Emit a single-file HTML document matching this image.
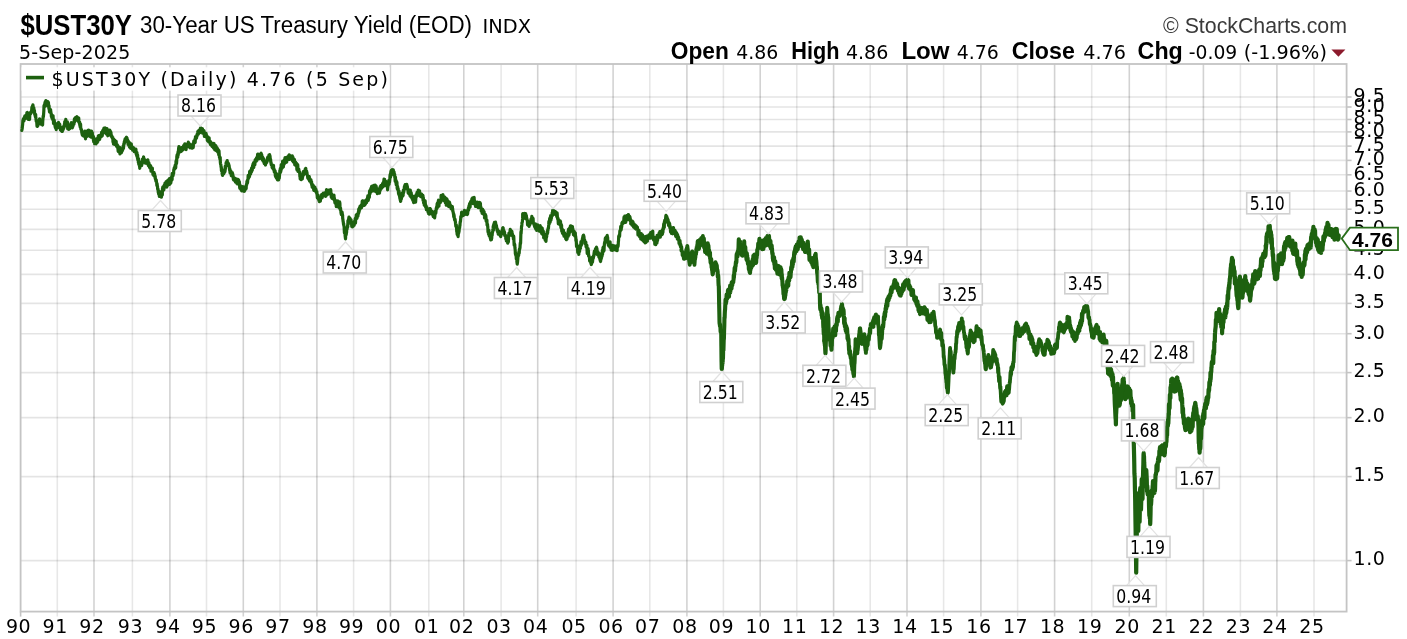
<!DOCTYPE html>
<html><head><meta charset="utf-8"><title>$UST30Y</title><style>
html,body{margin:0;padding:0;background:#fff;}
body{width:1407px;height:639px;overflow:hidden;}
svg{display:block;}
text{fill:#000;}
.ax{font-family:"DejaVu Sans",sans-serif;font-size:19px;letter-spacing:0.6px;}
.lg{font-family:"DejaVu Sans",sans-serif;font-size:19px;letter-spacing:1.1px;}
.an{font-family:"DejaVu Sans",sans-serif;font-stretch:condensed;font-size:19px;}
.lv{font-family:"Liberation Sans",sans-serif;font-size:21px;font-weight:bold;}
.t1{font-family:"Liberation Sans",sans-serif;font-size:29px;font-weight:bold;}
.t2{font-family:"Liberation Sans",sans-serif;font-size:23px;}
.t3{font-family:"DejaVu Sans",sans-serif;font-size:19.5px;}
.sc{font-family:"Liberation Sans",sans-serif;font-size:22px;fill:#3a3a3a;}
.hb{font-family:"Liberation Sans",sans-serif;font-size:23px;font-weight:bold;}
.hn{font-family:"DejaVu Sans",sans-serif;font-size:19px;}
</style></head><body>
<svg width="1407" height="639" viewBox="0 0 1407 639">
<rect x="0" y="0" width="1407" height="639" fill="#fff"/>
<line x1="20.6" y1="560.60" x2="1346.6" y2="560.60" stroke="#000" stroke-opacity="0.105" stroke-width="1.6"/>
<line x1="20.6" y1="476.60" x2="1346.6" y2="476.60" stroke="#000" stroke-opacity="0.105" stroke-width="1.6"/>
<line x1="20.6" y1="417.65" x2="1346.6" y2="417.65" stroke="#000" stroke-opacity="0.105" stroke-width="1.6"/>
<line x1="20.6" y1="372.60" x2="1346.6" y2="372.60" stroke="#000" stroke-opacity="0.105" stroke-width="1.6"/>
<line x1="20.6" y1="333.70" x2="1346.6" y2="333.70" stroke="#000" stroke-opacity="0.105" stroke-width="1.6"/>
<line x1="20.6" y1="303.40" x2="1346.6" y2="303.40" stroke="#000" stroke-opacity="0.105" stroke-width="1.6"/>
<line x1="20.6" y1="274.40" x2="1346.6" y2="274.40" stroke="#000" stroke-opacity="0.105" stroke-width="1.6"/>
<line x1="20.6" y1="250.20" x2="1346.6" y2="250.20" stroke="#000" stroke-opacity="0.105" stroke-width="1.6"/>
<line x1="20.6" y1="229.40" x2="1346.6" y2="229.40" stroke="#000" stroke-opacity="0.105" stroke-width="1.6"/>
<line x1="20.6" y1="209.20" x2="1346.6" y2="209.20" stroke="#000" stroke-opacity="0.105" stroke-width="1.6"/>
<line x1="20.6" y1="191.05" x2="1346.6" y2="191.05" stroke="#000" stroke-opacity="0.105" stroke-width="1.6"/>
<line x1="20.6" y1="174.80" x2="1346.6" y2="174.80" stroke="#000" stroke-opacity="0.105" stroke-width="1.6"/>
<line x1="20.6" y1="160.40" x2="1346.6" y2="160.40" stroke="#000" stroke-opacity="0.105" stroke-width="1.6"/>
<line x1="20.6" y1="146.10" x2="1346.6" y2="146.10" stroke="#000" stroke-opacity="0.105" stroke-width="1.6"/>
<line x1="20.6" y1="131.90" x2="1346.6" y2="131.90" stroke="#000" stroke-opacity="0.105" stroke-width="1.6"/>
<line x1="20.6" y1="119.50" x2="1346.6" y2="119.50" stroke="#000" stroke-opacity="0.105" stroke-width="1.6"/>
<line x1="20.6" y1="107.00" x2="1346.6" y2="107.00" stroke="#000" stroke-opacity="0.105" stroke-width="1.6"/>
<line x1="20.6" y1="97.00" x2="1346.6" y2="97.00" stroke="#000" stroke-opacity="0.105" stroke-width="1.6"/>
<line x1="57.30" y1="64.0" x2="57.30" y2="616.6" stroke="#000" stroke-opacity="0.095" stroke-width="1.6"/>
<line x1="94.00" y1="64.0" x2="94.00" y2="616.6" stroke="#000" stroke-opacity="0.175" stroke-width="1.6"/>
<line x1="132.40" y1="64.0" x2="132.40" y2="616.6" stroke="#000" stroke-opacity="0.095" stroke-width="1.6"/>
<line x1="169.90" y1="64.0" x2="169.90" y2="616.6" stroke="#000" stroke-opacity="0.175" stroke-width="1.6"/>
<line x1="206.50" y1="64.0" x2="206.50" y2="616.6" stroke="#000" stroke-opacity="0.095" stroke-width="1.6"/>
<line x1="243.30" y1="64.0" x2="243.30" y2="616.6" stroke="#000" stroke-opacity="0.175" stroke-width="1.6"/>
<line x1="280.00" y1="64.0" x2="280.00" y2="616.6" stroke="#000" stroke-opacity="0.095" stroke-width="1.6"/>
<line x1="316.90" y1="64.0" x2="316.90" y2="616.6" stroke="#000" stroke-opacity="0.175" stroke-width="1.6"/>
<line x1="353.60" y1="64.0" x2="353.60" y2="616.6" stroke="#000" stroke-opacity="0.095" stroke-width="1.6"/>
<line x1="390.40" y1="64.0" x2="390.40" y2="616.6" stroke="#000" stroke-opacity="0.175" stroke-width="1.6"/>
<line x1="428.80" y1="64.0" x2="428.80" y2="616.6" stroke="#000" stroke-opacity="0.095" stroke-width="1.6"/>
<line x1="463.80" y1="64.0" x2="463.80" y2="616.6" stroke="#000" stroke-opacity="0.175" stroke-width="1.6"/>
<line x1="501.10" y1="64.0" x2="501.10" y2="616.6" stroke="#000" stroke-opacity="0.095" stroke-width="1.6"/>
<line x1="537.70" y1="64.0" x2="537.70" y2="616.6" stroke="#000" stroke-opacity="0.175" stroke-width="1.6"/>
<line x1="576.10" y1="64.0" x2="576.10" y2="616.6" stroke="#000" stroke-opacity="0.095" stroke-width="1.6"/>
<line x1="613.10" y1="64.0" x2="613.10" y2="616.6" stroke="#000" stroke-opacity="0.175" stroke-width="1.6"/>
<line x1="649.80" y1="64.0" x2="649.80" y2="616.6" stroke="#000" stroke-opacity="0.095" stroke-width="1.6"/>
<line x1="686.90" y1="64.0" x2="686.90" y2="616.6" stroke="#000" stroke-opacity="0.175" stroke-width="1.6"/>
<line x1="723.40" y1="64.0" x2="723.40" y2="616.6" stroke="#000" stroke-opacity="0.095" stroke-width="1.6"/>
<line x1="760.20" y1="64.0" x2="760.20" y2="616.6" stroke="#000" stroke-opacity="0.175" stroke-width="1.6"/>
<line x1="796.80" y1="64.0" x2="796.80" y2="616.6" stroke="#000" stroke-opacity="0.095" stroke-width="1.6"/>
<line x1="833.60" y1="64.0" x2="833.60" y2="616.6" stroke="#000" stroke-opacity="0.175" stroke-width="1.6"/>
<line x1="870.20" y1="64.0" x2="870.20" y2="616.6" stroke="#000" stroke-opacity="0.095" stroke-width="1.6"/>
<line x1="907.00" y1="64.0" x2="907.00" y2="616.6" stroke="#000" stroke-opacity="0.175" stroke-width="1.6"/>
<line x1="943.60" y1="64.0" x2="943.60" y2="616.6" stroke="#000" stroke-opacity="0.095" stroke-width="1.6"/>
<line x1="980.90" y1="64.0" x2="980.90" y2="616.6" stroke="#000" stroke-opacity="0.175" stroke-width="1.6"/>
<line x1="1017.60" y1="64.0" x2="1017.60" y2="616.6" stroke="#000" stroke-opacity="0.095" stroke-width="1.6"/>
<line x1="1054.60" y1="64.0" x2="1054.60" y2="616.6" stroke="#000" stroke-opacity="0.175" stroke-width="1.6"/>
<line x1="1091.70" y1="64.0" x2="1091.70" y2="616.6" stroke="#000" stroke-opacity="0.095" stroke-width="1.6"/>
<line x1="1129.30" y1="64.0" x2="1129.30" y2="616.6" stroke="#000" stroke-opacity="0.175" stroke-width="1.6"/>
<line x1="1166.30" y1="64.0" x2="1166.30" y2="616.6" stroke="#000" stroke-opacity="0.095" stroke-width="1.6"/>
<line x1="1203.40" y1="64.0" x2="1203.40" y2="616.6" stroke="#000" stroke-opacity="0.175" stroke-width="1.6"/>
<line x1="1240.40" y1="64.0" x2="1240.40" y2="616.6" stroke="#000" stroke-opacity="0.095" stroke-width="1.6"/>
<line x1="1276.90" y1="64.0" x2="1276.90" y2="616.6" stroke="#000" stroke-opacity="0.175" stroke-width="1.6"/>
<line x1="1314.00" y1="64.0" x2="1314.00" y2="616.6" stroke="#000" stroke-opacity="0.095" stroke-width="1.6"/>
<line x1="20.6" y1="611.6" x2="20.6" y2="616.6" stroke="#c4c4c4" stroke-width="1.6"/>
<line x1="1346.6" y1="560.60" x2="1351.6" y2="560.60" stroke="#c4c4c4" stroke-width="1.6"/>
<line x1="1346.6" y1="476.60" x2="1351.6" y2="476.60" stroke="#c4c4c4" stroke-width="1.6"/>
<line x1="1346.6" y1="417.65" x2="1351.6" y2="417.65" stroke="#c4c4c4" stroke-width="1.6"/>
<line x1="1346.6" y1="372.60" x2="1351.6" y2="372.60" stroke="#c4c4c4" stroke-width="1.6"/>
<line x1="1346.6" y1="333.70" x2="1351.6" y2="333.70" stroke="#c4c4c4" stroke-width="1.6"/>
<line x1="1346.6" y1="303.40" x2="1351.6" y2="303.40" stroke="#c4c4c4" stroke-width="1.6"/>
<line x1="1346.6" y1="274.40" x2="1351.6" y2="274.40" stroke="#c4c4c4" stroke-width="1.6"/>
<line x1="1346.6" y1="250.20" x2="1351.6" y2="250.20" stroke="#c4c4c4" stroke-width="1.6"/>
<line x1="1346.6" y1="229.40" x2="1351.6" y2="229.40" stroke="#c4c4c4" stroke-width="1.6"/>
<line x1="1346.6" y1="209.20" x2="1351.6" y2="209.20" stroke="#c4c4c4" stroke-width="1.6"/>
<line x1="1346.6" y1="191.05" x2="1351.6" y2="191.05" stroke="#c4c4c4" stroke-width="1.6"/>
<line x1="1346.6" y1="174.80" x2="1351.6" y2="174.80" stroke="#c4c4c4" stroke-width="1.6"/>
<line x1="1346.6" y1="160.40" x2="1351.6" y2="160.40" stroke="#c4c4c4" stroke-width="1.6"/>
<line x1="1346.6" y1="146.10" x2="1351.6" y2="146.10" stroke="#c4c4c4" stroke-width="1.6"/>
<line x1="1346.6" y1="131.90" x2="1351.6" y2="131.90" stroke="#c4c4c4" stroke-width="1.6"/>
<line x1="1346.6" y1="119.50" x2="1351.6" y2="119.50" stroke="#c4c4c4" stroke-width="1.6"/>
<line x1="1346.6" y1="107.00" x2="1351.6" y2="107.00" stroke="#c4c4c4" stroke-width="1.6"/>
<line x1="1346.6" y1="97.00" x2="1351.6" y2="97.00" stroke="#c4c4c4" stroke-width="1.6"/>
<rect x="20.6" y="64.0" width="1326.00" height="547.60" fill="none" stroke="#c4c4c4" stroke-width="1.8"/>
<rect x="21.6" y="67.3" width="368" height="23.3" fill="#fff"/>
<rect x="26" y="75.8" width="18" height="3.6" fill="#1d610f"/>
<text x="51.5" y="85.8" class="lg" textLength="337.5">$UST30Y (Daily) 4.76 (5 Sep)</text>
<text x="1353.5" y="565.40" class="ax">1.0</text>
<text x="1353.5" y="481.40" class="ax">1.5</text>
<text x="1353.5" y="422.45" class="ax">2.0</text>
<text x="1353.5" y="377.40" class="ax">2.5</text>
<text x="1353.5" y="338.50" class="ax">3.0</text>
<text x="1353.5" y="308.20" class="ax">3.5</text>
<text x="1353.5" y="279.20" class="ax">4.0</text>
<text x="1353.5" y="255.00" class="ax">4.5</text>
<text x="1353.5" y="234.20" class="ax">5.0</text>
<text x="1353.5" y="214.00" class="ax">5.5</text>
<text x="1353.5" y="195.85" class="ax">6.0</text>
<text x="1353.5" y="179.60" class="ax">6.5</text>
<text x="1353.5" y="165.20" class="ax">7.0</text>
<text x="1353.5" y="150.90" class="ax">7.5</text>
<text x="1353.5" y="136.70" class="ax">8.0</text>
<text x="1353.5" y="124.30" class="ax">8.5</text>
<text x="1353.5" y="111.80" class="ax">9.0</text>
<text x="1353.5" y="101.80" class="ax">9.5</text>
<text x="18.60" y="633" class="ax" text-anchor="middle">90</text>
<text x="55.30" y="633" class="ax" text-anchor="middle">91</text>
<text x="92.00" y="633" class="ax" text-anchor="middle">92</text>
<text x="130.40" y="633" class="ax" text-anchor="middle">93</text>
<text x="167.90" y="633" class="ax" text-anchor="middle">94</text>
<text x="204.50" y="633" class="ax" text-anchor="middle">95</text>
<text x="241.30" y="633" class="ax" text-anchor="middle">96</text>
<text x="278.00" y="633" class="ax" text-anchor="middle">97</text>
<text x="314.90" y="633" class="ax" text-anchor="middle">98</text>
<text x="351.60" y="633" class="ax" text-anchor="middle">99</text>
<text x="388.40" y="633" class="ax" text-anchor="middle">00</text>
<text x="426.80" y="633" class="ax" text-anchor="middle">01</text>
<text x="461.80" y="633" class="ax" text-anchor="middle">02</text>
<text x="499.10" y="633" class="ax" text-anchor="middle">03</text>
<text x="535.70" y="633" class="ax" text-anchor="middle">04</text>
<text x="574.10" y="633" class="ax" text-anchor="middle">05</text>
<text x="611.10" y="633" class="ax" text-anchor="middle">06</text>
<text x="647.80" y="633" class="ax" text-anchor="middle">07</text>
<text x="684.90" y="633" class="ax" text-anchor="middle">08</text>
<text x="721.40" y="633" class="ax" text-anchor="middle">09</text>
<text x="758.20" y="633" class="ax" text-anchor="middle">10</text>
<text x="794.80" y="633" class="ax" text-anchor="middle">11</text>
<text x="831.60" y="633" class="ax" text-anchor="middle">12</text>
<text x="868.20" y="633" class="ax" text-anchor="middle">13</text>
<text x="905.00" y="633" class="ax" text-anchor="middle">14</text>
<text x="941.60" y="633" class="ax" text-anchor="middle">15</text>
<text x="978.90" y="633" class="ax" text-anchor="middle">16</text>
<text x="1015.60" y="633" class="ax" text-anchor="middle">17</text>
<text x="1052.60" y="633" class="ax" text-anchor="middle">18</text>
<text x="1089.70" y="633" class="ax" text-anchor="middle">19</text>
<text x="1127.30" y="633" class="ax" text-anchor="middle">20</text>
<text x="1164.30" y="633" class="ax" text-anchor="middle">21</text>
<text x="1201.40" y="633" class="ax" text-anchor="middle">22</text>
<text x="1238.40" y="633" class="ax" text-anchor="middle">23</text>
<text x="1274.90" y="633" class="ax" text-anchor="middle">24</text>
<text x="1312.00" y="633" class="ax" text-anchor="middle">25</text>
<path d="M21.80,130.50 L21.96,129.73 L22.12,128.95 L22.28,127.80 L22.44,125.84 L22.60,125.05 L22.90,120.33 L23.05,120.71 L23.20,119.84 L23.35,118.92 L23.50,121.35 L23.65,118.79 L23.80,119.80 L23.95,120.79 L24.10,118.88 L24.25,119.87 L24.40,117.17 L24.55,119.48 L24.70,118.85 L24.85,115.84 L25.00,118.19 L25.16,116.36 L25.31,118.89 L25.47,116.54 L25.63,116.42 L25.79,116.88 L25.94,115.92 L26.10,116.35 L26.26,115.08 L26.41,116.36 L26.57,115.56 L26.73,115.57 L26.89,112.57 L27.04,115.44 L27.20,114.97 L27.35,112.43 L27.50,114.37 L27.65,115.65 L27.80,117.02 L27.95,114.30 L28.10,117.51 L28.25,116.00 L28.40,119.47 L28.55,116.79 L28.70,117.31 L28.85,116.00 L29.00,114.57 L29.15,117.56 L29.30,118.27 L29.45,119.53 L29.60,118.98 L29.75,116.10 L29.90,113.33 L30.06,113.53 L30.21,113.21 L30.36,112.54 L30.51,114.06 L30.67,113.77 L30.82,112.42 L30.97,112.39 L31.12,111.62 L31.28,111.63 L31.43,112.16 L31.58,112.33 L31.73,109.63 L31.89,107.29 L32.04,110.70 L32.19,109.47 L32.34,110.18 L32.50,105.85 L32.65,106.11 L32.80,106.32 L32.95,104.85 L33.10,106.15 L33.25,108.76 L33.40,110.42 L33.55,112.05 L33.70,109.20 L33.85,107.89 L34.00,110.73 L34.15,112.56 L34.30,112.35 L34.45,110.39 L34.60,113.28 L34.75,114.52 L34.90,114.88 L35.05,113.84 L35.20,115.23 L35.35,116.92 L35.50,115.92 L35.65,114.22 L35.80,117.48 L35.95,119.21 L36.10,119.55 L36.25,121.49 L36.40,120.38 L36.55,121.32 L36.70,121.79 L36.85,123.67 L37.00,126.17 L37.16,123.81 L37.31,126.45 L37.47,126.33 L37.62,125.08 L37.78,124.28 L37.93,125.71 L38.09,123.09 L38.24,122.30 L38.40,120.52 L38.56,122.17 L38.71,123.86 L38.87,123.04 L39.02,122.51 L39.18,121.30 L39.33,121.38 L39.49,118.90 L39.64,121.75 L39.80,120.30 L39.96,119.10 L40.11,119.45 L40.27,119.62 L40.42,122.37 L40.58,123.67 L40.73,120.61 L40.89,123.29 L41.04,124.22 L41.20,122.47 L41.36,120.75 L41.51,121.53 L41.67,122.10 L41.82,123.91" fill="none" stroke="#1d610f" stroke-width="3.20" stroke-linejoin="round" stroke-linecap="round"/>
<path d="M41.82,123.91 L41.98,123.45 L42.13,120.88 L42.29,123.58 L42.44,121.82 L42.60,125.03 L42.76,121.03 L42.91,119.36 L43.07,117.38 L43.22,115.93 L43.38,116.90 L43.53,115.19 L43.69,112.96 L43.84,110.54 L44.00,105.67 L44.15,105.88 L44.31,105.58 L44.46,104.54 L44.61,106.14 L44.76,104.44 L44.92,103.68 L45.07,102.87 L45.22,101.79 L45.37,104.21 L45.53,106.15 L45.68,104.85 L45.83,102.58 L45.98,100.48 L46.14,102.43 L46.29,104.70 L46.44,103.81 L46.59,104.28 L46.75,105.05 L46.90,104.55 L47.06,102.47 L47.21,104.32 L47.37,104.70 L47.52,101.58 L47.68,102.57 L47.83,101.58 L47.99,103.48 L48.14,105.32 L48.30,103.64 L48.46,102.46 L48.61,106.62 L48.77,106.90 L48.92,108.85 L49.08,105.48 L49.23,108.33 L49.39,111.03 L49.54,112.00 L49.70,109.33 L49.85,109.60 L50.00,109.39 L50.16,111.39 L50.31,112.39 L50.46,111.60 L50.61,109.54 L50.77,112.41 L50.92,111.79 L51.07,113.59 L51.22,113.92 L51.37,116.40 L51.53,116.75 L51.68,114.71 L51.83,115.56 L51.98,118.20 L52.13,115.80 L52.29,116.80 L52.44,118.50 L52.59,119.37 L52.74,118.78 L52.90,116.11 L53.05,115.66 L53.20,118.05 L53.36,119.60 L53.52,123.52 L53.68,120.30 L53.85,122.66 L54.01,123.23 L54.17,120.14 L54.33,120.90 L54.49,123.02 L54.65,123.07 L54.82,124.03 L54.98,126.02 L55.14,125.36 L55.30,127.74 L55.45,126.48 L55.60,126.21 L55.76,127.72 L55.91,126.49 L56.06,127.38 L56.21,129.59 L56.37,127.87 L56.52,126.90 L56.67,127.70 L56.82,126.08 L56.97,127.56 L57.13,124.25 L57.28,125.90 L57.43,124.50 L57.58,123.44 L57.73,126.77 L57.89,123.63 L58.04,126.39 L58.19,125.37 L58.34,126.05 L58.50,122.42 L58.65,124.49 L58.80,125.37 L58.95,123.74 L59.10,123.52 L59.26,127.62 L59.41,125.72 L59.56,124.54 L59.71,124.16 L59.87,125.95 L60.02,126.61 L60.17,126.86 L60.32,129.54 L60.48,127.56 L60.63,128.46 L60.78,130.49 L60.93,127.73 L61.09,130.31 L61.24,130.37 L61.39,128.84 L61.54,128.43 L61.70,128.72 L61.85,127.93" fill="none" stroke="#1d610f" stroke-width="3.20" stroke-linejoin="round" stroke-linecap="round"/>
<path d="M61.85,127.93 L62.00,131.47 L62.15,128.68 L62.30,131.19 L62.46,131.28 L62.61,129.02 L62.76,129.40 L62.91,126.79 L63.06,129.75 L63.22,128.06 L63.37,127.95 L63.52,128.09 L63.67,128.57 L63.82,127.07 L63.98,126.85 L64.13,125.64 L64.28,125.96 L64.43,123.82 L64.58,124.73 L64.74,121.70 L64.89,122.65 L65.04,126.24 L65.19,124.26 L65.34,121.45 L65.50,122.70 L65.65,121.03 L65.80,119.31 L65.96,120.57 L66.11,123.38 L66.27,123.91 L66.42,123.57 L66.58,122.45 L66.73,122.11 L66.89,125.87 L67.04,125.56 L67.20,123.90 L67.36,121.88 L67.51,122.61 L67.67,128.80 L67.82,125.43 L67.98,126.23 L68.13,127.11 L68.29,127.02 L68.44,127.02 L68.60,125.58 L68.75,125.46 L68.91,129.48 L69.06,126.96 L69.22,128.54 L69.37,125.15 L69.52,126.20 L69.68,127.26 L69.83,128.68 L69.99,125.81 L70.14,127.47 L70.30,127.59 L70.45,125.88 L70.60,127.15 L70.76,125.44 L70.91,125.04 L71.07,126.05 L71.22,122.49 L71.38,125.08 L71.53,124.48 L71.68,123.57 L71.84,124.82 L71.99,126.94 L72.15,125.79 L72.30,127.91 L72.45,124.58 L72.60,123.08 L72.76,126.66 L72.91,125.75 L73.06,126.03 L73.21,123.19 L73.36,124.53 L73.52,123.85 L73.67,123.97 L73.82,122.87 L73.97,124.16 L74.12,121.60 L74.28,120.19 L74.43,118.83 L74.58,122.21 L74.73,120.20 L74.88,118.98 L75.04,118.59 L75.19,119.05 L75.34,117.78 L75.49,118.71 L75.64,118.31 L75.80,118.13 L75.95,117.30 L76.10,118.38 L76.26,118.10 L76.41,118.93 L76.57,119.44 L76.72,119.80 L76.88,116.58 L77.03,117.63 L77.19,117.75 L77.34,120.20 L77.50,117.47 L77.66,118.01 L77.81,118.87 L77.97,119.13 L78.12,121.26 L78.28,119.82 L78.43,121.56 L78.59,118.50 L78.74,117.98 L78.90,121.59 L79.06,122.25 L79.21,122.95 L79.37,123.04 L79.52,124.03 L79.68,122.20 L79.83,125.33 L79.99,124.47 L80.14,126.91 L80.30,126.72 L80.46,123.99 L80.61,124.63 L80.77,128.87 L80.92,128.66 L81.08,128.64 L81.23,129.98 L81.39,129.70 L81.54,129.78 L81.70,131.12 L81.85,131.65" fill="none" stroke="#1d610f" stroke-width="3.20" stroke-linejoin="round" stroke-linecap="round"/>
<path d="M81.85,131.65 L82.00,134.01 L82.16,132.65 L82.31,134.94 L82.46,135.12 L82.61,135.30 L82.76,135.40 L82.92,133.91 L83.07,133.62 L83.22,133.26 L83.37,132.41 L83.52,133.30 L83.68,132.78 L83.83,136.15 L83.98,135.59 L84.13,134.05 L84.28,131.49 L84.44,133.61 L84.59,133.79 L84.74,132.94 L84.89,132.71 L85.04,131.13 L85.20,134.92 L85.35,135.20 L85.50,138.80 L85.66,136.43 L85.81,135.22 L85.97,137.08 L86.12,135.51 L86.28,134.93 L86.43,133.79 L86.59,132.94 L86.74,135.68 L86.90,135.59 L87.06,136.48 L87.21,133.49 L87.37,133.00 L87.52,131.33 L87.68,133.44 L87.83,130.42 L87.99,132.36 L88.14,133.63 L88.30,134.38 L88.45,131.30 L88.61,133.54 L88.76,131.63 L88.92,131.11 L89.07,130.23 L89.22,133.81 L89.38,135.74 L89.53,133.08 L89.69,132.15 L89.84,132.63 L90.00,136.38 L90.15,136.17 L90.30,133.63 L90.46,131.03 L90.61,131.98 L90.77,135.10 L90.92,137.08 L91.08,134.54 L91.23,133.18 L91.38,133.08 L91.54,131.04 L91.69,134.66 L91.85,132.79 L92.00,135.50 L92.15,132.63 L92.31,132.76 L92.46,135.48 L92.61,135.06 L92.76,137.59 L92.92,137.54 L93.07,136.07 L93.22,138.65 L93.37,140.08 L93.53,136.71 L93.68,141.63 L93.83,141.44 L93.98,142.10 L94.14,138.70 L94.29,139.72 L94.44,140.90 L94.59,143.73 L94.75,141.10 L94.90,141.50 L95.05,140.33 L95.21,141.23 L95.36,142.41 L95.52,139.53 L95.67,140.22 L95.83,141.97 L95.98,143.99 L96.13,143.10 L96.29,141.26 L96.44,139.28 L96.60,138.93 L96.75,139.12 L96.90,140.28 L97.06,140.21 L97.21,142.65 L97.37,141.20 L97.52,138.61 L97.67,141.64 L97.83,141.53 L97.98,140.12 L98.14,138.31 L98.29,135.86 L98.45,136.22 L98.60,139.06 L98.75,137.19 L98.90,135.71 L99.06,137.38 L99.21,137.80 L99.36,138.32 L99.51,138.39 L99.66,139.39 L99.82,136.17 L99.97,137.77 L100.12,135.15 L100.27,136.73 L100.42,136.28 L100.58,136.09 L100.73,136.97 L100.88,135.60 L101.03,136.73 L101.18,136.56 L101.34,135.18 L101.49,133.44 L101.64,132.39 L101.79,132.16 L101.94,132.33" fill="none" stroke="#1d610f" stroke-width="3.20" stroke-linejoin="round" stroke-linecap="round"/>
<path d="M101.94,132.33 L102.10,132.40 L102.25,135.84 L102.40,134.08 L102.55,133.61 L102.71,130.95 L102.86,130.29 L103.02,130.60 L103.17,131.43 L103.33,129.79 L103.48,133.22 L103.63,130.94 L103.79,132.67 L103.94,128.02 L104.10,130.08 L104.25,131.07 L104.40,131.20 L104.56,131.80 L104.71,131.46 L104.87,131.13 L105.02,128.00 L105.17,128.66 L105.33,128.00 L105.48,130.15 L105.64,130.77 L105.79,130.24 L105.95,129.16 L106.10,129.22 L106.25,132.99 L106.40,134.04 L106.56,131.75 L106.71,133.17 L106.86,129.37 L107.01,128.55 L107.16,129.59 L107.32,129.63 L107.47,130.20 L107.62,131.57 L107.77,135.80 L107.92,132.06 L108.08,132.05 L108.23,132.43 L108.38,132.11 L108.53,133.51 L108.68,135.23 L108.84,131.26 L108.99,132.22 L109.14,131.91 L109.29,132.83 L109.44,130.35 L109.60,130.12 L109.75,130.21 L109.90,132.42 L110.05,133.29 L110.21,133.57 L110.36,131.12 L110.52,132.37 L110.67,132.66 L110.83,131.95 L110.98,132.69 L111.13,135.53 L111.29,136.35 L111.44,135.95 L111.60,136.84 L111.75,135.63 L111.90,136.49 L112.06,136.96 L112.21,138.12 L112.37,137.77 L112.52,137.80 L112.67,138.06 L112.83,137.62 L112.98,142.04 L113.14,141.04 L113.29,140.85 L113.45,143.83 L113.60,143.60 L113.75,139.17 L113.90,141.35 L114.06,142.33 L114.21,144.32 L114.36,144.19 L114.51,143.46 L114.66,140.44 L114.82,140.11 L114.97,141.85 L115.12,142.85 L115.27,140.98 L115.42,141.50 L115.58,141.75 L115.73,142.65 L115.88,143.45 L116.03,142.88 L116.18,141.41 L116.34,144.81 L116.49,146.48 L116.64,144.69 L116.79,146.08 L116.94,145.86 L117.10,146.34 L117.25,146.45 L117.40,144.84 L117.55,146.59 L117.70,148.00 L117.86,145.79 L118.01,149.65 L118.16,151.22 L118.31,151.44 L118.46,151.67 L118.62,150.56 L118.77,148.70 L118.92,147.93 L119.07,147.57 L119.22,149.04 L119.38,149.44 L119.53,150.80 L119.68,147.36 L119.83,153.02 L119.98,153.91 L120.14,152.06 L120.29,152.53 L120.44,152.55 L120.59,152.44 L120.74,151.87 L120.90,152.02 L121.05,151.19 L121.20,152.64 L121.35,152.32 L121.51,152.49 L121.66,150.44 L121.81,150.81 L121.96,150.59" fill="none" stroke="#1d610f" stroke-width="3.20" stroke-linejoin="round" stroke-linecap="round"/>
<path d="M121.96,150.59 L122.12,151.02 L122.27,148.30 L122.42,149.37 L122.58,150.19 L122.73,149.51 L122.88,147.52 L123.04,146.39 L123.19,146.09 L123.34,147.11 L123.49,148.31 L123.65,145.75 L123.80,143.92 L123.95,144.55 L124.11,144.14 L124.26,142.01 L124.41,141.28 L124.56,141.72 L124.72,142.76 L124.87,140.00 L125.02,139.16 L125.18,140.92 L125.33,138.58 L125.48,139.61 L125.64,140.02 L125.79,139.17 L125.94,138.32 L126.09,137.91 L126.25,137.51 L126.40,137.97 L126.55,137.36 L126.70,139.60 L126.85,137.89 L127.01,138.16 L127.16,139.12 L127.31,141.10 L127.46,139.59 L127.61,141.12 L127.76,140.16 L127.92,142.08 L128.07,144.40 L128.22,142.14 L128.37,142.98 L128.52,141.42 L128.67,144.06 L128.83,145.45 L128.98,144.36 L129.13,142.52 L129.28,144.53 L129.43,146.50 L129.58,147.05 L129.74,146.78 L129.89,142.76 L130.04,143.29 L130.19,146.63 L130.34,143.67 L130.49,146.34 L130.65,148.29 L130.80,147.21 L130.95,147.45 L131.10,145.53 L131.25,143.77 L131.40,145.06 L131.55,145.45 L131.71,145.94 L131.86,147.35 L132.01,146.65 L132.16,147.09 L132.31,147.72 L132.46,147.40 L132.62,150.23 L132.77,149.16 L132.92,148.49 L133.07,148.04 L133.22,147.46 L133.37,150.43 L133.53,149.71 L133.68,147.84 L133.83,148.24 L133.98,149.18 L134.13,149.19 L134.28,151.67 L134.44,149.23 L134.59,151.17 L134.74,151.41 L134.89,149.59 L135.04,150.87 L135.19,151.06 L135.35,152.04 L135.50,150.93 L135.65,151.75 L135.80,149.07 L135.95,149.54 L136.10,152.76 L136.26,154.40 L136.41,153.59 L136.56,152.77 L136.71,155.56 L136.87,152.33 L137.02,153.43 L137.17,156.50 L137.32,157.83 L137.47,156.16 L137.63,155.13 L137.78,159.88 L137.93,159.90 L138.08,158.78 L138.23,160.32 L138.39,162.51 L138.54,158.50 L138.69,163.15 L138.84,164.51 L139.00,161.16 L139.15,164.90 L139.30,162.67 L139.46,166.09 L139.61,165.95 L139.77,168.29 L139.93,165.07 L140.08,164.87 L140.24,166.31 L140.40,164.15 L140.55,163.34 L140.71,163.54 L140.87,163.99 L141.02,162.42 L141.18,164.08 L141.33,164.47 L141.49,163.68 L141.65,165.69 L141.80,163.05 L141.96,164.51 L142.12,161.97" fill="none" stroke="#1d610f" stroke-width="3.20" stroke-linejoin="round" stroke-linecap="round"/>
<path d="M142.12,161.97 L142.27,162.96 L142.43,159.03 L142.59,160.84 L142.74,160.63 L142.90,159.89 L143.05,159.50 L143.21,159.72 L143.36,159.18 L143.51,156.76 L143.67,158.48 L143.82,159.08 L143.97,159.33 L144.13,158.62 L144.28,159.81 L144.43,161.57 L144.59,160.57 L144.74,159.92 L144.89,162.53 L145.05,162.76 L145.20,162.77 L145.35,163.14 L145.51,161.05 L145.66,160.74 L145.81,162.53 L145.97,160.60 L146.12,160.74 L146.27,161.58 L146.43,161.88 L146.58,161.05 L146.73,162.75 L146.89,161.57 L147.04,162.63 L147.19,163.52 L147.35,163.17 L147.50,163.16 L147.65,160.62 L147.80,159.84 L147.95,160.86 L148.11,163.01 L148.26,165.41 L148.41,162.25 L148.56,163.80 L148.71,162.74 L148.86,162.81 L149.02,163.73 L149.17,165.66 L149.32,165.73 L149.47,167.42 L149.62,164.88 L149.77,167.14 L149.93,168.09 L150.08,167.26 L150.23,167.77 L150.38,166.52 L150.53,165.51 L150.68,166.39 L150.84,166.46 L150.99,171.17 L151.14,168.67 L151.29,171.05 L151.44,169.75 L151.59,169.68 L151.75,170.47 L151.90,168.58 L152.05,170.71 L152.20,170.70 L152.35,168.20 L152.50,170.91 L152.65,171.94 L152.80,172.38 L152.95,174.52 L153.10,172.45 L153.25,173.52 L153.40,174.49 L153.55,172.60 L153.70,175.48 L153.85,172.67 L154.00,172.34 L154.15,175.27 L154.30,174.03 L154.45,175.42 L154.60,173.83 L154.75,176.22 L154.90,175.47 L155.05,177.80 L155.20,176.02 L155.35,178.80 L155.50,178.89 L155.65,179.75 L155.80,180.15 L155.95,181.15 L156.11,179.77 L156.26,179.89 L156.42,182.00 L156.57,182.13 L156.72,183.39 L156.88,185.60 L157.03,183.55 L157.18,184.75 L157.34,186.00 L157.49,186.26 L157.65,188.96 L157.80,189.61 L157.95,189.16 L158.10,189.19 L158.25,192.31 L158.40,191.46 L158.55,193.50 L158.70,194.32 L158.85,191.46 L159.00,192.23 L159.15,194.50 L159.30,196.10 L159.47,196.44 L159.63,196.14 L159.80,195.96 L159.97,193.36 L160.13,192.38 L160.30,192.96 L160.46,192.23 L160.61,194.70 L160.77,191.94 L160.93,194.94 L161.09,195.06 L161.24,193.41 L161.40,197.10 L161.56,196.37 L161.71,195.20 L161.87,192.67 L162.02,192.30 L162.18,194.63" fill="none" stroke="#1d610f" stroke-width="3.20" stroke-linejoin="round" stroke-linecap="round"/>
<path d="M162.18,194.63 L162.33,191.28 L162.49,188.68 L162.64,187.95 L162.80,187.13 L162.95,188.46 L163.10,188.25 L163.26,187.20 L163.41,186.78 L163.56,189.29 L163.71,186.09 L163.87,190.03 L164.02,187.25 L164.17,185.38 L164.32,187.44 L164.47,187.51 L164.63,184.92 L164.78,186.62 L164.93,183.20 L165.08,183.29 L165.23,186.29 L165.39,184.99 L165.54,182.90 L165.69,184.86 L165.84,185.93 L166.00,184.71 L166.15,181.53 L166.30,182.64 L166.45,184.17 L166.61,185.14 L166.76,187.06 L166.91,184.47 L167.07,183.34 L167.22,183.66 L167.37,185.62 L167.53,182.98 L167.68,185.55 L167.83,180.21 L167.99,183.73 L168.14,182.43 L168.29,183.59 L168.45,184.13 L168.60,181.34 L168.75,182.00 L168.91,182.54 L169.06,183.08 L169.21,180.81 L169.37,179.95 L169.52,178.60 L169.67,184.40 L169.83,182.09 L169.98,181.31 L170.13,179.11 L170.29,182.04 L170.44,180.67 L170.59,183.16 L170.75,182.98 L170.90,181.63 L171.05,181.80 L171.20,178.75 L171.35,178.78 L171.51,178.15 L171.66,176.66 L171.81,177.88 L171.96,177.74 L172.11,179.80 L172.26,173.40 L172.42,174.81 L172.57,174.60 L172.72,174.87 L172.87,175.83 L173.02,175.68 L173.17,174.67 L173.33,173.20 L173.48,173.81 L173.63,173.38 L173.78,169.53 L173.93,170.34 L174.08,168.51 L174.24,167.84 L174.39,169.22 L174.54,169.10 L174.69,168.74 L174.84,166.73 L174.99,166.74 L175.15,165.26 L175.30,166.35 L175.45,166.73 L175.60,168.04 L175.75,167.15 L175.90,163.26 L176.06,162.09 L176.21,160.49 L176.36,161.36 L176.51,163.61 L176.67,161.86 L176.82,156.45 L176.97,155.71 L177.12,154.92 L177.27,156.87 L177.43,156.17 L177.58,155.88 L177.73,157.49 L177.88,153.54 L178.03,151.84 L178.19,155.18 L178.34,153.34 L178.49,150.70 L178.64,148.00 L178.80,147.33 L178.95,146.67 L179.10,148.06 L179.25,148.93 L179.40,150.64 L179.56,149.52 L179.71,148.41 L179.86,148.07 L180.01,151.98 L180.17,147.71 L180.32,149.40 L180.47,149.74 L180.62,150.78 L180.77,149.62 L180.93,150.68 L181.08,151.53 L181.23,150.18 L181.38,149.06 L181.53,148.93 L181.69,147.52 L181.84,148.03 L181.99,147.83 L182.14,148.34 L182.30,149.98" fill="none" stroke="#1d610f" stroke-width="3.20" stroke-linejoin="round" stroke-linecap="round"/>
<path d="M182.30,149.98 L182.45,150.23 L182.60,147.47 L182.75,148.13 L182.90,147.87 L183.05,148.46 L183.21,147.49 L183.36,147.54 L183.51,146.42 L183.66,145.57 L183.81,147.77 L183.96,149.04 L184.11,148.43 L184.26,147.88 L184.42,147.42 L184.57,146.18 L184.72,143.78 L184.87,146.69 L185.02,146.84 L185.17,145.72 L185.32,144.74 L185.47,147.77 L185.63,144.03 L185.78,148.21 L185.93,147.69 L186.08,149.73 L186.23,146.03 L186.38,145.79 L186.53,144.92 L186.68,145.56 L186.84,145.13 L186.99,144.11 L187.14,146.46 L187.29,144.29 L187.44,143.96 L187.59,145.37 L187.74,144.07 L187.89,143.74 L188.05,144.74 L188.20,143.87 L188.35,142.20 L188.50,143.33 L188.65,143.61 L188.80,146.64 L188.95,143.40 L189.11,145.59 L189.26,143.67 L189.41,143.80 L189.56,143.94 L189.71,144.94 L189.86,146.19 L190.02,147.95 L190.17,144.96 L190.32,147.07 L190.47,147.26 L190.62,147.10 L190.77,144.75 L190.93,146.60 L191.08,145.70 L191.23,146.18 L191.38,145.45 L191.53,146.68 L191.68,147.77 L191.84,148.04 L191.99,146.06 L192.14,147.22 L192.29,148.20 L192.44,144.87 L192.59,147.43 L192.75,143.94 L192.90,145.66 L193.05,146.20 L193.20,147.65 L193.35,145.84 L193.50,143.83 L193.66,142.43 L193.81,141.00 L193.96,143.28 L194.11,142.13 L194.27,140.75 L194.42,141.96 L194.57,140.12 L194.72,139.79 L194.87,139.40 L195.03,142.18 L195.18,142.47 L195.33,139.85 L195.48,136.69 L195.63,138.24 L195.79,138.14 L195.94,138.26 L196.09,138.35 L196.24,136.81 L196.40,138.03 L196.55,138.05 L196.70,136.92 L196.85,135.44 L197.00,134.68 L197.16,136.01 L197.31,133.51 L197.46,133.96 L197.61,133.01 L197.77,131.55 L197.92,133.90 L198.07,133.45 L198.22,133.20 L198.37,134.18 L198.53,130.71 L198.68,131.61 L198.83,132.20 L198.98,132.96 L199.13,130.02 L199.29,131.56 L199.44,131.01 L199.59,132.28 L199.74,132.06 L199.90,130.83 L200.05,132.59 L200.20,129.62 L200.35,128.33 L200.50,128.15 L200.65,127.87 L200.81,128.47 L200.96,128.05 L201.11,128.21 L201.26,129.68 L201.41,131.05 L201.56,129.54 L201.71,131.79 L201.86,129.65 L202.02,129.98 L202.17,128.78 L202.32,128.87" fill="none" stroke="#1d610f" stroke-width="3.20" stroke-linejoin="round" stroke-linecap="round"/>
<path d="M202.32,128.87 L202.47,129.35 L202.62,133.07 L202.77,132.98 L202.92,130.75 L203.07,132.69 L203.23,133.39 L203.38,132.72 L203.53,132.98 L203.68,132.68 L203.83,132.36 L203.98,130.57 L204.13,132.60 L204.28,135.34 L204.44,136.49 L204.59,134.43 L204.74,133.24 L204.89,133.78 L205.04,135.67 L205.19,135.55 L205.34,134.26 L205.49,135.36 L205.65,134.97 L205.80,136.02 L205.95,135.10 L206.10,133.37 L206.25,135.31 L206.40,137.10 L206.56,135.08 L206.71,136.11 L206.86,138.03 L207.01,136.95 L207.17,136.40 L207.32,140.33 L207.47,139.92 L207.62,140.27 L207.77,137.66 L207.93,140.82 L208.08,137.13 L208.23,137.87 L208.38,140.10 L208.53,141.80 L208.69,139.19 L208.84,138.97 L208.99,140.33 L209.14,137.81 L209.30,140.98 L209.45,141.91 L209.60,140.82 L209.75,142.04 L209.90,142.86 L210.06,142.53 L210.21,142.85 L210.36,144.50 L210.51,142.20 L210.67,142.55 L210.82,141.77 L210.97,143.90 L211.12,142.55 L211.27,143.54 L211.43,143.45 L211.58,143.43 L211.73,145.93 L211.88,144.17 L212.03,145.96 L212.19,145.86 L212.34,146.75 L212.49,145.05 L212.64,146.33 L212.80,146.66 L212.95,144.96 L213.10,145.93 L213.25,145.74 L213.40,145.94 L213.55,148.06 L213.71,145.89 L213.86,143.97 L214.01,143.44 L214.16,145.27 L214.31,145.59 L214.46,146.65 L214.61,147.78 L214.76,149.88 L214.92,148.43 L215.07,148.24 L215.22,146.47 L215.37,147.87 L215.52,149.47 L215.67,150.11 L215.82,145.68 L215.97,148.62 L216.13,150.65 L216.28,150.31 L216.43,147.00 L216.58,147.87 L216.73,149.58 L216.88,149.99 L217.03,148.48 L217.18,148.07 L217.34,150.80 L217.49,148.50 L217.64,152.00 L217.79,151.20 L217.94,151.56 L218.09,149.50 L218.24,150.13 L218.39,152.37 L218.55,150.12 L218.70,154.75 L218.85,151.31 L219.00,150.73 L219.15,153.40 L219.30,155.59 L219.46,157.38 L219.61,157.09 L219.76,158.00 L219.91,158.94 L220.07,159.39 L220.22,157.32 L220.37,162.47 L220.52,163.66 L220.67,164.57 L220.83,164.38 L220.98,166.26 L221.13,167.13 L221.28,167.97 L221.43,170.60 L221.59,167.99 L221.74,170.65 L221.89,170.32 L222.04,171.96 L222.20,173.56 L222.35,173.85" fill="none" stroke="#1d610f" stroke-width="3.20" stroke-linejoin="round" stroke-linecap="round"/>
<path d="M222.35,173.85 L222.50,175.38 L222.65,174.42 L222.80,174.67 L222.95,173.49 L223.11,171.41 L223.26,173.42 L223.41,172.80 L223.56,172.31 L223.71,173.88 L223.86,171.23 L224.02,170.89 L224.17,171.24 L224.32,171.45 L224.47,169.88 L224.62,171.35 L224.77,172.06 L224.93,169.70 L225.08,171.23 L225.23,166.05 L225.38,169.02 L225.53,166.98 L225.68,166.64 L225.84,165.44 L225.99,164.25 L226.14,162.55 L226.29,162.90 L226.44,165.03 L226.59,165.03 L226.75,162.47 L226.90,161.43 L227.05,161.02 L227.20,160.60 L227.35,163.17 L227.50,163.20 L227.66,162.74 L227.81,162.43 L227.96,162.88 L228.11,164.86 L228.27,165.45 L228.42,163.45 L228.57,165.96 L228.72,164.03 L228.87,166.41 L229.03,165.21 L229.18,166.05 L229.33,168.01 L229.48,168.92 L229.63,170.43 L229.79,168.62 L229.94,171.96 L230.09,173.03 L230.24,171.81 L230.40,172.47 L230.55,171.22 L230.70,172.08 L230.85,170.78 L231.00,172.60 L231.16,173.49 L231.31,175.59 L231.46,175.83 L231.61,175.90 L231.77,174.41 L231.92,174.34 L232.07,174.34 L232.22,175.34 L232.37,172.72 L232.53,176.01 L232.68,173.81 L232.83,174.85 L232.98,176.12 L233.13,175.92 L233.29,179.17 L233.44,177.73 L233.59,179.84 L233.74,180.03 L233.90,177.81 L234.05,178.58 L234.20,180.23 L234.35,178.51 L234.50,178.74 L234.66,178.01 L234.81,178.81 L234.96,178.59 L235.11,179.29 L235.27,180.95 L235.42,182.15 L235.57,180.79 L235.72,180.57 L235.87,181.55 L236.03,180.28 L236.18,178.90 L236.33,181.70 L236.48,179.69 L236.63,181.87 L236.79,179.89 L236.94,183.42 L237.09,180.44 L237.24,182.36 L237.40,183.97 L237.55,181.01 L237.70,183.74 L237.85,181.28 L238.00,179.25 L238.15,182.27 L238.30,183.27 L238.46,182.55 L238.61,179.95 L238.76,182.00 L238.91,182.69 L239.06,183.02 L239.21,183.48 L239.36,181.68 L239.51,183.13 L239.66,187.20 L239.81,188.28 L239.97,186.08 L240.12,185.14 L240.27,186.68 L240.42,188.33 L240.57,188.56 L240.72,186.13 L240.87,187.44 L241.02,187.89 L241.17,189.99 L241.33,190.38 L241.48,189.63 L241.63,190.51 L241.78,188.56 L241.93,190.86 L242.08,188.82 L242.23,189.50 L242.38,190.56" fill="none" stroke="#1d610f" stroke-width="3.20" stroke-linejoin="round" stroke-linecap="round"/>
<path d="M242.38,190.56 L242.53,188.34 L242.69,188.09 L242.84,186.59 L242.99,189.02 L243.14,189.53 L243.29,189.40 L243.44,190.65 L243.59,187.34 L243.74,189.38 L243.89,190.18 L244.04,189.96 L244.20,191.20 L244.35,191.38 L244.50,190.75 L244.65,189.31 L244.80,189.40 L244.95,189.76 L245.10,190.13 L245.25,187.70 L245.41,189.19 L245.56,186.27 L245.71,187.61 L245.86,187.13 L246.01,186.68 L246.16,188.64 L246.32,185.38 L246.47,184.20 L246.62,184.41 L246.77,184.68 L246.92,181.24 L247.07,182.18 L247.23,180.64 L247.38,181.80 L247.53,182.86 L247.68,180.93 L247.83,179.77 L247.98,179.49 L248.14,175.46 L248.29,178.11 L248.44,178.47 L248.59,177.72 L248.74,176.39 L248.89,175.21 L249.05,175.36 L249.20,177.11 L249.35,175.44 L249.50,176.73 L249.65,171.34 L249.81,172.57 L249.96,173.81 L250.11,173.58 L250.26,170.96 L250.42,171.42 L250.57,174.12 L250.72,171.09 L250.87,170.43 L251.03,169.89 L251.18,170.33 L251.33,171.92 L251.48,171.92 L251.64,167.79 L251.79,171.23 L251.94,168.95 L252.09,167.92 L252.25,170.51 L252.40,168.42 L252.55,165.77 L252.71,165.49 L252.86,164.93 L253.01,164.00 L253.16,164.35 L253.32,165.89 L253.47,165.41 L253.62,162.54 L253.77,167.46 L253.93,163.27 L254.08,163.38 L254.23,163.06 L254.38,163.79 L254.54,162.22 L254.69,162.65 L254.84,164.93 L254.99,162.49 L255.15,159.83 L255.30,160.84 L255.45,159.51 L255.60,159.66 L255.75,160.44 L255.91,160.81 L256.06,159.96 L256.21,161.26 L256.36,160.08 L256.51,157.83 L256.66,160.07 L256.82,158.72 L256.97,160.36 L257.12,157.93 L257.27,158.74 L257.42,158.39 L257.57,154.33 L257.73,154.17 L257.88,154.15 L258.03,157.99 L258.18,154.48 L258.33,157.52 L258.48,158.75 L258.64,158.31 L258.79,158.50 L258.94,156.93 L259.09,157.22 L259.24,157.70 L259.39,158.19 L259.55,158.49 L259.70,157.06 L259.85,155.72 L260.00,155.33 L260.15,156.75 L260.30,154.24 L260.45,154.11 L260.61,155.32 L260.76,155.52 L260.91,156.03 L261.06,153.16 L261.21,155.20 L261.36,156.08 L261.51,157.87 L261.66,154.47 L261.82,155.90 L261.97,157.50 L262.12,158.04 L262.27,159.33 L262.42,159.79" fill="none" stroke="#1d610f" stroke-width="3.20" stroke-linejoin="round" stroke-linecap="round"/>
<path d="M262.42,159.79 L262.57,157.12 L262.72,158.96 L262.87,158.33 L263.03,157.69 L263.18,161.08 L263.33,159.20 L263.48,158.53 L263.63,159.19 L263.78,158.97 L263.93,161.80 L264.08,161.96 L264.24,163.70 L264.39,163.02 L264.54,161.55 L264.69,163.72 L264.84,162.14 L264.99,162.16 L265.14,162.70 L265.29,163.17 L265.45,165.02 L265.60,163.03 L265.75,163.85 L265.90,163.60 L266.05,161.41 L266.20,160.77 L266.36,161.61 L266.51,162.55 L266.66,162.48 L266.81,162.47 L266.97,161.62 L267.12,160.42 L267.27,161.11 L267.42,159.02 L267.57,157.68 L267.73,158.58 L267.88,157.09 L268.03,157.79 L268.18,157.50 L268.33,157.51 L268.49,158.08 L268.64,156.98 L268.79,157.03 L268.94,155.01 L269.10,156.91 L269.25,155.82 L269.40,157.18 L269.55,154.59 L269.70,155.37 L269.86,157.72 L270.01,155.77 L270.16,157.80 L270.31,159.77 L270.46,160.86 L270.61,159.37 L270.77,161.91 L270.92,163.05 L271.07,162.26 L271.22,164.73 L271.37,164.51 L271.53,164.76 L271.68,164.37 L271.83,165.92 L271.98,165.95 L272.13,167.68 L272.29,167.43 L272.44,166.02 L272.59,166.39 L272.74,168.37 L272.89,167.32 L273.04,168.31 L273.20,169.03 L273.35,168.44 L273.50,165.37 L273.65,168.25 L273.80,169.51 L273.96,170.04 L274.11,169.17 L274.26,172.03 L274.41,171.20 L274.56,170.51 L274.71,170.43 L274.87,172.23 L275.02,170.94 L275.17,170.94 L275.32,175.56 L275.47,176.21 L275.63,176.30 L275.78,177.05 L275.93,176.42 L276.08,173.18 L276.23,176.66 L276.39,178.03 L276.54,177.62 L276.69,174.21 L276.84,178.18 L276.99,178.63 L277.14,177.98 L277.30,178.64 L277.45,179.81 L277.60,179.60 L277.75,179.75 L277.90,179.20 L278.05,178.84 L278.21,178.27 L278.36,175.39 L278.51,174.96 L278.66,179.82 L278.81,177.82 L278.96,178.21 L279.12,177.80 L279.27,178.00 L279.42,176.40 L279.57,173.91 L279.72,173.64 L279.87,170.28 L280.03,171.36 L280.18,172.84 L280.33,168.40 L280.48,170.06 L280.63,171.04 L280.78,171.64 L280.94,168.11 L281.09,167.02 L281.24,164.48 L281.39,164.68 L281.54,166.68 L281.69,169.20 L281.85,164.95 L282.00,167.03 L282.15,165.95 L282.30,163.96 L282.45,167.21" fill="none" stroke="#1d610f" stroke-width="3.20" stroke-linejoin="round" stroke-linecap="round"/>
<path d="M282.45,167.21 L282.60,161.17 L282.76,162.79 L282.91,163.55 L283.06,166.42 L283.21,166.65 L283.37,166.90 L283.52,164.09 L283.67,164.35 L283.82,164.84 L283.97,163.60 L284.13,162.87 L284.28,161.72 L284.43,160.91 L284.58,159.33 L284.73,163.34 L284.89,160.92 L285.04,157.67 L285.19,159.97 L285.34,160.08 L285.50,160.27 L285.65,162.54 L285.80,160.26 L285.95,159.18 L286.10,157.99 L286.26,158.53 L286.41,157.92 L286.56,158.51 L286.71,162.21 L286.87,159.75 L287.02,157.02 L287.17,160.11 L287.32,159.31 L287.47,158.85 L287.63,158.46 L287.78,158.38 L287.93,158.03 L288.08,158.87 L288.23,158.42 L288.39,158.66 L288.54,155.91 L288.69,155.70 L288.84,155.31 L289.00,156.42 L289.15,156.71 L289.30,154.78 L289.45,156.02 L289.60,159.47 L289.75,158.71 L289.90,155.50 L290.06,155.82 L290.21,157.23 L290.36,156.83 L290.51,157.50 L290.66,159.03 L290.81,158.43 L290.96,156.34 L291.11,158.53 L291.26,158.18 L291.41,158.55 L291.57,157.85 L291.72,156.62 L291.87,156.62 L292.02,158.10 L292.17,157.67 L292.32,155.90 L292.47,160.59 L292.62,158.79 L292.77,158.99 L292.93,161.01 L293.08,157.44 L293.23,161.98 L293.38,160.38 L293.53,162.11 L293.68,161.08 L293.83,162.05 L293.98,162.17 L294.13,162.17 L294.29,159.63 L294.44,159.51 L294.59,161.68 L294.74,164.58 L294.89,162.71 L295.04,163.85 L295.19,163.77 L295.34,164.34 L295.49,165.38 L295.64,162.19 L295.80,163.98 L295.95,164.00 L296.10,163.96 L296.25,163.30 L296.40,163.35 L296.55,163.38 L296.70,163.59 L296.85,169.22 L297.01,170.03 L297.16,168.10 L297.31,168.89 L297.46,166.92 L297.61,164.63 L297.76,165.05 L297.92,168.26 L298.07,171.46 L298.22,170.55 L298.37,169.18 L298.52,170.17 L298.67,169.67 L298.83,169.23 L298.98,171.09 L299.13,171.69 L299.28,171.57 L299.43,171.72 L299.58,171.99 L299.74,174.07 L299.89,176.68 L300.04,175.42 L300.19,178.91 L300.34,174.61 L300.49,176.39 L300.65,175.12 L300.80,176.49 L300.95,177.57 L301.10,178.82 L301.25,179.70 L301.40,177.34 L301.55,175.48 L301.71,176.30 L301.86,177.10 L302.01,175.73 L302.16,177.48 L302.31,178.91 L302.46,174.58" fill="none" stroke="#1d610f" stroke-width="3.20" stroke-linejoin="round" stroke-linecap="round"/>
<path d="M302.46,174.58 L302.62,175.66 L302.77,176.72 L302.92,172.53 L303.07,174.15 L303.22,173.79 L303.37,171.71 L303.53,174.87 L303.68,173.98 L303.83,172.62 L303.98,173.45 L304.13,173.87 L304.28,174.07 L304.44,173.74 L304.59,173.28 L304.74,170.71 L304.89,170.93 L305.04,171.68 L305.19,169.06 L305.35,173.40 L305.50,171.34 L305.65,169.62 L305.80,168.30 L305.95,170.75 L306.10,171.53 L306.25,171.09 L306.41,171.44 L306.56,171.12 L306.71,171.54 L306.86,172.91 L307.01,172.82 L307.16,175.02 L307.32,174.77 L307.47,175.40 L307.62,176.28 L307.77,178.10 L307.92,177.96 L308.07,177.67 L308.23,177.30 L308.38,176.55 L308.53,177.29 L308.68,179.26 L308.83,179.29 L308.98,178.56 L309.14,177.12 L309.29,176.55 L309.44,179.25 L309.59,181.25 L309.74,181.05 L309.89,178.59 L310.05,179.71 L310.20,180.84 L310.35,179.67 L310.50,181.32 L310.65,181.20 L310.80,180.41 L310.96,179.75 L311.11,182.85 L311.26,183.38 L311.41,181.98 L311.56,181.64 L311.71,184.58 L311.87,185.29 L312.02,184.45 L312.17,187.23 L312.32,185.58 L312.47,184.22 L312.63,187.21 L312.78,186.50 L312.93,187.33 L313.08,187.39 L313.23,186.11 L313.39,185.61 L313.54,187.09 L313.69,190.04 L313.84,187.59 L313.99,190.48 L314.14,189.86 L314.30,187.90 L314.45,189.50 L314.60,190.60 L314.75,188.96 L314.90,187.15 L315.06,190.03 L315.21,189.01 L315.36,191.15 L315.51,188.53 L315.66,190.51 L315.81,190.30 L315.97,189.44 L316.12,191.27 L316.27,192.67 L316.42,192.27 L316.57,191.49 L316.73,193.54 L316.88,191.54 L317.03,194.52 L317.18,195.60 L317.33,197.90 L317.49,197.68 L317.64,197.09 L317.79,197.03 L317.94,196.91 L318.09,195.15 L318.24,198.94 L318.40,199.04 L318.55,198.22 L318.70,197.04 L318.85,200.36 L319.01,199.96 L319.16,197.32 L319.31,199.23 L319.46,201.57 L319.62,199.46 L319.77,199.43 L319.92,198.22 L320.07,197.48 L320.23,199.57 L320.38,201.19 L320.53,199.28 L320.68,197.94 L320.84,198.74 L320.99,197.24 L321.14,198.15 L321.29,198.44 L321.45,195.69 L321.60,194.65 L321.75,195.65 L321.91,197.13 L322.06,196.63 L322.21,197.74 L322.36,194.20 L322.52,195.81" fill="none" stroke="#1d610f" stroke-width="3.20" stroke-linejoin="round" stroke-linecap="round"/>
<path d="M322.52,195.81 L322.67,194.59 L322.82,195.22 L322.97,195.66 L323.13,193.84 L323.28,194.31 L323.43,193.02 L323.58,194.65 L323.74,193.44 L323.89,193.53 L324.04,194.53 L324.19,193.49 L324.35,195.74 L324.50,193.74 L324.65,195.37 L324.81,195.06 L324.96,193.07 L325.12,193.56 L325.27,192.74 L325.42,193.12 L325.58,193.30 L325.73,196.33 L325.89,193.92 L326.04,196.02 L326.19,194.96 L326.35,192.02 L326.50,189.61 L326.66,193.17 L326.81,190.30 L326.96,193.31 L327.12,194.61 L327.27,194.05 L327.43,192.98 L327.58,192.56 L327.74,193.14 L327.89,192.47 L328.04,191.90 L328.20,191.93 L328.35,194.14 L328.51,192.17 L328.66,193.00 L328.81,190.99 L328.97,190.99 L329.12,190.00 L329.28,191.38 L329.43,193.05 L329.58,192.97 L329.74,191.76 L329.89,192.98 L330.05,191.92 L330.20,192.63 L330.35,192.96 L330.50,193.64 L330.65,189.63 L330.81,190.32 L330.96,193.72 L331.11,193.65 L331.26,197.22 L331.41,194.87 L331.56,193.89 L331.71,196.74 L331.86,196.42 L332.02,198.47 L332.17,197.26 L332.32,196.05 L332.47,197.23 L332.62,195.58 L332.77,195.77 L332.92,195.87 L333.07,196.57 L333.23,198.43 L333.38,197.35 L333.53,198.38 L333.68,197.69 L333.83,199.68 L333.98,195.19 L334.13,197.74 L334.28,199.26 L334.44,198.12 L334.59,201.03 L334.74,200.95 L334.89,202.69 L335.04,202.96 L335.19,202.78 L335.34,201.79 L335.49,200.35 L335.65,201.39 L335.80,201.56 L335.95,202.85 L336.10,202.41 L336.25,206.55 L336.40,202.11 L336.56,204.68 L336.71,203.13 L336.86,203.05 L337.01,204.78 L337.17,204.02 L337.32,202.10 L337.47,203.94 L337.62,203.67 L337.77,200.96 L337.93,203.47 L338.08,202.47 L338.23,202.69 L338.38,204.59 L338.53,204.96 L338.69,204.28 L338.84,207.44 L338.99,206.26 L339.14,204.39 L339.30,205.12 L339.45,204.89 L339.60,201.86 L339.76,202.54 L339.91,203.50 L340.07,209.28 L340.23,208.18 L340.38,208.09 L340.54,208.03 L340.70,210.64 L340.85,210.43 L341.01,213.19 L341.17,213.08 L341.32,214.67 L341.48,212.99 L341.63,213.59 L341.79,212.99 L341.95,213.65 L342.10,212.10 L342.26,213.79 L342.42,214.26 L342.57,215.32" fill="none" stroke="#1d610f" stroke-width="3.20" stroke-linejoin="round" stroke-linecap="round"/>
<path d="M342.57,215.32 L342.73,218.84 L342.89,219.00 L343.04,220.94 L343.20,221.48 L343.35,222.82 L343.51,224.25 L343.66,223.26 L343.81,225.90 L343.97,225.97 L344.12,226.60 L344.27,230.19 L344.43,232.93 L344.58,230.95 L344.73,232.63 L344.89,233.89 L345.04,234.39 L345.19,236.27 L345.35,237.65 L345.50,238.85 L345.65,236.74 L345.80,234.01 L345.96,234.33 L346.11,234.86 L346.26,234.15 L346.41,233.00 L346.57,232.71 L346.72,228.99 L346.87,228.64 L347.02,228.47 L347.17,228.76 L347.33,227.01 L347.48,226.40 L347.63,225.05 L347.78,226.87 L347.93,220.61 L348.09,221.24 L348.24,224.43 L348.39,221.54 L348.54,219.60 L348.70,218.73 L348.85,217.87 L349.00,217.00 L349.15,217.36 L349.30,219.86 L349.46,219.18 L349.61,219.53 L349.76,220.39 L349.91,219.71 L350.07,218.23 L350.22,219.15 L350.37,220.43 L350.52,220.26 L350.67,219.99 L350.83,220.69 L350.98,219.59 L351.13,220.29 L351.28,222.19 L351.43,222.70 L351.59,223.77 L351.74,226.41 L351.89,225.94 L352.04,225.66 L352.20,224.27 L352.35,224.33 L352.50,226.78 L352.65,225.40 L352.80,226.66 L352.95,224.55 L353.10,225.39 L353.25,225.07 L353.40,226.24 L353.55,224.32 L353.70,223.50 L353.85,223.87 L354.00,223.43 L354.15,225.39 L354.30,222.89 L354.45,221.46 L354.60,221.08 L354.75,221.83 L354.90,221.44 L355.05,221.71 L355.20,218.52 L355.35,222.86 L355.50,222.97 L355.65,220.03 L355.80,217.26 L355.95,218.28 L356.10,218.81 L356.25,214.84 L356.41,216.62 L356.56,214.74 L356.71,216.70 L356.87,218.36 L357.02,218.09 L357.17,214.08 L357.33,216.78 L357.48,216.64 L357.63,214.50 L357.79,214.84 L357.94,216.15 L358.09,213.60 L358.25,213.03 L358.40,211.80 L358.55,213.63 L358.71,209.12 L358.86,212.65 L359.01,209.98 L359.17,211.64 L359.32,208.17 L359.47,207.85 L359.63,207.96 L359.78,209.78 L359.93,206.42 L360.09,208.20 L360.24,206.55 L360.39,208.38 L360.55,206.29 L360.70,206.41 L360.85,205.54 L361.00,208.02 L361.15,205.56 L361.31,205.21 L361.46,207.91 L361.61,205.87 L361.76,206.05 L361.91,203.95 L362.06,204.58 L362.22,201.11 L362.37,203.40 L362.52,202.91 L362.67,201.43" fill="none" stroke="#1d610f" stroke-width="3.20" stroke-linejoin="round" stroke-linecap="round"/>
<path d="M362.67,201.43 L362.82,201.02 L362.97,204.49 L363.13,204.52 L363.28,201.72 L363.43,205.68 L363.58,203.23 L363.73,202.96 L363.88,203.76 L364.04,202.00 L364.19,200.76 L364.34,201.64 L364.49,204.68 L364.64,205.25 L364.79,201.76 L364.95,204.72 L365.10,203.91 L365.25,204.33 L365.40,203.80 L365.55,203.81 L365.70,201.51 L365.85,200.70 L366.01,200.50 L366.16,200.71 L366.31,202.03 L366.46,199.59 L366.61,202.73 L366.76,200.27 L366.91,199.41 L367.06,200.83 L367.22,200.68 L367.37,199.33 L367.52,197.69 L367.67,197.11 L367.82,195.89 L367.97,199.29 L368.12,200.04 L368.27,200.29 L368.43,199.13 L368.58,197.90 L368.73,197.78 L368.88,197.66 L369.03,195.51 L369.18,195.39 L369.33,197.57 L369.48,192.33 L369.64,190.80 L369.79,190.62 L369.94,192.67 L370.09,193.55 L370.24,191.25 L370.39,191.65 L370.54,190.37 L370.69,190.12 L370.85,188.47 L371.00,188.35 L371.15,188.01 L371.30,189.38 L371.45,191.56 L371.60,186.42 L371.75,188.32 L371.91,188.17 L372.06,189.59 L372.21,190.20 L372.36,190.03 L372.51,190.08 L372.66,187.61 L372.82,185.83 L372.97,190.23 L373.12,190.93 L373.27,188.00 L373.42,190.28 L373.57,190.01 L373.73,185.37 L373.88,188.76 L374.03,187.00 L374.18,189.53 L374.33,187.57 L374.48,186.83 L374.64,185.40 L374.79,186.84 L374.94,189.00 L375.09,187.18 L375.24,185.06 L375.39,190.30 L375.55,191.53 L375.70,190.32 L375.85,188.28 L376.00,186.78 L376.15,185.96 L376.30,189.09 L376.46,191.29 L376.61,188.74 L376.76,189.71 L376.91,189.79 L377.07,189.85 L377.22,191.03 L377.37,193.74 L377.52,190.68 L377.67,191.97 L377.83,192.76 L377.98,191.08 L378.13,190.84 L378.28,189.05 L378.43,192.04 L378.59,190.63 L378.74,190.05 L378.89,190.95 L379.04,189.90 L379.20,189.35 L379.35,190.28 L379.50,193.17 L379.65,191.08 L379.80,191.16 L379.95,187.95 L380.11,186.88 L380.26,190.50 L380.41,188.56 L380.56,186.16 L380.71,187.35 L380.86,188.58 L381.02,185.41 L381.17,185.52 L381.32,187.04 L381.47,185.62 L381.62,187.52 L381.77,188.17 L381.93,187.44 L382.08,185.80 L382.23,185.46 L382.38,184.16 L382.53,184.15 L382.68,184.45" fill="none" stroke="#1d610f" stroke-width="3.20" stroke-linejoin="round" stroke-linecap="round"/>
<path d="M382.68,184.45 L382.84,183.30 L382.99,184.45 L383.14,186.64 L383.29,182.56 L383.44,182.27 L383.59,182.54 L383.75,182.01 L383.90,180.23 L384.05,179.00 L384.20,180.43 L384.35,180.71 L384.50,180.96 L384.66,179.42 L384.81,181.33 L384.96,182.43 L385.11,181.63 L385.27,182.88 L385.42,185.76 L385.57,181.04 L385.72,183.52 L385.87,181.97 L386.03,181.52 L386.18,183.31 L386.33,185.26 L386.48,185.42 L386.63,184.00 L386.79,183.46 L386.94,184.87 L387.09,186.41 L387.24,185.93 L387.40,185.10 L387.55,189.79 L387.70,187.54 L387.85,187.13 L388.00,185.97 L388.15,185.10 L388.31,185.28 L388.46,184.38 L388.61,184.97 L388.76,182.06 L388.91,180.29 L389.06,184.27 L389.22,182.06 L389.37,182.16 L389.52,182.32 L389.67,180.99 L389.82,179.37 L389.97,176.11 L390.13,174.62 L390.28,177.42 L390.43,177.37 L390.58,176.73 L390.73,172.89 L390.88,171.78 L391.04,171.21 L391.19,170.68 L391.34,172.09 L391.49,170.38 L391.64,173.25 L391.79,171.17 L391.95,170.60 L392.10,170.66 L392.25,169.87 L392.40,169.34 L392.55,169.95 L392.70,172.68 L392.86,170.43 L393.01,170.93 L393.16,171.44 L393.31,169.89 L393.47,172.26 L393.62,173.89 L393.77,175.16 L393.92,175.14 L394.07,171.95 L394.23,174.28 L394.38,174.42 L394.53,174.11 L394.68,174.50 L394.83,177.72 L394.99,177.53 L395.14,181.15 L395.29,180.45 L395.44,177.16 L395.60,180.65 L395.75,182.60 L395.90,181.80 L396.05,180.24 L396.20,184.57 L396.35,181.83 L396.51,183.26 L396.66,181.50 L396.81,182.39 L396.96,182.47 L397.11,187.03 L397.26,189.00 L397.42,187.74 L397.57,186.44 L397.72,188.41 L397.87,190.11 L398.02,188.30 L398.17,188.76 L398.33,190.91 L398.48,193.20 L398.63,193.43 L398.78,194.52 L398.93,192.83 L399.08,191.09 L399.24,195.01 L399.39,194.86 L399.54,196.44 L399.69,196.87 L399.84,198.37 L399.99,197.48 L400.15,199.58 L400.30,199.92 L400.45,200.71 L400.60,201.39 L400.75,200.91 L400.90,200.00 L401.05,195.96 L401.21,195.92 L401.36,198.93 L401.51,197.83 L401.66,197.27 L401.81,196.66 L401.96,194.55 L402.12,193.56 L402.27,193.01 L402.42,195.19 L402.57,194.38 L402.72,195.91" fill="none" stroke="#1d610f" stroke-width="3.20" stroke-linejoin="round" stroke-linecap="round"/>
<path d="M402.72,195.91 L402.87,194.19 L403.03,195.42 L403.18,193.38 L403.33,190.06 L403.48,193.05 L403.63,191.59 L403.78,192.10 L403.94,190.52 L404.09,188.95 L404.24,188.91 L404.39,186.66 L404.54,186.57 L404.69,186.07 L404.85,185.58 L405.00,185.09 L405.15,184.59 L405.30,184.97 L405.45,188.01 L405.60,188.77 L405.75,186.34 L405.91,187.11 L406.06,185.85 L406.21,186.49 L406.36,186.19 L406.51,185.48 L406.66,186.30 L406.82,184.38 L406.97,186.78 L407.12,186.83 L407.27,186.01 L407.42,187.16 L407.57,189.18 L407.73,188.30 L407.88,190.07 L408.03,191.07 L408.18,193.16 L408.33,190.07 L408.48,190.62 L408.64,191.79 L408.79,193.69 L408.94,192.52 L409.09,192.98 L409.24,189.93 L409.39,190.41 L409.55,193.96 L409.70,192.24 L409.85,195.43 L410.00,192.21 L410.15,192.00 L410.30,190.08 L410.45,193.09 L410.61,193.69 L410.76,196.71 L410.91,195.13 L411.06,194.28 L411.21,192.56 L411.36,194.25 L411.52,196.53 L411.67,197.15 L411.82,198.30 L411.97,198.36 L412.12,197.27 L412.27,198.15 L412.43,198.02 L412.58,196.00 L412.73,200.15 L412.88,199.66 L413.03,197.65 L413.18,199.42 L413.34,200.05 L413.49,201.43 L413.64,202.61 L413.79,196.45 L413.94,200.05 L414.09,201.53 L414.25,199.95 L414.40,197.90 L414.55,200.58 L414.70,201.59 L414.85,201.41 L415.00,198.88 L415.16,198.75 L415.31,199.38 L415.46,200.07 L415.61,202.11 L415.77,199.59 L415.92,197.19 L416.07,194.55 L416.22,197.25 L416.37,196.33 L416.53,195.84 L416.68,194.13 L416.83,195.92 L416.98,192.45 L417.13,193.98 L417.29,194.20 L417.44,194.28 L417.59,195.54 L417.74,193.58 L417.90,193.03 L418.05,193.74 L418.20,190.12 L418.35,191.16 L418.50,192.11 L418.65,193.82 L418.81,191.83 L418.96,193.72 L419.11,193.77 L419.26,191.16 L419.41,190.71 L419.56,190.86 L419.72,193.07 L419.87,194.07 L420.02,195.29 L420.17,195.95 L420.32,194.25 L420.47,196.30 L420.63,196.69 L420.78,196.44 L420.93,196.52 L421.08,194.07 L421.23,195.93 L421.38,194.56 L421.54,194.06 L421.69,195.32 L421.84,196.57 L421.99,196.81 L422.14,196.59 L422.29,195.65 L422.45,197.25 L422.60,196.48 L422.75,195.37" fill="none" stroke="#1d610f" stroke-width="3.20" stroke-linejoin="round" stroke-linecap="round"/>
<path d="M422.75,195.37 L422.90,197.40 L423.05,200.39 L423.20,198.80 L423.35,197.63 L423.51,201.21 L423.66,203.05 L423.81,200.90 L423.96,200.64 L424.11,201.41 L424.26,205.23 L424.42,203.23 L424.57,204.07 L424.72,203.74 L424.87,200.49 L425.02,200.83 L425.17,200.97 L425.33,203.74 L425.48,204.32 L425.63,207.24 L425.78,205.28 L425.93,205.79 L426.08,205.83 L426.24,206.18 L426.39,209.77 L426.54,208.05 L426.69,209.54 L426.84,209.97 L426.99,207.51 L427.15,209.05 L427.30,208.25 L427.45,209.06 L427.60,209.70 L427.75,209.78 L427.90,209.24 L428.06,212.26 L428.21,210.61 L428.36,211.73 L428.51,213.58 L428.67,212.56 L428.82,212.88 L428.97,213.54 L429.12,213.32 L429.27,214.23 L429.43,209.82 L429.58,213.59 L429.73,211.86 L429.88,208.71 L430.03,209.45 L430.19,208.62 L430.34,210.53 L430.49,209.00 L430.64,209.36 L430.80,211.51 L430.95,212.04 L431.10,210.87 L431.25,211.45 L431.40,211.93 L431.56,212.42 L431.71,212.59 L431.86,212.49 L432.01,214.27 L432.17,211.24 L432.32,212.15 L432.47,213.53 L432.62,213.30 L432.77,213.16 L432.93,213.45 L433.08,214.66 L433.23,216.74 L433.38,215.41 L433.53,215.08 L433.69,216.10 L433.84,215.69 L433.99,213.22 L434.14,215.97 L434.30,216.01 L434.45,215.91 L434.60,217.87 L434.76,216.99 L434.92,215.46 L435.08,212.19 L435.24,211.36 L435.40,213.22 L435.56,213.10 L435.72,213.40 L435.88,212.69 L436.04,210.93 L436.20,208.74 L436.36,207.85 L436.52,208.53 L436.68,206.73 L436.84,208.56 L437.00,205.52 L437.15,203.73 L437.30,205.32 L437.45,203.16 L437.61,207.34 L437.76,204.40 L437.91,204.66 L438.06,204.18 L438.21,202.91 L438.36,200.83 L438.52,200.21 L438.67,203.33 L438.82,204.36 L438.97,206.12 L439.12,200.95 L439.27,202.17 L439.43,201.41 L439.58,202.21 L439.73,200.31 L439.88,201.50 L440.03,202.00 L440.18,201.61 L440.34,202.64 L440.49,200.40 L440.64,202.20 L440.79,199.26 L440.94,201.63 L441.09,195.38 L441.25,197.33 L441.40,196.39 L441.55,196.99 L441.70,198.41 L441.85,198.54 L442.00,197.68 L442.15,199.86 L442.31,195.78 L442.46,195.58 L442.61,199.03 L442.76,198.33" fill="none" stroke="#1d610f" stroke-width="3.20" stroke-linejoin="round" stroke-linecap="round"/>
<path d="M442.76,198.33 L442.91,194.54 L443.06,197.06 L443.22,195.68 L443.37,199.52 L443.52,200.39 L443.67,198.33 L443.82,200.69 L443.97,198.42 L444.13,200.59 L444.28,200.94 L444.43,200.21 L444.58,198.26 L444.73,199.61 L444.88,197.21 L445.04,199.30 L445.19,198.21 L445.34,202.65 L445.49,200.74 L445.64,198.06 L445.79,201.85 L445.95,202.75 L446.10,201.78 L446.25,205.25 L446.40,204.69 L446.55,203.46 L446.71,202.11 L446.86,198.94 L447.01,202.55 L447.16,204.40 L447.32,202.69 L447.47,201.00 L447.62,202.61 L447.77,200.70 L447.93,202.70 L448.08,204.51 L448.23,206.21 L448.38,204.91 L448.54,204.48 L448.69,205.23 L448.84,206.52 L448.99,204.43 L449.15,202.53 L449.30,202.71 L449.45,202.16 L449.61,202.65 L449.76,204.04 L449.91,205.25 L450.06,205.43 L450.22,205.45 L450.37,204.91 L450.52,206.01 L450.67,207.13 L450.83,207.38 L450.98,208.65 L451.13,206.45 L451.28,205.94 L451.44,208.80 L451.59,207.51 L451.74,207.59 L451.89,206.65 L452.05,208.47 L452.20,207.11 L452.35,206.52 L452.50,208.31 L452.65,208.82 L452.81,211.44 L452.96,210.95 L453.11,212.11 L453.26,212.49 L453.41,213.99 L453.56,213.53 L453.71,216.55 L453.86,214.20 L454.02,215.50 L454.17,215.87 L454.32,218.49 L454.47,218.84 L454.62,220.08 L454.77,219.70 L454.92,219.48 L455.07,219.28 L455.23,220.87 L455.38,221.51 L455.53,223.40 L455.68,224.55 L455.83,226.30 L455.98,225.67 L456.13,224.99 L456.28,224.79 L456.44,226.89 L456.59,228.44 L456.74,231.75 L456.89,230.57 L457.04,233.07 L457.19,234.56 L457.34,231.17 L457.49,233.71 L457.65,234.43 L457.80,235.15 L457.95,235.55 L458.10,236.60 L458.25,234.46 L458.40,233.65 L458.56,232.94 L458.71,232.93 L458.86,231.72 L459.01,231.96 L459.17,230.10 L459.32,227.77 L459.47,227.90 L459.62,227.96 L459.77,225.32 L459.93,225.92 L460.08,223.37 L460.23,221.68 L460.38,222.14 L460.53,220.91 L460.69,218.74 L460.84,216.43 L460.99,217.54 L461.14,217.52 L461.30,215.78 L461.45,215.55 L461.60,212.22 L461.75,214.31 L461.90,214.92 L462.05,214.83 L462.21,213.40 L462.36,213.96 L462.51,214.11 L462.66,215.49 L462.81,214.63" fill="none" stroke="#1d610f" stroke-width="3.20" stroke-linejoin="round" stroke-linecap="round"/>
<path d="M462.81,214.63 L462.96,214.26 L463.11,212.59 L463.26,214.40 L463.42,215.33 L463.57,213.02 L463.72,213.95 L463.87,213.65 L464.02,212.95 L464.17,210.79 L464.32,214.68 L464.47,210.39 L464.63,212.36 L464.78,211.90 L464.93,214.04 L465.08,212.30 L465.23,212.46 L465.38,213.35 L465.53,213.36 L465.68,211.88 L465.84,213.25 L465.99,213.22 L466.14,214.12 L466.29,212.12 L466.44,212.23 L466.59,211.74 L466.74,210.92 L466.89,212.32 L467.05,212.97 L467.20,214.69 L467.35,212.58 L467.50,213.02 L467.65,213.83 L467.81,211.86 L467.96,211.21 L468.11,210.80 L468.27,209.11 L468.42,207.81 L468.57,210.20 L468.73,209.11 L468.88,208.03 L469.03,205.56 L469.19,206.49 L469.34,207.98 L469.49,204.54 L469.65,203.51 L469.80,205.84 L469.95,206.68 L470.11,206.90 L470.26,203.54 L470.41,204.01 L470.57,201.86 L470.72,202.87 L470.87,201.58 L471.03,201.79 L471.18,203.32 L471.33,202.01 L471.49,200.48 L471.64,200.22 L471.79,200.20 L471.95,198.76 L472.10,199.16 L472.26,200.32 L472.41,202.35 L472.57,197.73 L472.72,197.89 L472.88,197.99 L473.03,201.24 L473.19,203.77 L473.34,202.35 L473.50,201.62 L473.66,203.00 L473.81,198.08 L473.97,200.09 L474.12,197.37 L474.28,200.51 L474.43,200.53 L474.59,200.64 L474.74,201.98 L474.90,201.06 L475.06,203.41 L475.21,202.50 L475.37,202.90 L475.52,206.45 L475.68,203.15 L475.83,204.38 L475.99,202.25 L476.14,204.90 L476.30,205.41 L476.45,204.32 L476.60,205.33 L476.76,206.62 L476.91,206.70 L477.06,204.69 L477.21,204.02 L477.37,205.60 L477.52,202.20 L477.67,202.52 L477.82,204.29 L477.98,204.97 L478.13,207.15 L478.28,207.68 L478.43,205.70 L478.59,205.30 L478.74,202.55 L478.89,203.46 L479.04,204.44 L479.20,204.04 L479.35,204.42 L479.50,205.43 L479.65,203.64 L479.80,203.88 L479.96,202.47 L480.11,206.49 L480.26,204.61 L480.41,203.27 L480.57,206.81 L480.72,206.59 L480.87,208.51 L481.02,207.27 L481.18,210.87 L481.33,210.07 L481.48,209.25 L481.63,209.21 L481.79,208.97 L481.94,210.70 L482.09,213.28 L482.24,210.65 L482.40,209.11 L482.55,211.46 L482.70,213.14 L482.86,210.00" fill="none" stroke="#1d610f" stroke-width="3.20" stroke-linejoin="round" stroke-linecap="round"/>
<path d="M482.86,210.00 L483.01,210.52 L483.17,210.45 L483.32,213.04 L483.48,213.97 L483.63,212.62 L483.79,211.86 L483.94,214.61 L484.10,211.54 L484.26,214.94 L484.41,214.92 L484.57,217.81 L484.72,217.66 L484.88,215.22 L485.03,215.01 L485.19,215.01 L485.34,214.39 L485.50,215.49 L485.66,217.91 L485.81,215.45 L485.97,217.20 L486.12,220.88 L486.28,221.40 L486.43,219.75 L486.59,219.82 L486.74,220.41 L486.90,220.13 L487.06,224.89 L487.21,225.34 L487.37,224.98 L487.52,224.42 L487.68,226.50 L487.83,227.60 L487.99,231.98 L488.14,230.65 L488.30,231.79 L488.46,233.77 L488.61,234.09 L488.77,233.23 L488.92,230.32 L489.08,235.15 L489.23,235.73 L489.39,234.67 L489.54,235.21 L489.70,234.39 L489.86,234.53 L490.01,233.94 L490.17,237.05 L490.32,238.28 L490.48,238.40 L490.63,239.62 L490.79,239.89 L490.94,239.62 L491.10,238.29 L491.25,239.13 L491.40,239.68 L491.56,238.39 L491.71,238.34 L491.86,235.29 L492.01,233.13 L492.17,235.39 L492.32,232.80 L492.47,232.80 L492.62,231.67 L492.77,231.17 L492.93,230.10 L493.08,228.90 L493.23,226.17 L493.38,230.47 L493.53,228.70 L493.69,224.44 L493.84,225.38 L493.99,224.58 L494.14,223.79 L494.30,222.99 L494.45,222.45 L494.60,224.34 L494.75,222.69 L494.91,223.96 L495.06,224.39 L495.21,223.17 L495.36,225.28 L495.52,222.12 L495.67,223.13 L495.82,224.03 L495.97,227.03 L496.13,226.49 L496.28,226.23 L496.43,225.41 L496.58,226.80 L496.74,227.42 L496.89,228.93 L497.04,230.68 L497.19,230.48 L497.35,229.61 L497.50,229.37 L497.66,232.11 L497.81,231.00 L497.97,230.53 L498.12,233.35 L498.28,234.11 L498.43,233.05 L498.59,231.94 L498.74,231.05 L498.90,233.61 L499.06,232.30 L499.21,234.29 L499.37,232.48 L499.52,233.52 L499.68,234.53 L499.83,234.67 L499.99,235.05 L500.14,235.61 L500.30,233.70 L500.46,232.72 L500.61,233.67 L500.77,236.69 L500.92,234.43 L501.08,232.30 L501.23,231.84 L501.39,232.53 L501.54,234.25 L501.70,231.88 L501.86,232.69 L502.01,232.23 L502.17,231.12 L502.32,229.74 L502.48,230.38 L502.63,229.55 L502.79,231.08 L502.94,227.88" fill="none" stroke="#1d610f" stroke-width="3.20" stroke-linejoin="round" stroke-linecap="round"/>
<path d="M502.94,227.88 L503.10,231.17 L503.26,232.09 L503.42,232.39 L503.58,234.18 L503.74,233.66 L503.90,230.28 L504.06,232.26 L504.22,233.75 L504.38,232.78 L504.54,232.10 L504.70,234.59 L504.86,235.71 L505.02,234.89 L505.18,235.19 L505.34,235.14 L505.50,235.30 L505.66,236.43 L505.81,238.79 L505.97,235.69 L506.12,236.99 L506.28,240.66 L506.44,240.07 L506.59,239.94 L506.75,241.23 L506.91,239.10 L507.06,238.42 L507.22,237.78 L507.38,238.16 L507.53,241.14 L507.69,243.22 L507.84,242.17 L508.00,241.71 L508.15,242.21 L508.30,242.03 L508.45,240.80 L508.60,236.49 L508.75,236.63 L508.90,233.18 L509.05,235.56 L509.20,233.97 L509.35,233.15 L509.50,235.56 L509.65,235.32 L509.80,233.29 L509.95,231.70 L510.10,230.39 L510.25,229.43 L510.40,230.17 L510.55,233.61 L510.70,230.59 L510.85,230.22 L511.00,231.58 L511.15,233.32 L511.30,233.96 L511.45,231.61 L511.60,232.40 L511.75,232.64 L511.90,231.44 L512.05,233.30 L512.20,233.21 L512.35,235.54 L512.50,235.78 L512.65,234.38 L512.80,235.64 L512.95,235.70 L513.10,235.65 L513.25,236.21 L513.40,239.11 L513.55,238.07 L513.70,236.12 L513.85,238.08 L514.00,241.96 L514.16,245.09 L514.31,243.26 L514.46,244.12 L514.61,245.14 L514.77,244.50 L514.92,247.79 L515.07,248.80 L515.22,250.32 L515.37,253.89 L515.53,252.61 L515.68,254.39 L515.83,255.68 L515.98,254.49 L516.13,254.87 L516.29,258.96 L516.44,258.70 L516.59,259.56 L516.74,258.34 L516.90,261.68 L517.05,262.82 L517.20,264.20 L517.36,263.26 L517.51,262.32 L517.67,260.56 L517.82,258.83 L517.98,256.61 L518.13,256.52 L518.29,255.64 L518.44,255.53 L518.60,255.61 L518.76,253.89 L518.91,251.50 L519.07,252.31 L519.22,253.14 L519.38,249.16 L519.53,249.34 L519.69,249.04 L519.84,248.37 L520.00,247.57 L520.16,244.92 L520.31,242.90 L520.47,243.83 L520.62,242.69 L520.78,236.67 L520.93,231.84 L521.09,233.74 L521.24,231.29 L521.40,229.43 L521.56,225.88 L521.71,226.48 L521.87,224.69 L522.02,222.07 L522.18,222.17 L522.33,222.04 L522.49,220.16 L522.64,218.18 L522.80,213.63 L522.95,214.71" fill="none" stroke="#1d610f" stroke-width="3.20" stroke-linejoin="round" stroke-linecap="round"/>
<path d="M522.95,214.71 L523.10,214.11 L523.26,215.92 L523.41,215.73 L523.56,214.88 L523.71,215.63 L523.87,213.99 L524.02,215.93 L524.17,217.72 L524.32,215.47 L524.47,216.32 L524.63,213.25 L524.78,216.44 L524.93,217.41 L525.08,214.88 L525.23,218.49 L525.39,217.15 L525.54,214.01 L525.69,213.73 L525.84,217.21 L526.00,216.58 L526.15,218.62 L526.30,215.24 L526.45,216.78 L526.61,219.32 L526.76,217.89 L526.91,219.92 L527.06,219.29 L527.22,220.55 L527.37,221.26 L527.52,224.79 L527.67,220.85 L527.83,223.15 L527.98,225.03 L528.13,222.19 L528.28,223.57 L528.44,225.39 L528.59,225.83 L528.74,221.52 L528.89,224.30 L529.05,223.19 L529.20,226.33 L529.36,225.03 L529.51,224.55 L529.67,223.64 L529.82,224.77 L529.98,223.59 L530.13,222.21 L530.29,222.50 L530.44,223.23 L530.60,221.14 L530.76,223.22 L530.91,219.20 L531.07,220.86 L531.22,219.78 L531.38,222.15 L531.53,219.08 L531.69,217.70 L531.84,216.34 L532.00,220.02 L532.16,219.84 L532.31,217.49 L532.47,218.31 L532.62,217.98 L532.78,222.04 L532.93,221.90 L533.09,218.40 L533.24,221.20 L533.40,223.49 L533.56,223.11 L533.71,224.08 L533.87,223.82 L534.02,224.59 L534.18,225.18 L534.33,224.28 L534.49,226.04 L534.64,226.68 L534.80,226.95 L534.95,225.93 L535.10,225.15 L535.25,226.92 L535.40,228.41 L535.55,223.84 L535.70,225.45 L535.85,228.93 L536.00,229.33 L536.15,226.96 L536.30,229.52 L536.45,226.68 L536.60,226.19 L536.75,230.34 L536.90,227.93 L537.05,227.59 L537.20,225.30 L537.35,225.66 L537.50,225.48 L537.65,227.01 L537.80,224.80 L537.95,228.64 L538.10,227.55 L538.25,226.81 L538.40,226.52 L538.55,228.56 L538.70,230.38 L538.85,227.87 L539.00,230.25 L539.15,231.07 L539.30,230.97 L539.46,229.38 L539.61,226.18 L539.76,228.67 L539.91,227.79 L540.07,228.57 L540.22,225.66 L540.37,227.40 L540.52,228.84 L540.67,227.54 L540.83,229.18 L540.98,231.94 L541.13,230.61 L541.28,228.89 L541.43,233.32 L541.59,227.66 L541.74,228.02 L541.89,230.34 L542.04,229.59 L542.20,227.99 L542.35,230.12 L542.50,232.14 L542.65,230.48 L542.80,233.77 L542.95,233.48 L543.10,234.72" fill="none" stroke="#1d610f" stroke-width="3.20" stroke-linejoin="round" stroke-linecap="round"/>
<path d="M543.10,234.72 L543.25,231.11 L543.40,232.73 L543.55,236.03 L543.70,237.97 L543.85,237.76 L544.00,235.92 L544.15,235.96 L544.30,234.99 L544.45,237.71 L544.60,236.01 L544.75,237.08 L544.90,234.26 L545.05,234.59 L545.20,240.16 L545.35,239.42 L545.50,239.75 L545.65,236.34 L545.80,239.03 L545.95,241.35 L546.10,239.42 L546.26,235.81 L546.41,237.53 L546.57,236.83 L546.72,236.48 L546.88,234.07 L547.03,232.54 L547.19,231.63 L547.34,233.67 L547.50,232.55 L547.66,232.94 L547.81,229.40 L547.97,230.33 L548.12,228.33 L548.28,227.93 L548.43,228.49 L548.59,226.56 L548.74,224.70 L548.90,221.38 L549.05,222.93 L549.20,224.20 L549.35,222.01 L549.50,221.91 L549.65,218.84 L549.80,218.27 L549.95,220.53 L550.10,222.28 L550.25,219.92 L550.40,216.72 L550.55,217.47 L550.70,215.48 L550.85,216.60 L551.00,220.10 L551.15,218.32 L551.30,216.86 L551.45,218.08 L551.60,215.96 L551.75,216.23 L551.90,215.87 L552.05,215.92 L552.20,212.65 L552.35,214.81 L552.50,215.35 L552.65,210.31 L552.80,210.22 L552.95,210.13 L553.10,213.33 L553.26,212.30 L553.41,213.07 L553.57,213.12 L553.73,213.69 L553.88,211.45 L554.04,210.88 L554.19,212.27 L554.35,213.08 L554.51,213.29 L554.66,213.00 L554.82,211.62 L554.98,213.78 L555.13,213.53 L555.29,214.48 L555.44,211.57 L555.60,213.24 L555.75,211.75 L555.90,212.78 L556.06,212.71 L556.21,214.27 L556.36,214.10 L556.51,214.63 L556.67,215.91 L556.82,216.86 L556.97,215.63 L557.12,212.83 L557.28,215.08 L557.43,218.19 L557.58,217.21 L557.73,219.28 L557.89,218.93 L558.04,218.21 L558.19,221.71 L558.34,223.86 L558.50,221.98 L558.65,221.69 L558.80,223.35 L558.95,220.27 L559.11,220.19 L559.26,223.52 L559.42,224.26 L559.57,222.35 L559.72,221.44 L559.88,223.10 L560.03,220.87 L560.19,221.79 L560.34,222.81 L560.50,221.32 L560.65,224.42 L560.80,226.43 L560.96,227.91 L561.11,224.69 L561.27,224.36 L561.42,225.41 L561.58,225.31 L561.73,231.12 L561.88,228.33 L562.04,228.91 L562.19,230.14 L562.35,231.17 L562.50,233.35 L562.65,230.07 L562.80,232.50 L562.96,232.25 L563.11,230.25" fill="none" stroke="#1d610f" stroke-width="3.20" stroke-linejoin="round" stroke-linecap="round"/>
<path d="M563.11,230.25 L563.26,232.01 L563.41,230.22 L563.56,234.81 L563.72,232.55 L563.87,234.87 L564.02,236.23 L564.17,233.70 L564.32,232.67 L564.48,234.22 L564.63,232.94 L564.78,235.92 L564.93,235.81 L565.08,234.43 L565.24,234.33 L565.39,236.78 L565.54,234.15 L565.69,238.67 L565.84,236.17 L566.00,236.56 L566.15,235.67 L566.30,239.75 L566.45,239.25 L566.60,239.64 L566.75,238.46 L566.91,236.98 L567.06,238.95 L567.21,237.64 L567.36,236.66 L567.51,236.38 L567.66,236.34 L567.81,235.36 L567.96,234.13 L568.12,231.20 L568.27,236.10 L568.42,231.85 L568.57,228.98 L568.72,230.24 L568.87,234.81 L569.02,234.84 L569.18,231.68 L569.33,231.99 L569.48,231.43 L569.63,227.87 L569.78,229.34 L569.93,230.64 L570.08,232.30 L570.24,228.72 L570.39,225.74 L570.54,225.80 L570.69,228.78 L570.84,229.09 L570.99,229.12 L571.14,228.96 L571.29,227.88 L571.45,226.21 L571.60,227.76 L571.75,228.05 L571.90,228.23 L572.05,229.89 L572.21,226.57 L572.37,226.61 L572.52,227.04 L572.67,231.39 L572.83,228.70 L572.99,230.35 L573.14,230.45 L573.29,231.99 L573.45,234.64 L573.61,232.05 L573.76,231.81 L573.91,231.16 L574.07,232.54 L574.23,233.58 L574.38,231.60 L574.53,234.96 L574.69,235.86 L574.85,235.14 L575.00,234.18 L575.15,234.36 L575.30,232.78 L575.46,236.77 L575.61,235.91 L575.76,237.09 L575.91,240.57 L576.06,239.09 L576.22,239.96 L576.37,243.15 L576.52,246.42 L576.67,243.82 L576.82,246.61 L576.98,244.97 L577.13,246.70 L577.28,247.88 L577.43,246.03 L577.58,249.55 L577.74,252.39 L577.89,250.83 L578.04,251.04 L578.19,249.43 L578.34,252.54 L578.50,253.30 L578.65,251.33 L578.80,254.45 L578.95,250.67 L579.10,250.22 L579.26,247.85 L579.41,251.37 L579.56,251.56 L579.71,248.74 L579.86,246.81 L580.01,246.11 L580.17,245.59 L580.32,246.96 L580.47,248.55 L580.62,244.60 L580.77,245.49 L580.92,241.69 L581.08,245.76 L581.23,243.97 L581.38,242.09 L581.53,244.91 L581.68,242.55 L581.83,243.84 L581.99,243.28 L582.14,243.54 L582.29,239.19 L582.44,238.83 L582.59,238.79 L582.74,237.39 L582.90,239.37 L583.05,235.79 L583.20,237.12" fill="none" stroke="#1d610f" stroke-width="3.20" stroke-linejoin="round" stroke-linecap="round"/>
<path d="M583.20,237.12 L583.36,238.88 L583.51,235.13 L583.67,235.69 L583.82,236.26 L583.98,236.84 L584.13,239.16 L584.28,239.26 L584.44,240.08 L584.60,239.79 L584.75,240.69 L584.90,242.27 L585.06,243.55 L585.22,241.74 L585.37,242.68 L585.52,242.24 L585.68,243.45 L585.83,242.07 L585.99,246.03 L586.14,247.14 L586.30,246.53 L586.45,245.75 L586.60,246.26 L586.75,246.41 L586.91,245.35 L587.06,250.70 L587.21,253.44 L587.36,249.17 L587.51,248.23 L587.66,251.23 L587.82,252.53 L587.97,249.63 L588.12,248.60 L588.27,252.92 L588.42,250.44 L588.57,255.88 L588.72,254.78 L588.88,255.89 L589.03,256.54 L589.18,256.28 L589.33,257.37 L589.48,257.90 L589.63,261.00 L589.78,260.07 L589.94,260.28 L590.09,259.89 L590.24,259.98 L590.39,260.22 L590.54,261.89 L590.69,262.42 L590.85,262.94 L591.00,263.46 L591.15,263.98 L591.30,264.50 L591.45,264.02 L591.60,263.54 L591.75,261.14 L591.91,262.19 L592.06,261.11 L592.21,258.20 L592.36,257.39 L592.51,262.11 L592.66,260.18 L592.82,259.63 L592.97,258.51 L593.12,256.61 L593.27,257.15 L593.42,257.91 L593.57,255.35 L593.72,255.51 L593.88,255.97 L594.03,253.13 L594.18,252.97 L594.33,251.28 L594.48,252.83 L594.63,251.46 L594.78,253.40 L594.94,250.56 L595.09,253.64 L595.24,250.99 L595.39,249.10 L595.54,249.01 L595.69,250.40 L595.85,248.29 L596.00,251.94 L596.15,251.96 L596.30,250.43 L596.45,247.20 L596.60,248.87 L596.76,248.47 L596.91,248.45 L597.06,250.35 L597.21,254.40 L597.36,251.66 L597.51,253.30 L597.67,254.88 L597.82,251.84 L597.97,252.26 L598.12,253.69 L598.27,254.75 L598.42,252.62 L598.58,254.56 L598.73,254.87 L598.88,257.04 L599.03,253.66 L599.18,254.68 L599.33,255.36 L599.49,256.16 L599.64,258.43 L599.79,257.10 L599.94,259.69 L600.09,258.79 L600.24,260.51 L600.40,261.08 L600.55,261.54 L600.70,260.57 L600.85,258.22 L601.00,257.99 L601.15,258.99 L601.31,257.95 L601.46,257.97 L601.61,257.52 L601.76,254.47 L601.91,253.02 L602.06,256.17 L602.21,253.40 L602.36,250.27 L602.52,254.72 L602.67,251.05 L602.82,249.33 L602.97,251.59 L603.12,248.27 L603.27,247.27" fill="none" stroke="#1d610f" stroke-width="3.20" stroke-linejoin="round" stroke-linecap="round"/>
<path d="M603.27,247.27 L603.42,249.78 L603.58,246.92 L603.73,251.26 L603.88,248.03 L604.03,250.57 L604.18,246.99 L604.33,245.33 L604.48,243.20 L604.64,242.81 L604.79,241.77 L604.94,241.81 L605.09,242.72 L605.24,239.07 L605.39,238.12 L605.54,239.68 L605.69,240.21 L605.85,238.53 L606.00,237.77 L606.15,237.14 L606.30,238.00 L606.45,237.61 L606.60,238.58 L606.75,237.51 L606.91,237.59 L607.06,238.04 L607.21,235.42 L607.36,239.97 L607.51,237.11 L607.66,237.56 L607.82,240.85 L607.97,241.11 L608.12,242.79 L608.27,245.01 L608.42,245.28 L608.57,245.55 L608.72,243.85 L608.88,246.08 L609.03,243.40 L609.18,243.74 L609.33,245.85 L609.48,244.57 L609.63,244.50 L609.78,244.24 L609.94,247.24 L610.09,241.76 L610.24,246.65 L610.39,247.94 L610.54,246.60 L610.69,247.48 L610.85,245.33 L611.00,248.43 L611.15,250.09 L611.30,247.29 L611.45,249.93 L611.60,248.32 L611.75,247.44 L611.90,246.99 L612.05,247.45 L612.20,245.85 L612.35,245.27 L612.50,250.33 L612.65,248.95 L612.80,249.48 L612.95,249.20 L613.10,249.38 L613.25,245.99 L613.40,245.94 L613.55,248.60 L613.70,250.00 L613.85,246.74 L614.00,246.70 L614.15,245.83 L614.30,248.49 L614.45,248.74 L614.60,248.26 L614.75,246.93 L614.90,248.20 L615.05,248.03 L615.20,246.70 L615.35,248.27 L615.50,247.13 L615.65,249.66 L615.80,249.96 L615.95,247.90 L616.10,249.56 L616.25,249.27 L616.40,247.95 L616.55,247.30 L616.70,245.92 L616.85,246.52 L617.00,249.33 L617.15,250.76 L617.31,247.46 L617.46,247.23 L617.62,246.90 L617.77,246.96 L617.92,245.81 L618.08,246.22 L618.23,244.81 L618.39,240.98 L618.54,241.06 L618.70,236.22 L618.85,236.94 L619.00,236.91 L619.16,237.10 L619.31,234.89 L619.47,235.57 L619.62,236.12 L619.78,232.03 L619.93,230.77 L620.08,231.23 L620.24,231.22 L620.39,230.08 L620.55,230.37 L620.70,226.46 L620.85,228.65 L621.00,229.81 L621.16,229.89 L621.31,228.58 L621.46,226.87 L621.61,227.24 L621.76,226.19 L621.91,222.96 L622.07,223.38 L622.22,224.17 L622.37,223.29 L622.52,222.00 L622.67,222.52 L622.82,222.13 L622.98,222.47 L623.13,222.06 L623.28,222.01" fill="none" stroke="#1d610f" stroke-width="3.20" stroke-linejoin="round" stroke-linecap="round"/>
<path d="M623.28,222.01 L623.43,223.16 L623.58,221.85 L623.73,221.71 L623.89,218.66 L624.04,217.14 L624.19,217.82 L624.34,220.14 L624.49,218.88 L624.64,217.80 L624.80,216.21 L624.95,219.20 L625.10,217.44 L625.25,218.38 L625.40,220.13 L625.55,219.59 L625.71,222.33 L625.86,219.01 L626.01,219.86 L626.16,219.62 L626.31,217.17 L626.46,217.62 L626.62,216.65 L626.77,215.53 L626.92,217.44 L627.07,216.11 L627.22,219.92 L627.37,216.84 L627.52,216.21 L627.68,217.08 L627.83,216.25 L627.98,216.95 L628.13,215.97 L628.28,214.72 L628.43,214.72 L628.58,214.72 L628.74,219.26 L628.89,219.11 L629.04,218.67 L629.19,217.59 L629.34,217.93 L629.49,218.91 L629.65,216.40 L629.80,216.78 L629.95,216.85 L630.10,220.71 L630.25,218.16 L630.40,221.50 L630.55,219.91 L630.71,223.64 L630.86,222.17 L631.01,221.57 L631.16,223.83 L631.31,223.84 L631.46,224.10 L631.62,220.85 L631.77,223.86 L631.92,225.14 L632.07,223.52 L632.22,222.31 L632.37,221.03 L632.52,224.42 L632.68,224.31 L632.83,223.91 L632.98,221.76 L633.13,226.21 L633.28,226.37 L633.43,225.00 L633.58,227.21 L633.74,223.92 L633.89,226.21 L634.04,223.76 L634.19,227.34 L634.34,225.61 L634.49,227.82 L634.65,225.77 L634.80,226.70 L634.95,228.36 L635.10,225.29 L635.25,226.24 L635.40,225.00 L635.55,227.67 L635.71,226.05 L635.86,226.06 L636.01,226.46 L636.16,229.07 L636.31,226.11 L636.46,227.09 L636.62,226.96 L636.77,226.81 L636.92,226.72 L637.07,228.12 L637.22,229.48 L637.37,227.19 L637.52,229.93 L637.68,228.61 L637.83,230.63 L637.98,234.85 L638.13,231.65 L638.28,232.39 L638.43,232.61 L638.58,235.16 L638.74,233.59 L638.89,230.89 L639.04,230.50 L639.19,233.62 L639.34,234.80 L639.49,236.68 L639.65,234.56 L639.80,236.14 L639.95,233.71 L640.10,237.21 L640.25,235.93 L640.40,234.57 L640.56,235.73 L640.71,238.89 L640.86,235.39 L641.01,233.73 L641.16,233.79 L641.32,233.73 L641.47,235.80 L641.62,237.29 L641.77,236.99 L641.92,237.70 L642.08,239.80 L642.23,238.01 L642.38,235.95 L642.53,234.93 L642.68,237.59 L642.84,237.31 L642.99,238.14 L643.14,239.69 L643.29,240.37" fill="none" stroke="#1d610f" stroke-width="3.20" stroke-linejoin="round" stroke-linecap="round"/>
<path d="M643.29,240.37 L643.44,237.14 L643.60,237.37 L643.75,239.37 L643.90,239.71 L644.05,241.83 L644.21,239.45 L644.36,236.85 L644.51,240.40 L644.67,236.80 L644.82,236.83 L644.97,239.16 L645.12,237.27 L645.28,242.86 L645.43,240.54 L645.58,240.30 L645.74,238.47 L645.89,242.52 L646.04,240.73 L646.20,237.94 L646.35,240.50 L646.50,236.05 L646.66,236.59 L646.81,238.23 L646.96,238.40 L647.12,236.47 L647.27,240.29 L647.42,241.15 L647.57,237.10 L647.73,238.10 L647.88,236.54 L648.03,236.34 L648.19,238.69 L648.34,237.80 L648.49,237.03 L648.65,237.09 L648.80,234.78 L648.95,238.12 L649.10,235.51 L649.26,238.21 L649.41,235.76 L649.56,234.89 L649.71,237.90 L649.86,236.38 L650.02,234.32 L650.17,233.74 L650.32,235.43 L650.47,238.09 L650.62,236.60 L650.78,234.29 L650.93,232.24 L651.08,232.33 L651.23,233.24 L651.38,234.08 L651.54,232.66 L651.69,235.56 L651.84,232.40 L651.99,231.80 L652.14,233.62 L652.30,233.94 L652.45,232.33 L652.60,234.05 L652.76,231.05 L652.91,235.91 L653.07,238.60 L653.23,239.22 L653.38,236.98 L653.54,239.90 L653.69,237.83 L653.85,239.99 L654.01,238.45 L654.16,239.18 L654.32,240.48 L654.48,237.36 L654.63,239.65 L654.79,244.23 L654.94,237.92 L655.10,242.36 L655.25,244.21 L655.41,243.55 L655.56,242.97 L655.72,244.74 L655.87,243.26 L656.02,238.72 L656.18,238.88 L656.33,239.92 L656.49,240.85 L656.64,239.93 L656.80,240.08 L656.95,242.97 L657.10,235.45 L657.26,240.17 L657.41,240.95 L657.57,240.34 L657.72,238.86 L657.88,238.25 L658.03,238.35 L658.18,237.91 L658.34,235.81 L658.49,237.60 L658.65,235.03 L658.80,235.40 L658.95,234.81 L659.10,233.05 L659.26,235.46 L659.41,234.82 L659.56,232.51 L659.71,233.65 L659.86,231.59 L660.02,235.86 L660.17,235.41 L660.32,237.23 L660.47,233.86 L660.62,234.84 L660.78,232.07 L660.93,231.34 L661.08,232.37 L661.23,233.47 L661.38,234.60 L661.54,232.73 L661.69,234.50 L661.84,234.68 L661.99,231.38 L662.14,231.52 L662.30,230.15 L662.45,234.29 L662.60,231.43 L662.75,232.49 L662.91,232.39 L663.06,229.81 L663.22,228.15 L663.37,228.65" fill="none" stroke="#1d610f" stroke-width="3.20" stroke-linejoin="round" stroke-linecap="round"/>
<path d="M663.37,228.65 L663.52,226.34 L663.68,224.31 L663.83,223.75 L663.99,225.43 L664.14,225.19 L664.30,227.36 L664.45,221.27 L664.60,223.07 L664.76,220.20 L664.91,222.96 L665.07,222.56 L665.22,220.99 L665.38,222.48 L665.53,219.22 L665.68,217.53 L665.84,215.97 L665.99,215.37 L666.15,216.21 L666.30,217.02 L666.45,219.08 L666.60,217.34 L666.76,216.39 L666.91,217.19 L667.06,217.65 L667.21,218.11 L667.36,218.75 L667.52,218.50 L667.67,220.26 L667.82,220.36 L667.97,221.39 L668.12,219.92 L668.28,222.59 L668.43,224.46 L668.58,225.45 L668.73,223.94 L668.88,222.75 L669.04,222.42 L669.19,222.87 L669.34,224.25 L669.49,225.57 L669.64,223.68 L669.80,227.76 L669.95,225.38 L670.10,226.49 L670.25,226.58 L670.41,229.32 L670.56,231.90 L670.72,228.75 L670.87,228.06 L671.02,227.94 L671.18,228.47 L671.33,228.91 L671.49,233.44 L671.64,229.39 L671.80,229.98 L671.95,229.18 L672.10,231.20 L672.26,230.05 L672.41,231.56 L672.57,228.99 L672.72,233.80 L672.88,231.79 L673.03,227.59 L673.18,230.63 L673.34,229.38 L673.49,227.71 L673.65,230.02 L673.80,229.04 L673.95,231.12 L674.10,229.56 L674.26,231.78 L674.41,231.21 L674.56,231.51 L674.71,231.35 L674.86,230.48 L675.02,230.33 L675.17,231.83 L675.32,232.85 L675.47,231.30 L675.62,235.81 L675.78,236.44 L675.93,231.83 L676.08,234.64 L676.23,233.67 L676.38,234.15 L676.54,232.72 L676.69,236.86 L676.84,233.95 L676.99,234.63 L677.14,233.93 L677.30,238.67 L677.45,239.06 L677.60,234.93 L677.76,235.72 L677.92,237.82 L678.08,237.47 L678.24,237.75 L678.40,236.77 L678.56,239.08 L678.72,237.64 L678.88,240.87 L679.04,243.40 L679.20,241.47 L679.36,244.20 L679.52,243.01 L679.68,241.05 L679.84,241.28 L680.00,240.58 L680.16,242.93 L680.32,245.22 L680.48,246.87 L680.64,245.74 L680.80,244.30 L680.96,246.42 L681.12,250.76 L681.28,250.09 L681.44,249.81 L681.60,246.60 L681.76,249.11 L681.92,252.12 L682.08,250.78 L682.24,255.07 L682.40,253.32 L682.56,252.23 L682.72,252.57 L682.88,253.72 L683.04,256.23 L683.20,254.22 L683.36,251.74 L683.52,253.96" fill="none" stroke="#1d610f" stroke-width="3.20" stroke-linejoin="round" stroke-linecap="round"/>
<path d="M683.52,253.96 L683.68,256.02 L683.84,258.82 L684.00,254.87 L684.16,258.84 L684.32,258.75 L684.48,258.54 L684.64,256.37 L684.80,255.74 L684.96,254.55 L685.11,257.30 L685.27,256.27 L685.42,257.11 L685.58,258.34 L685.74,254.74 L685.89,253.03 L686.05,255.85 L686.21,249.93 L686.36,249.34 L686.52,249.58 L686.67,248.82 L686.83,248.50 L686.99,247.31 L687.14,248.95 L687.30,245.80 L687.45,246.86 L687.60,247.93 L687.75,248.99 L687.90,250.90 L688.05,253.31 L688.20,253.18 L688.35,256.11 L688.50,257.39 L688.65,256.20 L688.80,257.80 L688.95,259.49 L689.10,260.55 L689.25,261.61 L689.40,262.68 L689.55,263.74 L689.70,264.80 L689.86,263.99 L690.02,263.17 L690.18,261.47 L690.34,261.00 L690.50,256.73 L690.66,258.74 L690.82,262.63 L690.98,260.17 L691.14,258.15 L691.30,257.29 L691.46,256.13 L691.62,253.04 L691.78,252.23 L691.94,251.82 L692.10,251.99 L692.26,251.41 L692.42,252.61 L692.58,253.04 L692.74,253.85 L692.90,254.67 L693.06,253.76 L693.22,257.98 L693.38,260.82 L693.54,260.52 L693.70,259.19 L693.86,258.54 L694.02,256.74 L694.18,258.78 L694.34,263.99 L694.50,264.80 L694.66,262.95 L694.81,260.38 L694.97,259.45 L695.12,259.42 L695.28,257.75 L695.44,257.54 L695.59,254.11 L695.75,254.22 L695.91,252.63 L696.06,254.54 L696.22,249.13 L696.38,252.43 L696.53,249.53 L696.69,246.95 L696.84,246.56 L697.00,245.90 L697.15,244.96 L697.30,246.07 L697.45,244.10 L697.60,241.27 L697.75,245.38 L697.90,245.03 L698.05,248.75 L698.20,246.89 L698.35,240.77 L698.50,246.37 L698.65,243.55 L698.80,245.53 L698.95,248.98 L699.10,248.55 L699.25,242.91 L699.40,243.47 L699.55,239.96 L699.70,244.14 L699.85,245.03 L700.00,241.48 L700.15,243.76 L700.30,245.47 L700.45,245.58 L700.60,242.04 L700.76,240.75 L700.92,239.24 L701.08,238.21 L701.24,241.56 L701.40,241.77 L701.56,244.66 L701.72,242.97 L701.88,240.94 L702.04,237.46 L702.20,243.12 L702.36,241.32 L702.52,240.07 L702.68,237.12 L702.84,235.92 L703.00,239.21 L703.16,237.33 L703.32,240.93 L703.48,242.65 L703.64,241.31" fill="none" stroke="#1d610f" stroke-width="3.81" stroke-linejoin="round" stroke-linecap="round"/>
<path d="M703.64,241.31 L703.80,238.57 L703.96,243.02 L704.12,247.33 L704.28,243.99 L704.44,242.61 L704.60,248.30 L704.76,248.41 L704.92,247.23 L705.08,251.84 L705.24,250.30 L705.40,252.18 L705.56,250.15 L705.71,248.53 L705.87,250.08 L706.02,247.82 L706.18,245.29 L706.34,246.44 L706.49,250.79 L706.65,251.47 L706.81,253.71 L706.96,251.57 L707.12,252.03 L707.27,248.68 L707.43,245.74 L707.59,246.70 L707.74,243.34 L707.90,246.01 L708.06,244.66 L708.22,246.72 L708.38,245.47 L708.54,247.54 L708.70,251.49 L708.86,250.62 L709.02,249.98 L709.18,252.79 L709.34,255.75 L709.50,254.88 L709.66,253.01 L709.82,252.33 L709.98,252.77 L710.14,258.81 L710.30,258.19 L710.45,260.05 L710.60,262.58 L710.75,262.08 L710.90,262.95 L711.05,261.51 L711.20,259.01 L711.35,264.24 L711.50,264.97 L711.65,267.59 L711.80,265.32 L711.95,267.65 L712.10,270.17 L712.25,270.32 L712.40,272.13 L712.55,273.34 L712.70,274.40 L712.86,273.59 L713.02,268.13 L713.18,271.98 L713.34,270.69 L713.50,270.37 L713.66,270.84 L713.82,268.73 L713.98,269.13 L714.14,266.93 L714.30,264.83 L714.46,268.27 L714.62,267.24 L714.78,264.14 L714.94,264.07 L715.10,263.33 L715.26,263.23 L715.42,262.29 L715.58,262.62 L715.74,264.01 L715.90,265.28 L716.06,265.67 L716.22,264.14 L716.38,265.32 L716.54,267.39 L716.70,265.18 L716.86,267.24 L717.02,270.15 L717.18,270.22 L717.34,269.83 L717.50,270.88 L717.66,271.93 L717.83,277.05 L717.99,276.85 L718.15,275.13 L718.31,277.19 L718.47,282.68 L718.64,285.55 L718.80,286.20 L718.97,293.23 L719.15,304.50 L719.33,312.65 L719.50,321.80 L719.65,324.03 L719.81,323.31 L719.96,326.09 L720.12,324.88 L720.27,325.66 L720.43,326.84 L720.58,331.29 L720.74,331.94 L720.89,332.60 L721.05,329.72 L721.20,330.86 L721.37,346.82 L721.53,360.95 L721.70,369.07 L721.86,369.09 L722.02,366.02 L722.18,365.25 L722.33,363.23 L722.49,360.01 L722.65,362.96 L722.81,356.44 L722.97,358.97 L723.12,351.98 L723.28,348.24 L723.44,350.54 L723.60,344.40 L723.77,338.37" fill="none" stroke="#1d610f" stroke-width="4.10" stroke-linejoin="round" stroke-linecap="round"/>
<path d="M723.77,338.37 L723.94,337.63 L724.11,330.45 L724.29,326.03 L724.46,317.29 L724.63,318.29 L724.80,313.23 L724.95,310.46 L725.10,309.56 L725.25,305.56 L725.40,303.59 L725.55,299.47 L725.70,301.92 L725.85,303.78 L726.00,302.40 L726.16,302.13 L726.32,301.25 L726.48,296.85 L726.64,294.44 L726.80,297.87 L726.96,297.50 L727.12,298.98 L727.28,296.21 L727.44,293.60 L727.60,295.64 L727.76,293.58 L727.92,290.24 L728.08,291.22 L728.24,290.66 L728.40,289.52 L728.56,290.29 L728.71,293.68 L728.87,296.71 L729.02,296.41 L729.18,291.70 L729.34,293.45 L729.49,291.08 L729.65,291.30 L729.81,288.78 L729.96,289.22 L730.12,285.59 L730.27,292.38 L730.43,288.36 L730.59,290.10 L730.74,287.81 L730.90,288.93 L731.06,285.53 L731.22,285.94 L731.38,288.71 L731.53,288.47 L731.69,282.25 L731.85,286.43 L732.01,282.38 L732.17,284.44 L732.32,285.26 L732.48,282.36 L732.64,281.91 L732.80,281.49 L732.95,282.00 L733.11,282.60 L733.26,282.21 L733.42,280.05 L733.57,280.01 L733.73,275.33 L733.88,277.81 L734.04,274.43 L734.19,274.77 L734.35,272.04 L734.50,271.00 L734.66,267.86 L734.82,269.46 L734.98,270.99 L735.14,269.45 L735.30,267.21 L735.46,265.71 L735.62,266.05 L735.78,263.21 L735.94,261.94 L736.10,261.26 L736.26,262.75 L736.42,261.50 L736.58,255.61 L736.74,254.08 L736.90,254.23 L737.06,255.54 L737.22,255.70 L737.38,252.45 L737.54,256.31 L737.70,251.55 L737.86,253.17 L738.02,253.05 L738.18,252.88 L738.34,248.99 L738.50,248.07 L738.66,242.32 L738.82,239.22 L738.98,240.46 L739.14,243.23 L739.30,244.19 L739.47,242.48 L739.65,244.93 L739.83,244.92 L740.00,246.71 L740.15,241.65 L740.30,242.47 L740.45,242.97 L740.60,243.67 L740.75,250.74 L740.90,247.57 L741.05,247.35 L741.20,248.82 L741.35,252.72 L741.50,251.30 L741.65,254.13 L741.80,255.05 L741.95,253.04 L742.10,249.10 L742.25,250.31 L742.40,249.61 L742.55,255.64 L742.70,251.59 L742.85,249.05 L743.00,251.29 L743.15,250.78 L743.30,247.99 L743.45,251.42 L743.60,251.58 L743.75,249.77 L743.90,246.49" fill="none" stroke="#1d610f" stroke-width="4.10" stroke-linejoin="round" stroke-linecap="round"/>
<path d="M743.90,246.49 L744.05,244.76 L744.20,241.29 L744.36,246.57 L744.51,248.65 L744.67,246.64 L744.82,248.75 L744.98,254.43 L745.13,249.93 L745.29,247.00 L745.44,252.02 L745.60,251.56 L745.76,251.79 L745.91,254.87 L746.07,254.52 L746.22,257.48 L746.38,257.70 L746.53,259.66 L746.69,258.22 L746.84,253.29 L747.00,259.79 L747.15,255.26 L747.31,260.80 L747.46,261.12 L747.61,257.97 L747.76,260.79 L747.92,264.00 L748.07,260.99 L748.22,263.10 L748.37,262.35 L748.53,262.15 L748.68,263.28 L748.83,268.68 L748.98,269.58 L749.14,268.81 L749.29,269.03 L749.44,270.21 L749.59,271.53 L749.75,272.31 L749.90,269.49 L750.05,272.87 L750.20,269.57 L750.35,267.53 L750.50,269.82 L750.65,266.67 L750.80,267.70 L750.95,267.73 L751.10,266.12 L751.25,267.85 L751.40,266.05 L751.55,265.16 L751.70,262.86 L751.85,263.42 L752.00,261.37 L752.15,262.93 L752.30,266.01 L752.45,265.75 L752.60,263.96 L752.75,258.95 L752.90,262.56 L753.05,262.99 L753.20,264.73 L753.35,255.81 L753.50,257.68 L753.65,257.08 L753.80,259.81 L753.95,255.22 L754.10,255.01 L754.25,261.21 L754.40,261.25 L754.55,254.45 L754.70,257.06 L754.85,261.07 L755.00,257.81 L755.15,259.81 L755.30,259.39 L755.45,255.86 L755.60,256.77 L755.75,261.27 L755.90,262.94 L756.05,259.43 L756.20,262.51 L756.36,258.03 L756.51,258.40 L756.67,257.35 L756.82,253.56 L756.98,255.57 L757.13,253.94 L757.29,249.68 L757.44,249.43 L757.60,249.44 L757.76,248.83 L757.91,247.85 L758.07,247.45 L758.22,243.58 L758.38,247.86 L758.53,246.74 L758.69,246.00 L758.84,243.78 L759.00,243.03 L759.15,242.40 L759.30,240.20 L759.46,238.86 L759.61,241.79 L759.76,244.88 L759.91,244.00 L760.07,246.87 L760.22,240.79 L760.37,241.57 L760.52,240.92 L760.67,245.17 L760.83,247.91 L760.98,243.80 L761.13,245.71 L761.28,244.26 L761.43,242.25 L761.59,244.01 L761.74,242.56 L761.89,248.39 L762.04,248.04 L762.20,249.30 L762.35,247.85 L762.50,241.29 L762.65,246.20 L762.81,245.88 L762.96,240.63 L763.11,243.60 L763.26,246.71 L763.42,249.01 L763.57,243.16 L763.72,245.46 L763.87,244.93 L764.03,243.42" fill="none" stroke="#1d610f" stroke-width="4.10" stroke-linejoin="round" stroke-linecap="round"/>
<path d="M764.03,243.42 L764.18,242.50 L764.33,243.95 L764.48,244.46 L764.64,244.69 L764.79,242.19 L764.94,239.30 L765.09,244.47 L765.25,245.81 L765.40,241.80 L765.56,241.72 L765.71,243.53 L765.87,238.01 L766.02,241.32 L766.18,245.29 L766.33,242.57 L766.49,238.87 L766.64,243.86 L766.80,240.24 L766.96,239.30 L767.11,237.22 L767.27,237.89 L767.42,235.87 L767.58,235.77 L767.73,235.68 L767.89,238.20 L768.04,237.43 L768.20,240.09 L768.35,235.49 L768.50,236.05 L768.66,241.84 L768.81,238.79 L768.96,235.91 L769.11,238.00 L769.27,240.05 L769.42,241.67 L769.57,245.25 L769.72,245.65 L769.87,246.05 L770.03,246.46 L770.18,243.83 L770.33,243.25 L770.48,241.13 L770.63,247.15 L770.79,248.48 L770.94,247.29 L771.09,244.76 L771.24,247.90 L771.40,248.65 L771.55,248.37 L771.70,245.53 L771.86,248.87 L772.02,248.65 L772.18,252.29 L772.35,253.69 L772.51,254.44 L772.67,253.32 L772.83,258.23 L772.99,258.56 L773.15,260.54 L773.32,260.75 L773.48,261.11 L773.64,261.23 L773.80,258.51 L773.95,257.10 L774.10,257.61 L774.25,262.19 L774.40,264.73 L774.55,264.19 L774.70,264.24 L774.85,268.53 L775.00,265.31 L775.15,261.56 L775.30,261.31 L775.45,264.57 L775.60,268.37 L775.75,269.62 L775.90,267.82 L776.05,269.78 L776.20,268.45 L776.35,266.59 L776.50,266.89 L776.65,269.70 L776.80,271.13 L776.95,266.82 L777.10,265.87 L777.25,268.28 L777.40,273.69 L777.55,267.87 L777.70,265.90 L777.85,269.32 L778.00,270.66 L778.15,268.36 L778.30,269.09 L778.46,270.70 L778.61,266.13 L778.76,268.97 L778.91,271.45 L779.07,273.07 L779.22,274.34 L779.37,271.98 L779.52,268.18 L779.67,273.56 L779.83,273.97 L779.98,270.88 L780.13,273.92 L780.28,274.86 L780.43,272.49 L780.59,267.36 L780.74,269.42 L780.89,269.66 L781.04,269.57 L781.20,271.39 L781.35,269.65 L781.50,272.64 L781.65,278.43 L781.81,273.95 L781.96,278.76 L782.11,277.55 L782.26,280.77 L782.42,281.21 L782.57,285.71 L782.72,283.46 L782.87,287.20 L783.03,285.87 L783.18,288.85 L783.33,290.22 L783.48,294.28 L783.64,290.36 L783.79,290.65 L783.94,296.30 L784.09,297.70" fill="none" stroke="#1d610f" stroke-width="4.10" stroke-linejoin="round" stroke-linecap="round"/>
<path d="M784.09,297.70 L784.25,299.10 L784.40,298.74 L784.56,299.05 L784.71,298.80 L784.87,297.95 L785.02,297.10 L785.18,294.41 L785.33,295.59 L785.49,293.36 L785.64,290.50 L785.80,292.48 L785.96,286.19 L786.11,285.76 L786.27,290.49 L786.42,286.89 L786.58,285.53 L786.73,286.07 L786.89,287.43 L787.04,285.90 L787.20,281.41 L787.36,280.85 L787.51,284.17 L787.67,282.14 L787.82,280.04 L787.98,282.62 L788.13,283.80 L788.29,285.70 L788.44,279.21 L788.60,277.75 L788.76,277.07 L788.91,279.07 L789.07,277.49 L789.22,280.46 L789.38,272.78 L789.53,278.05 L789.69,275.83 L789.84,275.79 L790.00,277.51 L790.16,276.58 L790.31,272.94 L790.47,277.16 L790.62,275.81 L790.78,272.42 L790.93,272.51 L791.09,268.99 L791.24,267.09 L791.40,268.19 L791.56,269.56 L791.71,268.84 L791.87,265.93 L792.02,263.08 L792.18,260.87 L792.33,267.21 L792.49,265.70 L792.64,261.93 L792.80,264.82 L792.96,263.54 L793.11,260.34 L793.27,258.34 L793.42,261.21 L793.58,259.55 L793.73,261.52 L793.89,258.51 L794.04,254.80 L794.20,253.07 L794.36,251.68 L794.51,253.12 L794.67,253.19 L794.82,253.61 L794.98,253.00 L795.13,248.95 L795.29,249.27 L795.44,247.29 L795.60,249.59 L795.75,246.29 L795.90,246.97 L796.05,246.45 L796.21,246.59 L796.36,247.29 L796.51,251.03 L796.66,248.37 L796.81,244.49 L796.96,245.80 L797.12,248.44 L797.27,248.57 L797.42,247.70 L797.57,249.55 L797.72,249.34 L797.87,247.20 L798.02,248.56 L798.18,242.72 L798.33,243.32 L798.48,241.57 L798.63,243.12 L798.78,246.56 L798.93,242.38 L799.08,245.62 L799.24,240.21 L799.39,243.92 L799.54,237.57 L799.69,237.58 L799.84,241.74 L799.99,240.31 L800.15,240.29 L800.30,239.79 L800.45,239.95 L800.60,239.03 L800.76,237.33 L800.91,238.70 L801.07,240.31 L801.22,238.74 L801.38,241.70 L801.53,245.82 L801.69,239.44 L801.84,240.38 L802.00,241.53 L802.16,242.84 L802.31,243.71 L802.47,242.37 L802.62,243.84 L802.78,244.67 L802.93,244.99 L803.09,249.13 L803.24,247.42 L803.40,243.49 L803.56,242.66 L803.71,247.31 L803.87,246.94 L804.02,246.48 L804.18,244.90" fill="none" stroke="#1d610f" stroke-width="4.10" stroke-linejoin="round" stroke-linecap="round"/>
<path d="M804.18,244.90 L804.33,247.17 L804.49,248.64 L804.64,248.00 L804.80,248.86 L804.96,251.59 L805.11,252.01 L805.27,251.37 L805.42,249.20 L805.58,245.50 L805.73,249.02 L805.89,251.39 L806.04,251.32 L806.20,250.70 L806.36,248.16 L806.51,247.31 L806.67,245.84 L806.82,248.01 L806.98,245.01 L807.13,249.61 L807.29,247.75 L807.44,244.53 L807.60,244.19 L807.76,241.46 L807.91,243.36 L808.07,245.66 L808.22,252.95 L808.38,248.94 L808.53,252.31 L808.69,252.08 L808.84,251.86 L809.00,254.48 L809.16,249.66 L809.31,255.55 L809.47,259.84 L809.62,258.24 L809.78,257.35 L809.93,258.11 L810.09,260.03 L810.24,258.45 L810.40,259.90 L810.56,261.10 L810.71,259.56 L810.87,260.89 L811.02,261.24 L811.18,262.29 L811.33,258.74 L811.49,258.81 L811.64,259.15 L811.80,263.08 L811.96,262.16 L812.11,257.96 L812.27,258.19 L812.42,264.87 L812.58,263.63 L812.73,259.67 L812.89,259.52 L813.04,262.11 L813.20,266.06 L813.35,267.23 L813.51,262.76 L813.66,261.34 L813.81,265.83 L813.96,260.21 L814.12,264.15 L814.27,262.20 L814.42,260.79 L814.57,262.84 L814.73,261.34 L814.88,257.57 L815.03,255.17 L815.18,256.96 L815.34,258.57 L815.49,260.74 L815.64,253.70 L815.79,258.14 L815.95,258.09 L816.10,259.86 L816.25,261.25 L816.40,261.96 L816.55,264.35 L816.70,266.64 L816.85,266.61 L817.00,269.46 L817.15,272.54 L817.30,273.76 L817.45,274.10 L817.60,276.49 L817.76,279.99 L817.92,282.00 L818.08,282.15 L818.23,279.74 L818.39,284.19 L818.55,283.35 L818.71,281.74 L818.87,288.13 L819.02,284.25 L819.18,292.51 L819.34,291.78 L819.50,290.06 L819.66,288.59 L819.82,293.87 L819.98,303.05 L820.14,307.51 L820.30,309.20 L820.45,304.90 L820.61,306.97 L820.76,308.22 L820.91,310.72 L821.06,310.50 L821.22,311.92 L821.37,308.18 L821.52,309.71 L821.68,315.39 L821.83,310.78 L821.98,315.31 L822.14,317.88 L822.29,318.33 L822.44,313.39 L822.59,318.42 L822.75,313.13 L822.90,317.03 L823.05,318.49 L823.21,324.27 L823.36,327.43 L823.51,327.66 L823.66,332.05 L823.82,334.28 L823.97,332.97 L824.12,332.99 L824.28,340.97" fill="none" stroke="#1d610f" stroke-width="4.10" stroke-linejoin="round" stroke-linecap="round"/>
<path d="M824.28,340.97 L824.43,340.40 L824.58,343.23 L824.74,343.85 L824.89,345.56 L825.04,344.88 L825.19,349.65 L825.35,352.74 L825.50,353.46 L825.65,350.62 L825.81,343.26 L825.96,339.11 L826.12,337.22 L826.27,333.09 L826.43,331.49 L826.58,325.04 L826.74,321.91 L826.89,316.76 L827.05,314.99 L827.20,307.83 L827.35,309.44 L827.51,312.32 L827.66,316.16 L827.82,314.18 L827.97,316.53 L828.13,317.94 L828.28,317.41 L828.44,324.52 L828.59,328.44 L828.75,328.92 L828.90,336.41 L829.05,336.48 L829.21,338.43 L829.36,339.39 L829.51,338.81 L829.66,334.06 L829.82,340.28 L829.97,340.35 L830.12,337.41 L830.28,340.24 L830.43,343.53 L830.58,345.83 L830.74,344.74 L830.89,344.53 L831.04,346.76 L831.19,346.36 L831.35,348.24 L831.50,349.80 L831.65,345.19 L831.81,346.05 L831.96,339.67 L832.12,338.80 L832.27,336.46 L832.43,337.08 L832.58,337.80 L832.74,334.89 L832.89,334.88 L833.05,331.57 L833.20,328.49 L833.36,330.01 L833.51,328.93 L833.67,329.64 L833.83,332.13 L833.99,329.29 L834.14,332.60 L834.30,328.51 L834.46,329.50 L834.61,326.48 L834.77,328.48 L834.93,334.19 L835.09,333.24 L835.24,335.24 L835.40,329.66 L835.55,328.08 L835.70,330.40 L835.85,331.28 L836.00,330.94 L836.15,324.37 L836.30,326.82 L836.45,325.56 L836.60,324.99 L836.75,325.13 L836.90,322.88 L837.05,319.00 L837.20,318.16 L837.35,317.33 L837.50,316.49 L837.65,317.92 L837.81,321.57 L837.96,317.75 L838.11,316.24 L838.27,314.66 L838.42,312.81 L838.58,315.88 L838.73,315.34 L838.88,315.50 L839.04,313.62 L839.19,316.18 L839.34,312.77 L839.50,315.57 L839.65,313.35 L839.80,315.68 L839.96,312.01 L840.11,313.58 L840.26,313.63 L840.42,312.01 L840.57,313.82 L840.72,312.18 L840.88,308.40 L841.03,310.51 L841.19,307.17 L841.34,306.14 L841.49,306.49 L841.65,306.36 L841.80,308.90 L841.95,304.01 L842.11,305.02 L842.26,309.28 L842.41,308.02 L842.56,309.20 L842.72,312.81 L842.87,308.16 L843.02,310.49 L843.18,313.63 L843.33,312.11 L843.48,309.70 L843.64,311.41 L843.79,315.42 L843.94,317.33 L844.09,322.43 L844.25,323.48 L844.40,317.93" fill="none" stroke="#1d610f" stroke-width="4.10" stroke-linejoin="round" stroke-linecap="round"/>
<path d="M844.40,317.93 L844.55,322.73 L844.71,324.45 L844.86,326.51 L845.01,324.49 L845.16,323.31 L845.32,325.17 L845.47,329.33 L845.62,329.28 L845.78,330.74 L845.93,330.87 L846.08,327.69 L846.24,326.08 L846.39,332.51 L846.54,326.99 L846.69,328.30 L846.85,329.07 L847.00,328.23 L847.15,329.59 L847.31,331.99 L847.46,338.81 L847.61,335.91 L847.76,334.83 L847.92,336.98 L848.07,340.42 L848.22,338.35 L848.38,339.61 L848.53,339.00 L848.68,343.85 L848.84,346.55 L848.99,350.15 L849.14,345.96 L849.29,353.37 L849.45,353.56 L849.60,351.90 L849.75,351.65 L849.91,352.35 L850.06,350.98 L850.21,355.66 L850.36,354.44 L850.52,354.35 L850.67,357.70 L850.82,358.31 L850.98,357.42 L851.13,358.50 L851.28,358.76 L851.44,363.58 L851.59,364.79 L851.74,361.73 L851.89,362.91 L852.05,367.01 L852.20,364.99 L852.35,369.70 L852.51,368.65 L852.66,369.41 L852.82,364.70 L852.97,369.73 L853.13,371.15 L853.28,372.91 L853.44,373.91 L853.59,374.77 L853.75,374.01 L853.90,376.32 L854.05,373.29 L854.21,367.74 L854.36,363.99 L854.52,363.50 L854.67,360.45 L854.83,355.25 L854.98,352.04 L855.14,351.63 L855.29,347.74 L855.45,348.16 L855.60,339.20 L855.75,340.40 L855.91,341.40 L856.06,343.85 L856.22,347.71 L856.37,350.15 L856.53,345.76 L856.68,348.90 L856.84,347.02 L856.99,350.32 L857.15,351.83 L857.30,353.30 L857.45,349.92 L857.61,350.46 L857.76,349.05 L857.91,347.44 L858.06,345.41 L858.22,342.06 L858.37,344.18 L858.52,343.00 L858.68,342.00 L858.83,342.86 L858.98,337.13 L859.14,335.07 L859.29,333.84 L859.44,334.10 L859.59,330.57 L859.75,330.75 L859.90,328.45 L860.05,328.29 L860.21,329.38 L860.36,330.47 L860.52,331.56 L860.67,332.65 L860.83,335.46 L860.98,336.82 L861.14,337.79 L861.29,342.17 L861.45,343.09 L861.60,339.99 L861.75,339.49 L861.91,341.34 L862.06,343.88 L862.21,341.15 L862.37,339.84 L862.52,340.14 L862.67,341.10 L862.83,339.13 L862.98,339.11 L863.13,337.20 L863.29,336.03 L863.44,334.82 L863.59,337.42 L863.75,335.15 L863.90,336.65 L864.05,338.14 L864.21,340.73 L864.36,334.28 L864.52,336.90" fill="none" stroke="#1d610f" stroke-width="4.03" stroke-linejoin="round" stroke-linecap="round"/>
<path d="M864.52,336.90 L864.67,338.02 L864.82,341.59 L864.98,345.69 L865.13,346.65 L865.28,347.98 L865.44,349.31 L865.59,350.64 L865.75,350.32 L865.90,352.89 L866.05,346.69 L866.20,350.48 L866.36,349.33 L866.51,349.70 L866.66,345.91 L866.81,344.13 L866.97,344.14 L867.12,345.04 L867.27,345.73 L867.42,343.90 L867.57,344.47 L867.73,344.92 L867.88,340.48 L868.03,340.85 L868.18,336.86 L868.33,337.16 L868.49,339.73 L868.64,336.11 L868.79,339.90 L868.94,337.37 L869.10,336.68 L869.25,333.94 L869.40,334.05 L869.56,334.39 L869.71,331.93 L869.87,329.41 L870.02,328.24 L870.18,333.04 L870.34,329.41 L870.49,327.50 L870.65,326.17 L870.81,324.04 L870.96,324.98 L871.12,327.08 L871.27,325.69 L871.43,324.46 L871.59,326.48 L871.74,326.97 L871.90,324.92 L872.05,325.76 L872.20,322.97 L872.36,326.00 L872.51,322.61 L872.66,322.84 L872.81,323.76 L872.97,322.61 L873.12,320.36 L873.27,326.56 L873.42,326.85 L873.57,319.41 L873.73,321.01 L873.88,318.13 L874.03,320.46 L874.18,317.32 L874.33,320.21 L874.49,320.68 L874.64,323.14 L874.79,322.49 L874.94,318.66 L875.10,320.57 L875.25,318.00 L875.40,317.94 L875.55,317.22 L875.71,314.72 L875.86,318.75 L876.01,314.51 L876.16,317.08 L876.32,319.67 L876.47,319.63 L876.62,315.98 L876.78,317.01 L876.93,320.34 L877.08,322.36 L877.24,322.99 L877.39,317.24 L877.54,320.20 L877.69,318.90 L877.85,321.18 L878.00,316.40 L878.15,320.70 L878.31,325.47 L878.46,325.54 L878.62,327.79 L878.77,328.72 L878.92,335.21 L879.08,333.40 L879.23,335.37 L879.38,338.85 L879.54,341.54 L879.69,344.02 L879.85,346.31 L880.00,348.22 L880.15,347.47 L880.30,346.33 L880.46,345.20 L880.61,343.52 L880.76,342.92 L880.91,338.10 L881.06,335.51 L881.21,335.42 L881.37,333.44 L881.52,336.17 L881.67,339.08 L881.82,337.76 L881.97,335.01 L882.12,333.31 L882.28,329.92 L882.43,326.94 L882.58,329.45 L882.73,325.14 L882.88,327.10 L883.03,326.08 L883.19,327.09 L883.34,325.23 L883.49,323.84 L883.64,321.03 L883.79,316.81 L883.94,317.68 L884.10,319.33 L884.25,319.69 L884.40,319.34 L884.55,314.12" fill="none" stroke="#1d610f" stroke-width="3.93" stroke-linejoin="round" stroke-linecap="round"/>
<path d="M884.55,314.12 L884.71,312.06 L884.86,314.50 L885.01,312.20 L885.16,316.29 L885.32,313.77 L885.47,308.14 L885.62,308.02 L885.77,312.09 L885.93,305.42 L886.08,307.21 L886.23,303.88 L886.39,308.86 L886.54,305.47 L886.69,302.80 L886.84,300.34 L887.00,301.05 L887.15,299.12 L887.30,299.93 L887.46,306.04 L887.61,302.93 L887.76,300.80 L887.91,297.81 L888.07,299.75 L888.22,298.21 L888.37,296.64 L888.52,300.68 L888.68,299.53 L888.83,296.00 L888.98,299.74 L889.14,297.23 L889.29,297.36 L889.44,296.31 L889.59,297.91 L889.75,296.85 L889.90,294.14 L890.05,295.48 L890.21,293.30 L890.36,293.58 L890.51,295.70 L890.67,291.23 L890.82,289.36 L890.98,289.83 L891.13,289.42 L891.28,292.83 L891.44,287.28 L891.59,292.69 L891.74,292.27 L891.90,289.00 L892.05,288.67 L892.20,287.10 L892.36,288.55 L892.51,288.67 L892.66,288.60 L892.82,288.31 L892.97,288.83 L893.12,286.26 L893.28,286.58 L893.43,284.47 L893.59,284.03 L893.74,283.99 L893.89,283.09 L894.05,283.38 L894.20,280.60 L894.36,281.66 L894.51,281.20 L894.67,280.01 L894.83,280.78 L894.99,281.61 L895.14,282.74 L895.30,280.21 L895.46,282.38 L895.61,281.32 L895.77,281.81 L895.93,284.25 L896.09,287.10 L896.24,286.34 L896.40,284.60 L896.56,284.33 L896.71,288.20 L896.87,283.18 L897.03,287.72 L897.19,283.59 L897.34,284.34 L897.50,286.11 L897.66,286.33 L897.81,290.62 L897.97,289.64 L898.13,288.41 L898.29,290.39 L898.44,289.24 L898.60,287.32 L898.76,291.06 L898.91,293.21 L899.07,293.60 L899.23,288.76 L899.39,294.33 L899.54,291.47 L899.70,293.54 L899.86,295.47 L900.01,293.93 L900.17,291.88 L900.33,291.48 L900.49,295.17 L900.64,295.59 L900.80,295.70 L900.95,290.01 L901.11,294.59 L901.26,294.10 L901.41,288.78 L901.56,293.94 L901.72,288.50 L901.87,289.52 L902.02,290.51 L902.17,290.82 L902.33,291.54 L902.48,289.10 L902.63,286.84 L902.79,287.02 L902.94,284.67 L903.09,284.26 L903.24,290.22 L903.40,286.23 L903.55,286.04 L903.70,289.90 L903.86,288.99 L904.01,286.46 L904.16,286.73 L904.31,284.39 L904.47,282.05 L904.62,285.13" fill="none" stroke="#1d610f" stroke-width="3.83" stroke-linejoin="round" stroke-linecap="round"/>
<path d="M904.62,285.13 L904.77,283.93 L904.92,286.41 L905.08,282.91 L905.23,281.31 L905.38,281.97 L905.54,281.26 L905.69,280.84 L905.84,280.50 L905.99,280.40 L906.15,280.31 L906.30,282.42 L906.45,280.13 L906.60,280.04 L906.76,280.06 L906.91,284.41 L907.06,280.63 L907.21,279.67 L907.36,279.83 L907.51,279.51 L907.67,279.60 L907.82,280.62 L907.97,279.78 L908.12,282.66 L908.27,281.05 L908.42,280.05 L908.58,280.73 L908.73,284.46 L908.88,288.59 L909.03,288.70 L909.18,286.76 L909.33,284.95 L909.49,285.23 L909.64,288.21 L909.79,286.22 L909.94,287.90 L910.09,289.85 L910.24,286.73 L910.40,286.76 L910.55,289.25 L910.70,289.35 L910.85,289.48 L911.01,289.01 L911.16,290.22 L911.31,294.63 L911.47,295.02 L911.62,290.01 L911.78,292.17 L911.93,293.27 L912.08,293.67 L912.24,290.93 L912.39,292.95 L912.54,294.33 L912.70,293.16 L912.85,295.11 L913.00,290.01 L913.16,290.65 L913.31,294.45 L913.46,296.38 L913.62,295.96 L913.77,295.39 L913.92,296.78 L914.08,299.28 L914.23,299.83 L914.39,298.09 L914.54,296.92 L914.69,300.01 L914.85,300.01 L915.00,300.92 L915.15,298.87 L915.31,297.24 L915.46,299.17 L915.61,298.23 L915.76,301.93 L915.92,302.60 L916.07,297.39 L916.22,300.98 L916.38,303.94 L916.53,304.40 L916.68,301.79 L916.83,300.57 L916.99,304.49 L917.14,306.14 L917.29,304.99 L917.44,302.45 L917.60,301.27 L917.75,305.13 L917.90,304.34 L918.06,304.81 L918.21,307.73 L918.36,310.28 L918.51,304.79 L918.67,306.51 L918.82,311.39 L918.97,310.11 L919.12,309.23 L919.28,311.21 L919.43,308.17 L919.58,307.23 L919.74,309.75 L919.89,313.94 L920.04,314.19 L920.19,312.23 L920.35,313.97 L920.50,311.61 L920.65,308.89 L920.80,307.72 L920.96,310.39 L921.11,312.78 L921.26,312.36 L921.41,311.34 L921.56,310.24 L921.71,313.07 L921.87,311.48 L922.02,308.01 L922.17,312.95 L922.32,310.10 L922.47,311.45 L922.62,311.01 L922.78,313.10 L922.93,311.93 L923.08,313.58 L923.23,311.82 L923.38,309.78 L923.53,308.98 L923.69,311.13 L923.84,308.54 L923.99,311.43 L924.14,309.72 L924.29,307.65 L924.44,307.07 L924.60,308.36 L924.75,312.75" fill="none" stroke="#1d610f" stroke-width="3.80" stroke-linejoin="round" stroke-linecap="round"/>
<path d="M924.75,312.75 L924.90,311.86 L925.05,310.50 L925.20,308.46 L925.36,314.13 L925.51,311.55 L925.66,311.64 L925.81,311.07 L925.96,314.95 L926.11,313.95 L926.27,312.61 L926.42,313.87 L926.57,312.03 L926.72,311.66 L926.87,313.76 L927.02,309.95 L927.18,316.60 L927.33,320.00 L927.48,315.67 L927.63,316.52 L927.78,314.02 L927.93,317.30 L928.09,318.67 L928.24,320.52 L928.39,317.01 L928.54,317.90 L928.69,318.45 L928.84,319.84 L929.00,321.40 L929.15,321.85 L929.30,322.30 L929.45,321.30 L929.61,321.68 L929.76,321.37 L929.91,321.06 L930.07,320.75 L930.22,319.66 L930.38,322.16 L930.53,320.42 L930.68,322.22 L930.84,322.06 L930.99,320.86 L931.14,315.24 L931.30,317.12 L931.45,316.05 L931.60,317.55 L931.76,316.97 L931.91,318.78 L932.06,313.48 L932.22,313.56 L932.37,314.82 L932.52,315.87 L932.68,314.46 L932.83,314.67 L932.99,314.73 L933.14,316.69 L933.29,314.62 L933.45,314.59 L933.60,311.60 L933.76,312.85 L933.91,314.10 L934.07,315.87 L934.23,316.59 L934.39,317.98 L934.54,319.28 L934.70,320.60 L934.86,320.16 L935.01,321.42 L935.17,325.31 L935.33,326.33 L935.49,326.67 L935.64,326.62 L935.80,328.96 L935.96,332.59 L936.11,331.95 L936.27,331.85 L936.43,330.94 L936.59,334.24 L936.74,333.91 L936.90,334.22 L937.05,337.83 L937.20,335.67 L937.35,333.04 L937.50,333.23 L937.65,337.82 L937.80,336.26 L937.95,332.65 L938.10,331.82 L938.25,335.26 L938.40,335.41 L938.55,334.83 L938.70,333.57 L938.85,334.43 L939.00,336.74 L939.15,334.97 L939.30,332.84 L939.45,331.08 L939.60,332.03 L939.75,334.99 L939.90,333.55 L940.05,329.50 L940.20,330.04 L940.36,333.93 L940.51,331.64 L940.67,334.06 L940.83,337.00 L940.99,339.47 L941.14,333.99 L941.30,332.82 L941.46,337.53 L941.61,340.39 L941.77,339.75 L941.93,341.02 L942.09,341.32 L942.24,345.60 L942.40,340.32 L942.56,344.77 L942.71,343.57 L942.87,345.24 L943.03,344.66 L943.19,346.57 L943.34,349.78 L943.50,351.60 L943.66,357.18 L943.81,355.67 L943.97,357.54 L944.13,359.23 L944.29,360.65 L944.44,364.77 L944.60,364.27 L944.76,365.26" fill="none" stroke="#1d610f" stroke-width="3.80" stroke-linejoin="round" stroke-linecap="round"/>
<path d="M944.76,365.26 L944.91,366.21 L945.07,367.92 L945.23,369.49 L945.39,373.39 L945.54,373.66 L945.70,375.02 L945.86,376.16 L946.01,379.27 L946.17,378.61 L946.33,382.48 L946.49,381.41 L946.64,384.78 L946.80,388.03 L946.96,388.17 L947.11,387.18 L947.27,386.74 L947.43,389.91 L947.59,391.27 L947.74,392.64 L947.90,392.70 L948.06,390.76 L948.21,387.51 L948.37,384.27 L948.53,381.03 L948.69,376.03 L948.84,374.79 L949.00,373.47 L949.16,370.45 L949.31,363.42 L949.47,359.57 L949.63,356.33 L949.79,353.09 L949.94,349.85 L950.10,347.98 L950.26,352.92 L950.41,351.50 L950.57,354.69 L950.73,351.19 L950.89,356.11 L951.04,357.26 L951.20,357.70 L951.36,359.52 L951.51,360.49 L951.67,363.65 L951.83,364.09 L951.99,359.40 L952.14,358.84 L952.30,366.74 L952.46,366.34 L952.61,366.96 L952.77,368.11 L952.93,368.24 L953.09,369.69 L953.24,371.55 L953.40,372.70 L953.55,370.08 L953.71,369.73 L953.86,368.24 L954.01,364.77 L954.17,361.77 L954.32,358.21 L954.48,359.10 L954.63,358.99 L954.78,356.28 L954.94,354.50 L955.09,353.81 L955.24,352.79 L955.40,352.48 L955.55,351.79 L955.70,349.57 L955.86,349.20 L956.01,343.44 L956.16,343.94 L956.32,342.58 L956.47,338.12 L956.62,336.55 L956.78,337.47 L956.93,335.93 L957.09,331.59 L957.24,330.78 L957.39,333.99 L957.55,332.46 L957.70,329.35 L957.85,331.20 L958.00,326.69 L958.16,326.97 L958.31,329.46 L958.46,327.39 L958.61,325.06 L958.76,327.99 L958.91,331.02 L959.07,323.01 L959.22,326.36 L959.37,324.32 L959.52,325.72 L959.67,323.45 L959.82,329.08 L959.98,326.03 L960.13,325.78 L960.28,323.80 L960.43,322.31 L960.58,322.73 L960.73,323.99 L960.89,326.28 L961.04,324.98 L961.19,325.48 L961.34,321.29 L961.49,321.82 L961.64,320.60 L961.80,318.30 L961.95,323.48 L962.10,321.57 L962.25,322.22 L962.41,320.96 L962.56,321.65 L962.71,321.56 L962.86,326.65 L963.02,325.80 L963.17,326.78 L963.32,328.47 L963.47,326.64 L963.63,329.91 L963.78,330.72 L963.93,332.91 L964.08,332.32 L964.24,333.62 L964.39,335.61 L964.54,337.74 L964.69,335.39 L964.85,338.83" fill="none" stroke="#1d610f" stroke-width="3.80" stroke-linejoin="round" stroke-linecap="round"/>
<path d="M964.85,338.83 L965.00,336.22 L965.16,337.55 L965.31,339.07 L965.47,340.01 L965.62,336.36 L965.78,337.29 L965.93,340.11 L966.09,344.05 L966.24,342.46 L966.40,347.45 L966.56,342.52 L966.71,345.79 L966.87,348.46 L967.02,348.84 L967.18,350.19 L967.33,351.10 L967.49,350.46 L967.64,352.77 L967.80,353.60 L967.96,352.35 L968.11,346.47 L968.27,346.26 L968.42,346.16 L968.58,344.94 L968.73,347.01 L968.89,343.88 L969.04,347.18 L969.20,345.45 L969.36,339.36 L969.51,338.73 L969.67,341.45 L969.82,339.45 L969.98,334.21 L970.13,336.06 L970.29,332.43 L970.44,335.93 L970.60,330.41 L970.75,332.14 L970.91,333.00 L971.06,331.50 L971.21,332.08 L971.36,335.49 L971.52,335.50 L971.67,334.72 L971.82,335.98 L971.97,339.57 L972.13,339.30 L972.28,338.65 L972.43,338.55 L972.58,334.86 L972.74,337.90 L972.89,337.93 L973.04,341.03 L973.19,339.55 L973.35,341.83 L973.50,339.76 L973.65,342.47 L973.81,339.34 L973.96,339.45 L974.12,340.33 L974.27,338.20 L974.42,337.81 L974.58,339.54 L974.73,341.18 L974.89,333.59 L975.04,332.85 L975.20,335.61 L975.35,336.61 L975.50,333.46 L975.66,333.34 L975.81,332.28 L975.97,336.86 L976.12,332.51 L976.28,328.73 L976.43,326.75 L976.58,326.12 L976.74,331.06 L976.89,328.58 L977.05,332.50 L977.20,330.50 L977.35,329.92 L977.50,330.59 L977.66,331.39 L977.81,332.20 L977.96,328.65 L978.11,328.77 L978.26,329.12 L978.42,330.91 L978.57,330.87 L978.72,328.69 L978.87,329.22 L979.02,334.73 L979.18,336.68 L979.33,331.48 L979.48,332.47 L979.63,331.89 L979.78,330.01 L979.94,332.82 L980.09,332.00 L980.24,335.87 L980.39,334.85 L980.54,333.27 L980.70,330.52 L980.85,332.46 L981.00,336.17 L981.16,334.95 L981.31,338.85 L981.47,340.41 L981.62,336.45 L981.78,339.46 L981.93,342.30 L982.09,344.65 L982.24,344.57 L982.40,344.73 L982.56,344.61 L982.71,345.24 L982.87,346.61 L983.02,345.28 L983.18,349.09 L983.33,348.70 L983.49,350.95 L983.64,350.16 L983.80,352.74 L983.96,354.18 L984.12,357.39 L984.27,358.56 L984.43,361.05 L984.59,360.57 L984.75,361.79 L984.91,362.85" fill="none" stroke="#1d610f" stroke-width="3.80" stroke-linejoin="round" stroke-linecap="round"/>
<path d="M984.91,362.85 L985.07,362.16 L985.23,365.35 L985.38,367.68 L985.54,369.09 L985.70,368.89 L985.86,369.29 L986.01,368.83 L986.17,364.49 L986.32,365.87 L986.48,365.51 L986.63,365.57 L986.79,363.80 L986.94,358.26 L987.10,357.42 L987.26,362.21 L987.41,358.45 L987.57,360.43 L987.72,360.57 L987.88,357.61 L988.03,356.00 L988.19,357.33 L988.34,354.96 L988.50,354.97 L988.66,355.98 L988.81,357.92 L988.97,359.19 L989.12,356.41 L989.28,357.14 L989.43,357.88 L989.59,359.25 L989.74,361.88 L989.90,361.26 L990.06,361.54 L990.21,366.92 L990.37,367.70 L990.52,364.96 L990.68,365.69 L990.83,365.19 L990.99,366.28 L991.14,367.20 L991.30,365.57 L991.46,364.08 L991.62,364.91 L991.77,361.28 L991.93,363.03 L992.09,362.48 L992.25,359.86 L992.41,357.92 L992.57,358.47 L992.73,357.73 L992.88,356.55 L993.04,352.07 L993.20,349.92 L993.35,356.82 L993.51,353.60 L993.66,353.51 L993.82,351.17 L993.97,352.22 L994.12,353.10 L994.28,356.91 L994.43,352.42 L994.59,352.74 L994.74,354.80 L994.90,355.71 L995.05,355.64 L995.20,356.55 L995.36,354.56 L995.51,358.11 L995.67,361.37 L995.82,360.29 L995.98,358.68 L996.13,362.25 L996.28,361.85 L996.44,358.67 L996.59,358.88 L996.75,359.06 L996.90,360.52 L997.05,364.66 L997.21,362.55 L997.36,363.88 L997.51,365.60 L997.66,364.09 L997.82,365.92 L997.97,369.57 L998.12,372.55 L998.27,367.77 L998.43,372.63 L998.58,372.70 L998.73,376.88 L998.88,377.46 L999.04,381.30 L999.19,379.64 L999.34,378.40 L999.49,377.86 L999.65,377.16 L999.80,381.98 L999.95,384.84 L1000.10,387.62 L1000.25,388.74 L1000.40,386.40 L1000.55,389.30 L1000.70,391.81 L1000.85,394.70 L1001.00,398.15 L1001.15,400.05 L1001.30,401.83 L1001.45,398.11 L1001.60,400.46 L1001.75,399.43 L1001.90,399.54 L1002.06,398.80 L1002.21,401.32 L1002.36,400.77 L1002.51,403.28 L1002.66,403.73 L1002.82,400.34 L1002.97,402.10 L1003.12,400.39 L1003.27,400.60 L1003.42,402.33 L1003.58,397.27 L1003.73,397.84 L1003.88,401.24 L1004.03,397.08 L1004.18,397.70 L1004.34,397.47 L1004.49,395.80 L1004.64,392.96 L1004.79,393.00 L1004.94,391.97" fill="none" stroke="#1d610f" stroke-width="3.80" stroke-linejoin="round" stroke-linecap="round"/>
<path d="M1004.94,391.97 L1005.10,395.67 L1005.25,394.56 L1005.40,394.79 L1005.55,390.73 L1005.71,392.94 L1005.86,392.65 L1006.02,394.32 L1006.17,390.85 L1006.33,392.90 L1006.48,394.52 L1006.63,395.41 L1006.79,390.10 L1006.94,387.78 L1007.10,386.19 L1007.25,390.73 L1007.40,391.10 L1007.56,390.50 L1007.71,387.79 L1007.87,391.52 L1008.02,393.36 L1008.17,390.41 L1008.33,389.35 L1008.48,391.83 L1008.64,391.10 L1008.79,392.69 L1008.95,389.41 L1009.10,390.01 L1009.26,387.37 L1009.42,384.93 L1009.58,383.69 L1009.73,382.26 L1009.89,382.42 L1010.05,379.65 L1010.21,378.53 L1010.37,375.21 L1010.52,372.47 L1010.68,375.95 L1010.84,370.99 L1011.00,374.75 L1011.16,373.84 L1011.31,367.55 L1011.47,367.25 L1011.62,367.65 L1011.78,368.37 L1011.94,367.81 L1012.09,366.40 L1012.25,369.61 L1012.41,367.26 L1012.56,368.55 L1012.72,365.07 L1012.88,363.65 L1013.03,367.21 L1013.19,364.48 L1013.34,361.59 L1013.50,362.35 L1013.66,362.14 L1013.83,357.23 L1013.99,352.24 L1014.15,351.34 L1014.31,349.49 L1014.47,344.10 L1014.64,339.94 L1014.80,336.28 L1014.96,341.00 L1015.12,336.12 L1015.27,337.79 L1015.43,333.43 L1015.59,332.48 L1015.75,326.13 L1015.91,328.38 L1016.07,327.67 L1016.23,326.02 L1016.38,324.85 L1016.54,323.68 L1016.70,322.50 L1016.85,323.01 L1017.01,323.52 L1017.16,324.02 L1017.32,324.59 L1017.47,325.04 L1017.62,324.29 L1017.78,330.11 L1017.93,325.91 L1018.09,326.30 L1018.24,327.23 L1018.40,326.05 L1018.55,326.46 L1018.70,330.84 L1018.86,332.68 L1019.01,331.88 L1019.17,336.21 L1019.32,335.45 L1019.48,336.17 L1019.63,332.30 L1019.78,334.67 L1019.94,335.18 L1020.09,334.32 L1020.25,336.19 L1020.40,333.96 L1020.55,331.42 L1020.71,332.62 L1020.86,331.01 L1021.02,333.26 L1021.17,330.03 L1021.32,331.57 L1021.48,328.99 L1021.63,330.42 L1021.79,333.48 L1021.94,331.51 L1022.09,332.06 L1022.25,333.82 L1022.40,329.59 L1022.56,327.83 L1022.71,330.12 L1022.86,331.15 L1023.02,330.20 L1023.17,328.32 L1023.33,332.33 L1023.48,328.23 L1023.64,328.59 L1023.79,328.87 L1023.94,330.28 L1024.10,327.91 L1024.25,326.11 L1024.41,331.34 L1024.56,326.49 L1024.71,328.24 L1024.87,326.43 L1025.02,324.89" fill="none" stroke="#1d610f" stroke-width="3.80" stroke-linejoin="round" stroke-linecap="round"/>
<path d="M1025.02,324.89 L1025.18,325.05 L1025.33,324.93 L1025.48,325.05 L1025.64,324.32 L1025.79,324.01 L1025.95,323.71 L1026.10,323.40 L1026.25,323.95 L1026.41,328.25 L1026.56,329.66 L1026.72,327.92 L1026.87,326.98 L1027.02,325.98 L1027.18,329.76 L1027.33,327.39 L1027.49,326.32 L1027.64,329.66 L1027.80,327.56 L1027.95,327.76 L1028.10,333.06 L1028.26,328.56 L1028.41,330.92 L1028.57,332.46 L1028.72,333.67 L1028.88,330.81 L1029.03,332.86 L1029.18,333.59 L1029.34,338.98 L1029.49,338.94 L1029.65,335.51 L1029.80,338.30 L1029.95,338.77 L1030.10,337.43 L1030.26,336.91 L1030.41,336.85 L1030.56,334.52 L1030.71,335.63 L1030.86,339.56 L1031.02,341.95 L1031.17,343.87 L1031.32,339.99 L1031.47,341.27 L1031.62,336.62 L1031.78,338.64 L1031.93,337.77 L1032.08,342.28 L1032.23,338.64 L1032.38,339.15 L1032.54,339.50 L1032.69,343.11 L1032.84,345.42 L1032.99,342.47 L1033.14,347.51 L1033.30,345.70 L1033.45,343.18 L1033.60,345.10 L1033.76,345.26 L1033.91,347.43 L1034.07,347.32 L1034.22,351.57 L1034.38,350.91 L1034.53,347.18 L1034.69,349.39 L1034.84,350.33 L1035.00,347.14 L1035.16,347.01 L1035.31,347.16 L1035.47,346.79 L1035.62,349.96 L1035.78,350.21 L1035.93,353.72 L1036.09,351.56 L1036.24,352.78 L1036.40,355.07 L1036.56,354.67 L1036.71,353.71 L1036.87,349.87 L1037.02,352.17 L1037.18,351.33 L1037.33,353.65 L1037.49,353.24 L1037.64,352.41 L1037.80,350.14 L1037.96,349.01 L1038.11,348.48 L1038.27,343.01 L1038.42,345.63 L1038.58,341.94 L1038.73,343.13 L1038.89,340.17 L1039.04,341.75 L1039.20,339.12 L1039.35,344.56 L1039.50,342.53 L1039.65,342.61 L1039.81,340.44 L1039.96,340.92 L1040.11,341.60 L1040.26,341.64 L1040.41,341.59 L1040.56,340.89 L1040.72,344.43 L1040.87,343.28 L1041.02,342.27 L1041.17,344.72 L1041.32,343.54 L1041.47,345.15 L1041.63,345.50 L1041.78,345.30 L1041.93,347.31 L1042.08,347.21 L1042.23,346.83 L1042.38,350.71 L1042.54,351.08 L1042.69,349.24 L1042.84,351.11 L1042.99,353.17 L1043.14,353.08 L1043.29,353.56 L1043.45,354.05 L1043.60,354.53 L1043.75,354.67 L1043.90,353.78 L1044.05,354.90 L1044.20,353.61 L1044.36,353.40 L1044.51,353.10 L1044.66,352.50 L1044.81,354.79 L1044.96,350.31 L1045.12,349.15" fill="none" stroke="#1d610f" stroke-width="3.80" stroke-linejoin="round" stroke-linecap="round"/>
<path d="M1045.12,349.15 L1045.27,350.31 L1045.42,345.93 L1045.57,344.47 L1045.72,347.52 L1045.88,345.48 L1046.03,344.01 L1046.18,347.00 L1046.33,347.02 L1046.48,347.62 L1046.64,344.86 L1046.79,343.86 L1046.94,343.19 L1047.09,344.09 L1047.24,340.30 L1047.40,339.82 L1047.55,342.62 L1047.70,339.88 L1047.85,341.17 L1048.00,342.27 L1048.15,343.71 L1048.31,342.33 L1048.46,340.81 L1048.61,346.61 L1048.76,344.09 L1048.91,347.46 L1049.06,342.44 L1049.22,344.94 L1049.37,345.30 L1049.52,349.15 L1049.67,349.57 L1049.82,349.99 L1049.97,346.46 L1050.13,345.87 L1050.28,346.08 L1050.43,346.93 L1050.58,349.11 L1050.73,347.82 L1050.88,348.86 L1051.04,353.14 L1051.19,353.80 L1051.34,348.29 L1051.49,348.64 L1051.64,350.26 L1051.79,351.91 L1051.95,352.33 L1052.10,352.75 L1052.25,353.18 L1052.40,353.60 L1052.55,352.87 L1052.70,352.41 L1052.85,352.69 L1053.01,352.39 L1053.16,348.79 L1053.31,350.16 L1053.46,351.24 L1053.61,352.17 L1053.76,349.46 L1053.92,353.35 L1054.07,350.86 L1054.22,352.51 L1054.37,350.51 L1054.52,348.88 L1054.67,347.24 L1054.83,344.82 L1054.98,348.29 L1055.13,348.93 L1055.28,349.39 L1055.43,346.57 L1055.58,344.25 L1055.74,344.73 L1055.89,344.89 L1056.04,345.41 L1056.19,347.57 L1056.34,344.03 L1056.49,343.72 L1056.65,345.97 L1056.80,346.99 L1056.95,348.08 L1057.10,347.07 L1057.26,342.30 L1057.41,339.73 L1057.57,338.75 L1057.72,339.27 L1057.88,338.78 L1058.03,336.99 L1058.19,334.29 L1058.34,333.41 L1058.50,332.36 L1058.66,332.51 L1058.81,330.45 L1058.97,326.96 L1059.12,327.25 L1059.28,328.26 L1059.43,325.41 L1059.59,323.80 L1059.74,322.69 L1059.90,324.15 L1060.05,322.31 L1060.21,323.16 L1060.36,322.86 L1060.52,324.87 L1060.67,323.46 L1060.83,324.63 L1060.98,327.35 L1061.13,328.89 L1061.29,328.26 L1061.44,327.59 L1061.60,330.23 L1061.75,329.42 L1061.90,330.77 L1062.06,325.87 L1062.21,324.80 L1062.37,328.71 L1062.52,327.77 L1062.67,327.33 L1062.83,326.27 L1062.98,331.33 L1063.14,327.34 L1063.29,329.45 L1063.45,327.34 L1063.60,329.74 L1063.75,332.48 L1063.90,332.05 L1064.05,331.12 L1064.21,328.32 L1064.36,330.79 L1064.51,328.91 L1064.66,325.63 L1064.81,329.04 L1064.96,326.54 L1065.12,324.58" fill="none" stroke="#1d610f" stroke-width="3.80" stroke-linejoin="round" stroke-linecap="round"/>
<path d="M1065.12,324.58 L1065.27,329.03 L1065.42,326.06 L1065.57,324.06 L1065.72,325.68 L1065.87,324.99 L1066.03,327.19 L1066.18,325.24 L1066.33,327.47 L1066.48,326.71 L1066.63,327.51 L1066.78,325.89 L1066.94,322.82 L1067.09,322.46 L1067.24,320.88 L1067.39,316.76 L1067.54,319.91 L1067.69,319.49 L1067.85,319.07 L1068.00,318.65 L1068.15,318.22 L1068.30,317.80 L1068.45,318.32 L1068.60,318.85 L1068.76,319.37 L1068.91,319.90 L1069.06,320.42 L1069.21,317.37 L1069.36,321.14 L1069.52,320.13 L1069.67,322.46 L1069.82,325.05 L1069.97,327.81 L1070.12,328.37 L1070.28,330.19 L1070.43,325.50 L1070.58,328.82 L1070.73,331.76 L1070.88,330.98 L1071.04,327.85 L1071.19,330.52 L1071.34,329.75 L1071.49,329.59 L1071.64,333.39 L1071.80,332.23 L1071.95,330.17 L1072.10,330.79 L1072.25,336.51 L1072.41,332.42 L1072.56,334.47 L1072.72,334.16 L1072.87,336.22 L1073.02,334.02 L1073.18,332.10 L1073.33,332.36 L1073.49,331.77 L1073.64,338.85 L1073.80,336.83 L1073.95,335.14 L1074.10,338.11 L1074.26,337.95 L1074.41,336.26 L1074.57,337.67 L1074.72,337.48 L1074.88,339.45 L1075.03,340.99 L1075.18,337.85 L1075.34,337.48 L1075.49,337.20 L1075.65,340.16 L1075.80,339.43 L1075.95,339.51 L1076.10,339.52 L1076.26,335.92 L1076.41,336.17 L1076.56,338.54 L1076.71,338.01 L1076.86,337.25 L1077.02,334.46 L1077.17,333.18 L1077.32,331.50 L1077.47,331.96 L1077.62,332.30 L1077.78,329.23 L1077.93,333.56 L1078.08,330.49 L1078.23,331.48 L1078.38,332.22 L1078.54,329.77 L1078.69,326.11 L1078.84,330.63 L1078.99,330.51 L1079.14,328.84 L1079.30,330.97 L1079.45,330.90 L1079.60,326.68 L1079.75,326.72 L1079.90,322.70 L1080.06,324.20 L1080.21,327.68 L1080.36,323.53 L1080.51,325.30 L1080.66,320.46 L1080.82,321.09 L1080.97,323.46 L1081.12,325.28 L1081.27,322.74 L1081.42,322.11 L1081.58,323.54 L1081.73,314.68 L1081.88,313.48 L1082.03,319.55 L1082.18,321.28 L1082.34,318.37 L1082.49,315.64 L1082.64,314.63 L1082.79,313.30 L1082.94,310.95 L1083.10,310.97 L1083.25,310.14 L1083.40,311.04 L1083.55,311.20 L1083.71,311.69 L1083.86,310.73 L1084.02,307.19 L1084.17,310.94 L1084.33,307.00 L1084.48,307.07 L1084.63,308.59 L1084.79,307.14 L1084.94,311.78 L1085.10,306.82 L1085.25,306.45" fill="none" stroke="#1d610f" stroke-width="3.80" stroke-linejoin="round" stroke-linecap="round"/>
<path d="M1085.25,306.45 L1085.40,306.36 L1085.56,308.14 L1085.71,309.49 L1085.87,308.44 L1086.02,309.22 L1086.17,306.54 L1086.33,305.87 L1086.48,307.19 L1086.64,305.62 L1086.79,306.73 L1086.95,306.12 L1087.10,308.18 L1087.25,306.31 L1087.41,307.55 L1087.56,308.59 L1087.71,310.11 L1087.86,309.98 L1088.02,312.28 L1088.17,311.26 L1088.32,315.59 L1088.47,317.78 L1088.63,317.65 L1088.78,317.86 L1088.93,317.10 L1089.08,317.35 L1089.24,319.64 L1089.39,319.50 L1089.54,319.54 L1089.69,323.00 L1089.85,324.31 L1090.00,324.50 L1090.15,323.92 L1090.31,325.65 L1090.46,325.17 L1090.62,325.88 L1090.77,327.77 L1090.93,329.84 L1091.08,330.97 L1091.24,328.74 L1091.39,332.40 L1091.55,328.75 L1091.70,330.19 L1091.85,334.17 L1092.01,336.94 L1092.16,334.79 L1092.32,333.14 L1092.47,332.83 L1092.63,331.17 L1092.78,333.24 L1092.94,333.55 L1093.09,333.14 L1093.25,337.62 L1093.40,334.82 L1093.55,337.83 L1093.70,337.45 L1093.86,336.71 L1094.01,333.37 L1094.16,332.29 L1094.31,330.23 L1094.47,331.99 L1094.62,331.56 L1094.77,332.68 L1094.92,330.31 L1095.07,331.98 L1095.23,327.96 L1095.38,327.58 L1095.53,329.37 L1095.68,331.97 L1095.83,326.44 L1095.99,330.15 L1096.14,328.35 L1096.29,328.11 L1096.44,324.92 L1096.60,324.73 L1096.75,328.53 L1096.90,326.18 L1097.05,327.60 L1097.21,328.11 L1097.36,333.57 L1097.52,333.01 L1097.67,327.93 L1097.83,328.73 L1097.98,327.66 L1098.14,327.04 L1098.29,328.77 L1098.45,333.84 L1098.60,333.10 L1098.75,334.67 L1098.91,333.45 L1099.06,332.70 L1099.22,333.92 L1099.37,334.19 L1099.53,338.83 L1099.68,339.15 L1099.84,338.12 L1099.99,338.14 L1100.15,332.07 L1100.30,335.08 L1100.45,340.59 L1100.60,336.67 L1100.76,338.98 L1100.91,340.77 L1101.06,337.36 L1101.21,336.85 L1101.37,336.16 L1101.52,339.15 L1101.67,338.16 L1101.82,341.64 L1101.97,341.94 L1102.13,339.14 L1102.28,342.47 L1102.43,339.39 L1102.58,337.02 L1102.73,337.34 L1102.89,335.84 L1103.04,336.65 L1103.19,337.80 L1103.34,340.69 L1103.50,335.36 L1103.65,334.35 L1103.80,335.71 L1103.95,337.60 L1104.11,340.28 L1104.26,338.14 L1104.41,343.58 L1104.56,340.21 L1104.72,340.28 L1104.87,341.40 L1105.02,344.94 L1105.18,344.12 L1105.33,343.48" fill="none" stroke="#1d610f" stroke-width="3.91" stroke-linejoin="round" stroke-linecap="round"/>
<path d="M1105.33,343.48 L1105.48,342.18 L1105.64,343.96 L1105.79,345.48 L1105.94,344.27 L1106.09,345.15 L1106.25,340.94 L1106.40,343.50 L1106.55,351.01 L1106.71,353.63 L1106.86,354.23 L1107.02,349.88 L1107.17,360.25 L1107.33,360.10 L1107.48,364.66 L1107.64,364.88 L1107.79,368.99 L1107.95,367.41 L1108.10,373.48 L1108.25,373.63 L1108.40,368.90 L1108.56,373.68 L1108.71,374.09 L1108.86,372.55 L1109.01,368.19 L1109.17,371.05 L1109.32,370.11 L1109.47,366.95 L1109.62,367.26 L1109.77,371.02 L1109.93,367.32 L1110.08,373.50 L1110.23,373.67 L1110.38,372.10 L1110.53,375.91 L1110.69,370.92 L1110.84,373.87 L1110.99,369.24 L1111.14,370.73 L1111.30,373.91 L1111.45,371.55 L1111.60,372.02 L1111.76,375.17 L1111.91,379.11 L1112.07,380.19 L1112.22,379.09 L1112.38,377.32 L1112.54,374.19 L1112.69,382.61 L1112.85,385.60 L1113.01,376.75 L1113.16,382.96 L1113.32,382.91 L1113.47,385.63 L1113.63,385.98 L1113.79,385.34 L1113.94,386.28 L1114.10,387.18 L1114.25,393.42 L1114.40,393.43 L1114.55,394.67 L1114.70,400.46 L1114.85,404.21 L1115.00,406.84 L1115.15,409.25 L1115.30,412.93 L1115.45,415.80 L1115.60,418.67 L1115.75,419.68 L1115.90,424.40 L1116.05,414.54 L1116.21,412.78 L1116.36,409.26 L1116.52,408.22 L1116.67,403.87 L1116.83,407.06 L1116.98,402.03 L1117.14,396.85 L1117.29,396.27 L1117.45,389.64 L1117.60,383.78 L1117.75,389.56 L1117.91,391.69 L1118.06,394.11 L1118.22,397.14 L1118.37,395.19 L1118.53,395.24 L1118.68,396.65 L1118.84,400.84 L1118.99,403.13 L1119.15,403.47 L1119.30,405.67 L1119.45,402.50 L1119.61,405.18 L1119.76,404.16 L1119.91,403.15 L1120.06,400.41 L1120.22,398.72 L1120.37,398.59 L1120.52,399.68 L1120.68,395.55 L1120.83,396.52 L1120.98,400.09 L1121.14,397.03 L1121.29,395.57 L1121.44,388.28 L1121.59,390.38 L1121.75,390.63 L1121.90,388.36 L1122.05,384.97 L1122.21,386.78 L1122.36,383.88 L1122.52,383.49 L1122.67,379.68 L1122.83,382.33 L1122.98,384.57 L1123.14,380.44 L1123.29,380.64 L1123.45,378.55 L1123.60,378.31 L1123.75,381.40 L1123.91,381.67 L1124.06,385.73 L1124.22,385.75 L1124.37,387.78 L1124.53,391.82 L1124.68,392.01 L1124.84,389.78 L1124.99,396.95 L1125.15,399.12 L1125.30,399.12 L1125.46,394.61" fill="none" stroke="#1d610f" stroke-width="4.20" stroke-linejoin="round" stroke-linecap="round"/>
<path d="M1125.46,394.61 L1125.63,393.52 L1125.79,392.43 L1125.95,397.64 L1126.12,397.05 L1126.28,392.80 L1126.45,396.69 L1126.61,397.58 L1126.77,391.68 L1126.94,392.76 L1127.10,386.37 L1127.25,390.03 L1127.41,393.36 L1127.56,386.97 L1127.72,388.52 L1127.87,386.71 L1128.03,387.47 L1128.18,387.92 L1128.34,388.34 L1128.49,389.82 L1128.65,388.83 L1128.80,389.11 L1128.95,390.21 L1129.11,391.31 L1129.26,388.61 L1129.42,391.24 L1129.57,390.57 L1129.73,389.73 L1129.88,396.82 L1130.04,396.74 L1130.19,396.29 L1130.35,390.59 L1130.50,394.92 L1130.65,399.40 L1130.81,398.43 L1130.96,397.55 L1131.11,403.47 L1131.26,400.61 L1131.42,400.16 L1131.57,401.09 L1131.72,401.53 L1131.88,405.84 L1132.03,406.26 L1132.18,405.05 L1132.34,404.40 L1132.49,405.06 L1132.64,411.22 L1132.79,407.89 L1132.95,410.15 L1133.10,404.93 L1133.27,416.84 L1133.45,427.22 L1133.62,437.73 L1133.80,443.93 L1133.96,450.32 L1134.11,455.87 L1134.27,464.03 L1134.42,473.67 L1134.58,475.66 L1134.73,477.83 L1134.89,487.11 L1135.04,492.41 L1135.20,500.70 L1135.37,513.98 L1135.53,524.82 L1135.70,534.98 L1135.87,548.83 L1136.03,557.12 L1136.20,572.65 L1136.36,559.80 L1136.52,552.12 L1136.68,541.27 L1136.84,529.48 L1137.00,515.47 L1137.16,512.92 L1137.32,506.35 L1137.48,502.30 L1137.64,499.80 L1137.80,496.11 L1137.97,505.67 L1138.13,517.55 L1138.30,531.00 L1138.47,521.00 L1138.65,509.64 L1138.83,497.97 L1139.00,492.80 L1139.20,500.67 L1139.40,512.33 L1139.60,521.92 L1139.77,513.53 L1139.95,500.40 L1140.12,489.64 L1140.30,487.89 L1140.47,492.83 L1140.65,501.62 L1140.83,506.50 L1141.00,509.66 L1141.17,503.76 L1141.35,498.50 L1141.53,487.54 L1141.70,479.00 L1141.86,483.00 L1142.02,487.00 L1142.18,492.03 L1142.34,495.00 L1142.50,498.91 L1142.67,490.08 L1142.85,483.50 L1143.03,474.75 L1143.20,468.57 L1143.36,464.09 L1143.52,455.23 L1143.68,453.03 L1143.84,455.61 L1144.00,456.24 L1144.16,462.19 L1144.32,464.76 L1144.48,468.60 L1144.64,473.80 L1144.80,479.39 L1144.97,485.48 L1145.15,483.93 L1145.33,484.52 L1145.50,485.63" fill="none" stroke="#1d610f" stroke-width="4.20" stroke-linejoin="round" stroke-linecap="round"/>
<path d="M1145.50,485.63 L1145.66,486.53 L1145.82,483.40 L1145.98,473.22 L1146.14,475.06 L1146.30,470.00 L1146.45,473.00 L1146.60,476.00 L1146.75,479.00 L1146.90,486.40 L1147.05,491.38 L1147.20,485.71 L1147.35,487.51 L1147.50,492.60 L1147.65,494.45 L1147.80,492.78 L1147.95,491.11 L1148.10,492.10 L1148.25,492.43 L1148.40,492.61 L1148.55,494.82 L1148.70,493.61 L1148.86,496.81 L1149.02,506.12 L1149.18,510.59 L1149.34,515.77 L1149.50,515.86 L1149.67,515.84 L1149.85,518.49 L1150.03,517.36 L1150.20,524.20 L1150.36,520.20 L1150.52,514.18 L1150.68,504.62 L1150.84,503.60 L1151.00,505.07 L1151.16,502.80 L1151.32,500.19 L1151.48,493.72 L1151.64,491.51 L1151.80,490.32 L1151.97,491.79 L1152.15,496.23 L1152.33,494.05 L1152.50,489.92 L1152.66,486.10 L1152.82,485.11 L1152.98,481.09 L1153.14,482.00 L1153.30,482.62 L1153.46,482.72 L1153.62,486.01 L1153.78,487.30 L1153.94,489.65 L1154.10,490.09 L1154.26,489.04 L1154.42,492.89 L1154.58,489.26 L1154.74,488.29 L1154.90,491.13 L1155.06,489.09 L1155.22,482.65 L1155.38,480.79 L1155.54,474.77 L1155.70,474.49 L1155.86,474.77 L1156.02,473.23 L1156.18,472.61 L1156.34,472.33 L1156.50,465.58 L1156.67,465.08 L1156.83,467.68 L1157.00,466.32 L1157.17,464.13 L1157.33,465.09 L1157.50,470.36 L1157.66,465.56 L1157.83,462.12 L1157.99,460.71 L1158.15,458.58 L1158.31,461.08 L1158.47,457.23 L1158.64,461.06 L1158.80,461.59 L1158.95,460.24 L1159.10,460.64 L1159.25,456.88 L1159.40,450.82 L1159.55,452.75 L1159.70,455.03 L1159.85,448.63 L1160.00,447.23 L1160.15,453.09 L1160.30,452.34 L1160.45,454.28 L1160.60,452.27 L1160.75,449.32 L1160.90,448.98 L1161.05,449.58 L1161.20,446.62 L1161.35,446.09 L1161.51,447.98 L1161.66,447.12 L1161.81,452.84 L1161.97,448.95 L1162.12,445.36 L1162.27,445.30 L1162.43,452.77 L1162.58,451.14 L1162.73,452.00 L1162.89,452.60 L1163.04,453.20 L1163.19,450.45 L1163.35,454.35 L1163.50,454.00 L1163.66,454.31 L1163.81,453.62 L1163.97,451.39 L1164.12,449.92 L1164.28,451.56 L1164.44,455.32 L1164.59,454.64 L1164.75,451.96 L1164.91,453.26 L1165.06,443.93 L1165.22,445.67 L1165.38,444.14 L1165.53,442.94" fill="none" stroke="#1d610f" stroke-width="4.20" stroke-linejoin="round" stroke-linecap="round"/>
<path d="M1165.53,442.94 L1165.69,446.65 L1165.84,446.25 L1166.00,445.47 L1166.16,442.38 L1166.31,442.34 L1166.47,441.47 L1166.62,435.77 L1166.78,437.26 L1166.93,430.73 L1167.09,435.52 L1167.24,426.38 L1167.40,425.57 L1167.56,421.76 L1167.71,422.91 L1167.87,425.94 L1168.02,419.51 L1168.18,424.02 L1168.33,423.09 L1168.49,418.59 L1168.64,413.20 L1168.80,414.90 L1168.95,405.50 L1169.11,403.75 L1169.26,407.91 L1169.42,404.72 L1169.57,408.29 L1169.73,400.58 L1169.88,394.48 L1170.04,394.53 L1170.19,395.72 L1170.35,398.11 L1170.50,387.21 L1170.65,388.82 L1170.80,391.69 L1170.95,385.70 L1171.10,383.66 L1171.25,379.71 L1171.40,383.61 L1171.55,384.00 L1171.70,382.35 L1171.85,379.72 L1172.00,380.16 L1172.16,378.57 L1172.31,381.53 L1172.47,383.58 L1172.63,385.16 L1172.79,385.86 L1172.94,385.20 L1173.10,387.59 L1173.26,382.25 L1173.41,380.64 L1173.57,387.71 L1173.73,388.89 L1173.89,387.65 L1174.04,388.87 L1174.20,391.34 L1174.36,391.51 L1174.51,388.45 L1174.67,390.05 L1174.82,384.70 L1174.98,388.48 L1175.13,386.45 L1175.29,391.41 L1175.44,389.42 L1175.60,381.00 L1175.76,379.40 L1175.91,382.23 L1176.07,383.20 L1176.22,380.76 L1176.38,380.85 L1176.53,380.74 L1176.69,377.87 L1176.84,377.91 L1177.00,382.80 L1177.15,378.53 L1177.31,377.49 L1177.46,380.79 L1177.61,384.73 L1177.76,385.38 L1177.92,380.79 L1178.07,381.42 L1178.22,382.84 L1178.37,382.30 L1178.53,384.39 L1178.68,387.45 L1178.83,387.08 L1178.98,385.56 L1179.14,384.91 L1179.29,391.17 L1179.44,384.12 L1179.59,392.29 L1179.75,391.18 L1179.90,389.16 L1180.06,386.88 L1180.21,394.82 L1180.37,395.92 L1180.52,395.89 L1180.68,399.58 L1180.83,389.98 L1180.99,393.46 L1181.14,393.81 L1181.30,393.28 L1181.46,396.15 L1181.61,399.51 L1181.77,401.53 L1181.92,401.16 L1182.08,398.42 L1182.23,404.42 L1182.39,407.40 L1182.54,412.71 L1182.70,413.34 L1182.86,411.53 L1183.01,408.46 L1183.17,417.55 L1183.32,414.09 L1183.48,415.82 L1183.63,418.85 L1183.79,419.88 L1183.94,423.55 L1184.10,418.24 L1184.26,418.50 L1184.41,422.12 L1184.57,419.66 L1184.72,421.73 L1184.88,426.80 L1185.03,428.05 L1185.19,428.56 L1185.34,427.78 L1185.50,430.19 L1185.66,429.62" fill="none" stroke="#1d610f" stroke-width="4.20" stroke-linejoin="round" stroke-linecap="round"/>
<path d="M1185.66,429.62 L1185.81,425.66 L1185.97,429.75 L1186.12,424.03 L1186.28,428.69 L1186.43,425.89 L1186.59,420.96 L1186.74,420.33 L1186.90,422.68 L1187.06,420.05 L1187.21,427.04 L1187.37,427.26 L1187.52,428.20 L1187.68,425.32 L1187.83,425.12 L1187.99,419.84 L1188.14,422.11 L1188.30,418.60 L1188.46,419.38 L1188.61,420.17 L1188.77,420.95 L1188.92,423.07 L1189.08,423.36 L1189.23,420.94 L1189.39,427.22 L1189.54,429.86 L1189.70,428.36 L1189.86,430.58 L1190.01,432.07 L1190.17,426.60 L1190.32,428.12 L1190.48,425.09 L1190.63,425.87 L1190.79,429.42 L1190.94,427.44 L1191.10,431.05 L1191.25,430.87 L1191.41,426.01 L1191.56,424.90 L1191.71,430.14 L1191.87,426.57 L1192.02,425.06 L1192.17,421.35 L1192.33,419.37 L1192.48,418.26 L1192.64,427.02 L1192.79,420.59 L1192.94,415.77 L1193.10,416.66 L1193.25,412.73 L1193.40,417.39 L1193.56,419.85 L1193.71,412.29 L1193.86,412.56 L1194.02,408.18 L1194.17,411.51 L1194.33,406.58 L1194.48,406.48 L1194.63,410.23 L1194.79,408.17 L1194.94,405.02 L1195.09,403.91 L1195.25,402.81 L1195.40,403.40 L1195.56,405.15 L1195.71,405.21 L1195.87,409.95 L1196.02,408.88 L1196.18,407.95 L1196.33,409.14 L1196.49,410.86 L1196.64,412.58 L1196.80,419.41 L1196.96,419.66 L1197.11,419.08 L1197.27,418.13 L1197.42,417.44 L1197.58,417.12 L1197.73,415.99 L1197.89,419.87 L1198.04,418.93 L1198.20,419.74 L1198.36,424.14 L1198.51,426.36 L1198.67,437.84 L1198.82,443.54 L1198.98,440.59 L1199.13,446.07 L1199.29,449.38 L1199.44,446.23 L1199.60,452.69 L1199.76,448.91 L1199.91,445.92 L1200.07,445.76 L1200.22,448.76 L1200.38,446.63 L1200.53,438.68 L1200.69,437.19 L1200.84,435.08 L1201.00,439.02 L1201.16,435.19 L1201.31,430.05 L1201.47,427.82 L1201.62,426.01 L1201.78,424.20 L1201.93,427.15 L1202.09,420.57 L1202.24,421.21 L1202.40,419.84 L1202.56,422.05 L1202.71,416.18 L1202.87,420.19 L1203.02,422.89 L1203.18,423.93 L1203.33,413.46 L1203.49,414.38 L1203.64,413.61 L1203.80,413.85 L1203.96,410.00 L1204.11,413.87 L1204.27,418.44 L1204.42,417.33 L1204.58,408.67 L1204.73,406.59 L1204.89,409.41 L1205.04,407.78 L1205.20,403.94 L1205.36,408.45 L1205.51,407.21 L1205.67,408.22" fill="none" stroke="#1d610f" stroke-width="4.20" stroke-linejoin="round" stroke-linecap="round"/>
<path d="M1205.67,408.22 L1205.82,404.63 L1205.98,407.77 L1206.13,403.14 L1206.29,399.50 L1206.44,401.62 L1206.60,397.73 L1206.76,404.50 L1206.91,404.67 L1207.07,397.09 L1207.22,400.26 L1207.38,403.09 L1207.53,399.98 L1207.69,401.22 L1207.84,398.26 L1208.00,398.61 L1208.16,397.37 L1208.31,397.78 L1208.47,392.44 L1208.62,389.36 L1208.78,391.91 L1208.93,389.14 L1209.09,390.45 L1209.24,386.74 L1209.40,382.14 L1209.56,386.08 L1209.71,384.80 L1209.87,384.89 L1210.02,380.61 L1210.18,378.30 L1210.33,381.57 L1210.49,372.52 L1210.64,379.32 L1210.80,376.61 L1210.95,373.21 L1211.11,371.79 L1211.26,372.04 L1211.41,367.05 L1211.56,367.87 L1211.72,363.49 L1211.87,361.82 L1212.02,362.49 L1212.17,362.47 L1212.33,363.29 L1212.48,362.45 L1212.63,362.18 L1212.78,361.77 L1212.94,355.43 L1213.09,359.88 L1213.24,363.33 L1213.39,355.88 L1213.55,350.71 L1213.70,354.52 L1213.86,354.35 L1214.01,352.96 L1214.17,352.57 L1214.32,341.90 L1214.48,342.49 L1214.63,341.32 L1214.79,341.79 L1214.94,333.75 L1215.10,332.38 L1215.26,329.96 L1215.41,328.82 L1215.57,327.45 L1215.72,325.96 L1215.88,319.50 L1216.03,321.79 L1216.19,321.72 L1216.34,319.26 L1216.50,312.79 L1216.66,314.02 L1216.81,314.78 L1216.97,314.13 L1217.12,321.23 L1217.28,321.07 L1217.43,317.38 L1217.59,318.45 L1217.74,319.83 L1217.90,315.22 L1218.06,316.68 L1218.21,313.62 L1218.37,317.94 L1218.52,317.47 L1218.68,315.04 L1218.83,315.88 L1218.99,311.43 L1219.14,309.17 L1219.30,312.73 L1219.46,316.36 L1219.61,314.45 L1219.77,313.40 L1219.92,313.72 L1220.08,321.38 L1220.23,315.62 L1220.39,315.24 L1220.54,318.19 L1220.70,324.07 L1220.86,323.01 L1221.01,323.18 L1221.17,324.06 L1221.32,327.02 L1221.48,326.61 L1221.63,327.69 L1221.79,328.17 L1221.94,326.00 L1222.10,333.30 L1222.26,328.39 L1222.41,325.03 L1222.57,324.94 L1222.72,325.87 L1222.88,327.85 L1223.03,321.27 L1223.19,320.34 L1223.34,321.60 L1223.50,322.43 L1223.66,317.52 L1223.81,316.58 L1223.97,317.77 L1224.12,316.88 L1224.28,313.77 L1224.43,312.83 L1224.59,317.77 L1224.74,311.50 L1224.90,315.45 L1225.05,309.43 L1225.21,315.41 L1225.36,317.50 L1225.52,311.05 L1225.67,308.67" fill="none" stroke="#1d610f" stroke-width="4.20" stroke-linejoin="round" stroke-linecap="round"/>
<path d="M1225.67,308.67 L1225.83,311.62 L1225.98,306.55 L1226.14,310.14 L1226.29,312.94 L1226.45,310.58 L1226.60,309.76 L1226.75,307.15 L1226.91,309.06 L1227.06,303.09 L1227.22,307.64 L1227.38,303.15 L1227.53,299.94 L1227.68,295.39 L1227.84,294.95 L1227.99,296.30 L1228.15,298.80 L1228.31,290.70 L1228.46,290.84 L1228.62,288.54 L1228.77,287.17 L1228.92,287.39 L1229.08,284.82 L1229.24,288.13 L1229.39,282.47 L1229.55,283.87 L1229.70,280.13 L1229.85,278.35 L1230.01,278.45 L1230.16,276.13 L1230.31,275.60 L1230.47,271.26 L1230.62,269.49 L1230.77,267.71 L1230.93,267.23 L1231.08,264.17 L1231.23,266.77 L1231.39,264.99 L1231.54,263.22 L1231.69,261.45 L1231.85,259.67 L1232.00,257.90 L1232.15,258.88 L1232.30,259.91 L1232.45,264.46 L1232.60,261.80 L1232.75,262.77 L1232.90,260.06 L1233.05,267.64 L1233.20,266.68 L1233.35,272.19 L1233.50,271.56 L1233.65,271.43 L1233.80,266.83 L1233.95,269.38 L1234.10,274.93 L1234.25,272.75 L1234.40,276.34 L1234.55,271.06 L1234.71,278.04 L1234.86,283.63 L1235.01,283.67 L1235.17,281.73 L1235.32,277.49 L1235.47,279.31 L1235.63,280.43 L1235.78,284.26 L1235.93,281.66 L1236.09,282.91 L1236.24,289.67 L1236.39,290.75 L1236.55,293.83 L1236.70,296.05 L1236.86,291.81 L1237.02,291.01 L1237.18,297.29 L1237.34,298.95 L1237.50,300.66 L1237.66,299.55 L1237.82,304.17 L1237.98,305.58 L1238.14,306.99 L1238.30,308.20 L1238.46,305.43 L1238.62,302.46 L1238.78,296.79 L1238.94,295.58 L1239.10,288.48 L1239.26,288.80 L1239.42,287.97 L1239.58,287.29 L1239.74,279.82 L1239.90,276.70 L1240.05,278.05 L1240.21,279.41 L1240.36,280.76 L1240.51,288.49 L1240.67,287.43 L1240.82,284.50 L1240.97,284.60 L1241.13,292.74 L1241.28,287.09 L1241.43,289.29 L1241.59,290.86 L1241.74,290.25 L1241.89,290.96 L1242.05,291.27 L1242.20,292.63 L1242.35,297.72 L1242.50,296.91 L1242.66,293.41 L1242.81,293.89 L1242.96,292.48 L1243.11,290.18 L1243.27,287.92 L1243.42,290.70 L1243.57,289.06 L1243.72,285.60 L1243.88,283.97 L1244.03,286.43 L1244.18,281.99 L1244.33,279.71 L1244.49,279.79 L1244.64,280.31 L1244.79,282.93 L1244.94,280.94 L1245.10,278.44 L1245.25,276.14 L1245.40,280.27 L1245.55,280.09 L1245.71,283.35" fill="none" stroke="#1d610f" stroke-width="4.20" stroke-linejoin="round" stroke-linecap="round"/>
<path d="M1245.71,283.35 L1245.86,284.29 L1246.01,281.93 L1246.17,280.88 L1246.32,282.14 L1246.47,284.25 L1246.63,287.18 L1246.78,287.62 L1246.93,290.87 L1247.09,283.80 L1247.24,286.63 L1247.39,283.58 L1247.55,284.31 L1247.70,286.29 L1247.86,286.87 L1248.02,286.33 L1248.18,286.71 L1248.34,292.52 L1248.50,290.70 L1248.66,294.26 L1248.82,289.34 L1248.98,289.84 L1249.14,290.47 L1249.30,295.47 L1249.46,293.67 L1249.62,296.62 L1249.78,293.68 L1249.94,299.97 L1250.10,300.60 L1250.25,299.35 L1250.41,296.70 L1250.56,296.84 L1250.71,295.59 L1250.87,292.28 L1251.02,290.07 L1251.17,290.78 L1251.33,287.39 L1251.48,284.80 L1251.63,287.29 L1251.79,289.07 L1251.94,285.71 L1252.09,287.21 L1252.25,287.43 L1252.40,280.10 L1252.56,282.15 L1252.71,278.93 L1252.87,278.76 L1253.02,281.01 L1253.18,274.25 L1253.33,280.50 L1253.49,283.03 L1253.64,282.73 L1253.80,282.79 L1253.95,283.82 L1254.11,280.23 L1254.26,282.51 L1254.41,283.12 L1254.57,281.16 L1254.72,273.16 L1254.88,275.33 L1255.04,275.25 L1255.19,271.20 L1255.35,273.97 L1255.50,277.03 L1255.65,274.88 L1255.80,274.36 L1255.96,279.07 L1256.11,274.18 L1256.26,271.83 L1256.41,274.13 L1256.57,278.14 L1256.72,277.81 L1256.87,276.20 L1257.02,274.07 L1257.18,278.68 L1257.33,279.07 L1257.48,271.72 L1257.63,275.40 L1257.79,271.87 L1257.94,278.24 L1258.09,278.62 L1258.24,275.10 L1258.40,272.17 L1258.55,274.36 L1258.70,272.33 L1258.85,275.87 L1259.01,273.67 L1259.16,269.81 L1259.31,272.00 L1259.47,276.10 L1259.62,269.45 L1259.77,269.70 L1259.93,275.81 L1260.08,272.23 L1260.23,268.43 L1260.39,269.03 L1260.54,270.48 L1260.69,265.05 L1260.85,265.64 L1261.00,260.70 L1261.15,259.04 L1261.30,258.36 L1261.45,264.80 L1261.60,264.65 L1261.75,265.41 L1261.90,266.39 L1262.05,262.98 L1262.20,261.99 L1262.35,261.73 L1262.50,261.37 L1262.65,256.18 L1262.80,256.52 L1262.95,256.52 L1263.10,256.61 L1263.25,253.80 L1263.40,254.34 L1263.55,255.66 L1263.71,255.54 L1263.86,256.50 L1264.01,257.27 L1264.17,256.49 L1264.32,257.27 L1264.47,256.83 L1264.63,257.07 L1264.78,255.88 L1264.93,251.19 L1265.09,256.13 L1265.24,255.81 L1265.39,255.50 L1265.55,254.23 L1265.70,251.31 L1265.86,245.31" fill="none" stroke="#1d610f" stroke-width="4.20" stroke-linejoin="round" stroke-linecap="round"/>
<path d="M1265.86,245.31 L1266.02,247.11 L1266.18,244.23 L1266.34,242.23 L1266.50,236.28 L1266.66,243.39 L1266.82,236.60 L1266.98,233.75 L1267.14,236.58 L1267.30,236.71 L1267.45,232.73 L1267.61,233.65 L1267.76,234.45 L1267.91,234.15 L1268.07,234.92 L1268.22,235.49 L1268.37,231.70 L1268.53,226.31 L1268.68,234.97 L1268.83,230.25 L1268.99,226.34 L1269.14,229.93 L1269.29,230.04 L1269.45,225.97 L1269.60,232.17 L1269.76,225.92 L1269.92,230.72 L1270.08,229.92 L1270.24,231.39 L1270.40,232.54 L1270.56,232.38 L1270.72,235.00 L1270.88,231.91 L1271.04,234.72 L1271.20,243.33 L1271.36,234.70 L1271.52,243.95 L1271.68,237.84 L1271.84,241.40 L1272.00,248.97 L1272.16,248.66 L1272.32,249.35 L1272.48,248.07 L1272.64,253.12 L1272.80,255.75 L1272.95,256.17 L1273.11,254.46 L1273.26,260.10 L1273.41,263.58 L1273.57,266.87 L1273.72,268.14 L1273.87,269.79 L1274.03,271.25 L1274.18,262.79 L1274.33,274.06 L1274.49,273.11 L1274.64,270.62 L1274.79,275.01 L1274.95,278.61 L1275.10,272.84 L1275.26,271.43 L1275.42,276.57 L1275.58,274.14 L1275.74,279.25 L1275.90,277.57 L1276.06,275.07 L1276.22,272.28 L1276.38,277.55 L1276.54,272.46 L1276.70,272.49 L1276.86,270.89 L1277.02,278.47 L1277.18,277.88 L1277.34,273.30 L1277.50,269.71 L1277.66,270.65 L1277.82,270.96 L1277.98,264.18 L1278.14,267.50 L1278.30,263.13 L1278.45,265.34 L1278.61,255.26 L1278.76,258.97 L1278.91,257.93 L1279.07,264.21 L1279.22,260.89 L1279.37,256.11 L1279.53,263.27 L1279.68,258.43 L1279.83,258.54 L1279.99,254.60 L1280.14,259.01 L1280.29,258.65 L1280.45,256.87 L1280.60,255.82 L1280.75,255.50 L1280.91,255.25 L1281.06,253.40 L1281.22,261.01 L1281.37,262.64 L1281.53,256.55 L1281.68,255.70 L1281.84,260.47 L1281.99,264.26 L1282.15,262.85 L1282.30,261.33 L1282.45,260.12 L1282.60,260.56 L1282.75,258.74 L1282.90,261.32 L1283.05,261.12 L1283.20,259.09 L1283.35,260.46 L1283.50,255.33 L1283.65,252.03 L1283.80,258.52 L1283.95,248.07 L1284.10,246.49 L1284.25,245.84 L1284.40,247.82 L1284.55,245.00 L1284.70,250.20 L1284.85,243.26 L1285.00,244.91 L1285.15,244.69 L1285.30,242.18 L1285.45,247.89 L1285.61,244.82 L1285.76,246.23 L1285.91,243.50" fill="none" stroke="#1d610f" stroke-width="4.20" stroke-linejoin="round" stroke-linecap="round"/>
<path d="M1285.91,243.50 L1286.06,244.50 L1286.22,242.78 L1286.37,243.61 L1286.52,243.12 L1286.67,241.01 L1286.83,243.52 L1286.98,242.18 L1287.13,239.20 L1287.28,237.80 L1287.44,241.57 L1287.59,245.07 L1287.74,237.88 L1287.89,238.12 L1288.05,240.51 L1288.20,242.72 L1288.35,242.71 L1288.51,237.13 L1288.66,239.27 L1288.81,242.65 L1288.96,241.81 L1289.12,240.30 L1289.27,237.10 L1289.42,240.34 L1289.57,240.75 L1289.73,241.31 L1289.88,245.90 L1290.03,246.08 L1290.18,240.83 L1290.34,242.29 L1290.49,241.19 L1290.64,242.18 L1290.79,247.00 L1290.95,246.61 L1291.10,243.90 L1291.25,241.33 L1291.40,242.32 L1291.55,244.46 L1291.70,242.78 L1291.85,247.34 L1292.00,245.74 L1292.15,241.92 L1292.30,250.71 L1292.45,240.58 L1292.60,243.38 L1292.75,245.46 L1292.90,249.68 L1293.05,251.64 L1293.20,253.48 L1293.35,253.91 L1293.50,251.91 L1293.66,250.12 L1293.83,252.19 L1293.99,249.61 L1294.15,245.06 L1294.32,246.01 L1294.48,249.53 L1294.65,250.33 L1294.81,245.37 L1294.97,250.64 L1295.14,249.49 L1295.30,243.67 L1295.45,248.75 L1295.61,252.52 L1295.76,252.90 L1295.91,251.10 L1296.07,249.62 L1296.22,255.42 L1296.37,255.06 L1296.53,254.80 L1296.68,254.11 L1296.83,252.57 L1296.99,250.83 L1297.14,254.52 L1297.29,260.67 L1297.45,262.03 L1297.60,258.72 L1297.75,264.40 L1297.91,261.19 L1298.06,258.20 L1298.21,263.43 L1298.37,266.47 L1298.52,262.42 L1298.67,259.02 L1298.83,261.74 L1298.98,258.49 L1299.13,261.90 L1299.29,268.37 L1299.44,266.99 L1299.59,263.97 L1299.75,267.67 L1299.90,265.60 L1300.06,270.90 L1300.23,268.35 L1300.39,274.47 L1300.55,270.94 L1300.72,271.87 L1300.88,269.47 L1301.05,268.38 L1301.21,273.44 L1301.37,275.29 L1301.54,272.85 L1301.70,276.95 L1301.86,274.20 L1302.03,272.32 L1302.19,272.50 L1302.35,273.27 L1302.52,273.81 L1302.68,274.81 L1302.85,271.96 L1303.01,267.22 L1303.17,265.27 L1303.34,267.19 L1303.50,262.67 L1303.65,263.42 L1303.81,262.25 L1303.96,261.95 L1304.12,261.89 L1304.27,263.60 L1304.43,265.06 L1304.58,262.53 L1304.74,261.36 L1304.89,254.20 L1305.05,257.38 L1305.20,258.30 L1305.36,250.80 L1305.52,259.47 L1305.68,252.81 L1305.84,249.26 L1306.00,254.80" fill="none" stroke="#1d610f" stroke-width="4.20" stroke-linejoin="round" stroke-linecap="round"/>
<path d="M1306.00,254.80 L1306.16,252.47 L1306.32,249.01 L1306.48,248.38 L1306.64,252.67 L1306.80,251.35 L1306.96,248.87 L1307.12,252.26 L1307.28,247.00 L1307.44,245.42 L1307.60,245.51 L1307.75,245.06 L1307.91,249.01 L1308.06,247.51 L1308.21,244.66 L1308.37,245.47 L1308.52,244.47 L1308.67,246.17 L1308.83,247.36 L1308.98,249.10 L1309.13,247.13 L1309.29,248.28 L1309.44,244.74 L1309.59,246.34 L1309.75,247.12 L1309.90,243.76 L1310.06,246.51 L1310.23,245.58 L1310.39,244.42 L1310.55,241.94 L1310.72,247.66 L1310.88,243.05 L1311.05,238.86 L1311.21,236.75 L1311.37,239.60 L1311.54,237.56 L1311.70,234.69 L1311.85,233.70 L1312.01,237.71 L1312.16,236.10 L1312.32,237.96 L1312.47,235.08 L1312.63,230.50 L1312.78,234.54 L1312.94,233.79 L1313.09,230.27 L1313.25,229.58 L1313.40,226.91 L1313.56,231.69 L1313.73,229.76 L1313.89,231.87 L1314.05,232.05 L1314.22,230.80 L1314.38,232.37 L1314.55,231.47 L1314.71,229.61 L1314.87,231.49 L1315.04,230.61 L1315.20,236.43 L1315.35,238.61 L1315.51,236.47 L1315.66,239.92 L1315.81,240.49 L1315.97,242.99 L1316.12,238.76 L1316.27,240.57 L1316.43,238.65 L1316.58,239.31 L1316.73,245.65 L1316.89,238.47 L1317.04,239.77 L1317.19,244.47 L1317.35,247.07 L1317.50,243.86 L1317.65,239.55 L1317.80,239.70 L1317.95,245.31 L1318.10,249.36 L1318.25,250.23 L1318.40,245.92 L1318.55,250.51 L1318.70,247.66 L1318.85,249.11 L1319.00,247.37 L1319.15,251.87 L1319.30,247.42 L1319.45,242.95 L1319.60,245.05 L1319.75,247.55 L1319.90,248.61 L1320.06,246.14 L1320.23,246.75 L1320.39,244.49 L1320.55,246.24 L1320.72,247.68 L1320.88,248.54 L1321.05,252.93 L1321.21,245.59 L1321.37,249.07 L1321.54,250.46 L1321.70,246.72 L1321.85,247.82 L1322.01,247.19 L1322.16,243.51 L1322.32,246.42 L1322.47,249.82 L1322.63,246.68 L1322.78,245.28 L1322.94,244.91 L1323.09,240.76 L1323.25,241.80 L1323.40,236.49 L1323.56,237.59 L1323.72,239.14 L1323.88,241.02 L1324.04,236.97 L1324.20,235.52 L1324.36,236.93 L1324.52,235.62 L1324.68,235.59 L1324.84,237.17 L1325.00,233.12 L1325.16,236.15 L1325.32,235.48 L1325.48,233.28 L1325.64,229.70 L1325.80,230.09 L1325.95,231.61 L1326.11,234.54" fill="none" stroke="#1d610f" stroke-width="4.20" stroke-linejoin="round" stroke-linecap="round"/>
<path d="M1326.11,234.54 L1326.26,227.01 L1326.42,231.57 L1326.57,231.08 L1326.73,226.90 L1326.88,230.59 L1327.04,230.00 L1327.19,229.48 L1327.35,225.04 L1327.50,222.91 L1327.66,228.24 L1327.83,231.39 L1327.99,229.75 L1328.15,227.96 L1328.32,226.95 L1328.48,224.81 L1328.65,229.91 L1328.81,229.15 L1328.97,232.72 L1329.14,228.80 L1329.30,233.08 L1329.45,229.47 L1329.61,231.94 L1329.76,234.86 L1329.91,230.21 L1330.07,233.21 L1330.22,231.71 L1330.37,228.82 L1330.53,231.07 L1330.68,233.00 L1330.83,229.99 L1330.99,230.35 L1331.14,229.71 L1331.29,229.04 L1331.45,230.40 L1331.60,233.63 L1331.75,231.56 L1331.90,235.96 L1332.05,233.30 L1332.20,231.60 L1332.35,235.85 L1332.50,237.11 L1332.65,233.29 L1332.80,235.22 L1332.95,231.18 L1333.10,232.04 L1333.25,232.44 L1333.40,235.50 L1333.55,231.24 L1333.70,232.00 L1333.85,231.81 L1334.00,233.91 L1334.15,230.69 L1334.31,229.67 L1334.46,239.67 L1334.61,235.65 L1334.77,229.68 L1334.92,233.89 L1335.07,229.31 L1335.23,229.24 L1335.38,234.78 L1335.53,236.18 L1335.69,231.00 L1335.84,228.95 L1335.99,232.16 L1336.15,237.26 L1336.30,234.94 L1336.45,234.54 L1336.60,229.61 L1336.75,229.05 L1336.90,232.01 L1337.05,235.68 L1337.20,234.86 L1337.35,234.64 L1337.50,238.64 L1337.65,234.37 L1337.80,238.60 L1337.95,239.56 L1338.10,236.14 L1338.25,237.04 L1338.40,237.30 L1338.55,238.66 L1338.70,235.50" fill="none" stroke="#1d610f" stroke-width="4.20" stroke-linejoin="round" stroke-linecap="round"/>
<path d="M191.20,116.00 L200.20,126.00 L209.20,116.00 Z" fill="#fff" fill-opacity="0.6" stroke="#e2e2e2" stroke-width="1.2"/>
<rect x="178.00" y="95.00" width="43" height="21" fill="#fff" stroke="#d0d0d0" stroke-width="1.6"/>
<text x="198.50" y="112.40" class="an" text-anchor="middle" textLength="35" lengthAdjust="spacingAndGlyphs">8.16</text>
<path d="M151.50,210.50 L160.50,200.50 L169.50,210.50 Z" fill="#fff" fill-opacity="0.6" stroke="#e2e2e2" stroke-width="1.2"/>
<rect x="138.30" y="210.50" width="43" height="21" fill="#fff" stroke="#d0d0d0" stroke-width="1.6"/>
<text x="158.80" y="227.90" class="an" text-anchor="middle" textLength="35" lengthAdjust="spacingAndGlyphs">5.78</text>
<path d="M383.00,157.50 L392.00,167.50 L401.00,157.50 Z" fill="#fff" fill-opacity="0.6" stroke="#e2e2e2" stroke-width="1.2"/>
<rect x="369.80" y="136.50" width="43" height="21" fill="#fff" stroke="#d0d0d0" stroke-width="1.6"/>
<text x="390.30" y="153.90" class="an" text-anchor="middle" textLength="35" lengthAdjust="spacingAndGlyphs">6.75</text>
<path d="M336.50,252.00 L345.50,242.00 L354.50,252.00 Z" fill="#fff" fill-opacity="0.6" stroke="#e2e2e2" stroke-width="1.2"/>
<rect x="323.30" y="252.00" width="43" height="21" fill="#fff" stroke="#d0d0d0" stroke-width="1.6"/>
<text x="343.80" y="269.40" class="an" text-anchor="middle" textLength="35" lengthAdjust="spacingAndGlyphs">4.70</text>
<path d="M544.00,198.50 L553.00,208.50 L562.00,198.50 Z" fill="#fff" fill-opacity="0.6" stroke="#e2e2e2" stroke-width="1.2"/>
<rect x="530.80" y="177.50" width="43" height="21" fill="#fff" stroke="#d0d0d0" stroke-width="1.6"/>
<text x="551.30" y="194.90" class="an" text-anchor="middle" textLength="35" lengthAdjust="spacingAndGlyphs">5.53</text>
<path d="M507.60,277.50 L516.60,267.50 L525.60,277.50 Z" fill="#fff" fill-opacity="0.6" stroke="#e2e2e2" stroke-width="1.2"/>
<rect x="494.40" y="277.50" width="43" height="21" fill="#fff" stroke="#d0d0d0" stroke-width="1.6"/>
<text x="514.90" y="294.90" class="an" text-anchor="middle" textLength="35" lengthAdjust="spacingAndGlyphs">4.17</text>
<path d="M581.00,277.50 L590.00,267.50 L599.00,277.50 Z" fill="#fff" fill-opacity="0.6" stroke="#e2e2e2" stroke-width="1.2"/>
<rect x="567.80" y="277.50" width="43" height="21" fill="#fff" stroke="#d0d0d0" stroke-width="1.6"/>
<text x="588.30" y="294.90" class="an" text-anchor="middle" textLength="35" lengthAdjust="spacingAndGlyphs">4.19</text>
<path d="M657.30,201.30 L666.30,211.30 L675.30,201.30 Z" fill="#fff" fill-opacity="0.6" stroke="#e2e2e2" stroke-width="1.2"/>
<rect x="644.10" y="180.30" width="43" height="21" fill="#fff" stroke="#d0d0d0" stroke-width="1.6"/>
<text x="664.60" y="197.70" class="an" text-anchor="middle" textLength="35" lengthAdjust="spacingAndGlyphs">5.40</text>
<path d="M759.20,223.80 L768.20,233.80 L777.20,223.80 Z" fill="#fff" fill-opacity="0.6" stroke="#e2e2e2" stroke-width="1.2"/>
<rect x="746.00" y="202.80" width="43" height="21" fill="#fff" stroke="#d0d0d0" stroke-width="1.6"/>
<text x="766.50" y="220.20" class="an" text-anchor="middle" textLength="35" lengthAdjust="spacingAndGlyphs">4.83</text>
<path d="M713.00,381.50 L722.00,371.50 L731.00,381.50 Z" fill="#fff" fill-opacity="0.6" stroke="#e2e2e2" stroke-width="1.2"/>
<rect x="699.80" y="381.50" width="43" height="21" fill="#fff" stroke="#d0d0d0" stroke-width="1.6"/>
<text x="720.30" y="398.90" class="an" text-anchor="middle" textLength="35" lengthAdjust="spacingAndGlyphs">2.51</text>
<path d="M775.40,312.00 L784.40,302.00 L793.40,312.00 Z" fill="#fff" fill-opacity="0.6" stroke="#e2e2e2" stroke-width="1.2"/>
<rect x="762.20" y="312.00" width="43" height="21" fill="#fff" stroke="#d0d0d0" stroke-width="1.6"/>
<text x="782.70" y="329.40" class="an" text-anchor="middle" textLength="35" lengthAdjust="spacingAndGlyphs">3.52</text>
<path d="M832.70,292.00 L841.70,302.00 L850.70,292.00 Z" fill="#fff" fill-opacity="0.6" stroke="#e2e2e2" stroke-width="1.2"/>
<rect x="819.50" y="271.00" width="43" height="21" fill="#fff" stroke="#d0d0d0" stroke-width="1.6"/>
<text x="840.00" y="288.40" class="an" text-anchor="middle" textLength="35" lengthAdjust="spacingAndGlyphs">3.48</text>
<path d="M816.10,365.30 L825.10,355.30 L834.10,365.30 Z" fill="#fff" fill-opacity="0.6" stroke="#e2e2e2" stroke-width="1.2"/>
<rect x="802.90" y="365.30" width="43" height="21" fill="#fff" stroke="#d0d0d0" stroke-width="1.6"/>
<text x="823.40" y="382.70" class="an" text-anchor="middle" textLength="35" lengthAdjust="spacingAndGlyphs">2.72</text>
<path d="M845.20,388.10 L854.20,378.10 L863.20,388.10 Z" fill="#fff" fill-opacity="0.6" stroke="#e2e2e2" stroke-width="1.2"/>
<rect x="832.00" y="388.10" width="43" height="21" fill="#fff" stroke="#d0d0d0" stroke-width="1.6"/>
<text x="852.50" y="405.50" class="an" text-anchor="middle" textLength="35" lengthAdjust="spacingAndGlyphs">2.45</text>
<path d="M898.50,267.90 L907.50,277.90 L916.50,267.90 Z" fill="#fff" fill-opacity="0.6" stroke="#e2e2e2" stroke-width="1.2"/>
<rect x="885.30" y="246.90" width="43" height="21" fill="#fff" stroke="#d0d0d0" stroke-width="1.6"/>
<text x="905.80" y="264.30" class="an" text-anchor="middle" textLength="35" lengthAdjust="spacingAndGlyphs">3.94</text>
<path d="M952.50,304.90 L961.50,314.90 L970.50,304.90 Z" fill="#fff" fill-opacity="0.6" stroke="#e2e2e2" stroke-width="1.2"/>
<rect x="939.30" y="283.90" width="43" height="21" fill="#fff" stroke="#d0d0d0" stroke-width="1.6"/>
<text x="959.80" y="301.30" class="an" text-anchor="middle" textLength="35" lengthAdjust="spacingAndGlyphs">3.25</text>
<path d="M938.40,404.60 L947.40,394.60 L956.40,404.60 Z" fill="#fff" fill-opacity="0.6" stroke="#e2e2e2" stroke-width="1.2"/>
<rect x="925.20" y="404.60" width="43" height="21" fill="#fff" stroke="#d0d0d0" stroke-width="1.6"/>
<text x="945.70" y="422.00" class="an" text-anchor="middle" textLength="35" lengthAdjust="spacingAndGlyphs">2.25</text>
<path d="M991.40,417.90 L1000.40,407.90 L1009.40,417.90 Z" fill="#fff" fill-opacity="0.6" stroke="#e2e2e2" stroke-width="1.2"/>
<rect x="978.20" y="417.90" width="43" height="21" fill="#fff" stroke="#d0d0d0" stroke-width="1.6"/>
<text x="998.70" y="435.30" class="an" text-anchor="middle" textLength="35" lengthAdjust="spacingAndGlyphs">2.11</text>
<path d="M1078.00,293.80 L1087.00,303.80 L1096.00,293.80 Z" fill="#fff" fill-opacity="0.6" stroke="#e2e2e2" stroke-width="1.2"/>
<rect x="1064.80" y="272.80" width="43" height="21" fill="#fff" stroke="#d0d0d0" stroke-width="1.6"/>
<text x="1085.30" y="290.20" class="an" text-anchor="middle" textLength="35" lengthAdjust="spacingAndGlyphs">3.45</text>
<path d="M1114.80,366.40 L1123.80,376.40 L1132.80,366.40 Z" fill="#fff" fill-opacity="0.6" stroke="#e2e2e2" stroke-width="1.2"/>
<rect x="1101.60" y="345.40" width="43" height="21" fill="#fff" stroke="#d0d0d0" stroke-width="1.6"/>
<text x="1122.10" y="362.80" class="an" text-anchor="middle" textLength="35" lengthAdjust="spacingAndGlyphs">2.42</text>
<path d="M1163.70,362.60 L1172.70,372.60 L1181.70,362.60 Z" fill="#fff" fill-opacity="0.6" stroke="#e2e2e2" stroke-width="1.2"/>
<rect x="1150.50" y="341.60" width="43" height="21" fill="#fff" stroke="#d0d0d0" stroke-width="1.6"/>
<text x="1171.00" y="359.00" class="an" text-anchor="middle" textLength="35" lengthAdjust="spacingAndGlyphs">2.48</text>
<path d="M1134.70,440.90 L1143.70,450.90 L1152.70,440.90 Z" fill="#fff" fill-opacity="0.6" stroke="#e2e2e2" stroke-width="1.2"/>
<rect x="1121.50" y="419.90" width="43" height="21" fill="#fff" stroke="#d0d0d0" stroke-width="1.6"/>
<text x="1142.00" y="437.30" class="an" text-anchor="middle" textLength="35" lengthAdjust="spacingAndGlyphs">1.68</text>
<path d="M1140.20,536.40 L1149.20,526.40 L1158.20,536.40 Z" fill="#fff" fill-opacity="0.6" stroke="#e2e2e2" stroke-width="1.2"/>
<rect x="1127.00" y="536.40" width="43" height="21" fill="#fff" stroke="#d0d0d0" stroke-width="1.6"/>
<text x="1147.50" y="553.80" class="an" text-anchor="middle" textLength="35" lengthAdjust="spacingAndGlyphs">1.19</text>
<path d="M1126.50,585.60 L1135.50,575.60 L1144.50,585.60 Z" fill="#fff" fill-opacity="0.6" stroke="#e2e2e2" stroke-width="1.2"/>
<rect x="1113.30" y="585.60" width="43" height="21" fill="#fff" stroke="#d0d0d0" stroke-width="1.6"/>
<text x="1133.80" y="603.00" class="an" text-anchor="middle" textLength="35" lengthAdjust="spacingAndGlyphs">0.94</text>
<path d="M1189.50,467.50 L1198.50,457.50 L1207.50,467.50 Z" fill="#fff" fill-opacity="0.6" stroke="#e2e2e2" stroke-width="1.2"/>
<rect x="1176.30" y="467.50" width="43" height="21" fill="#fff" stroke="#d0d0d0" stroke-width="1.6"/>
<text x="1196.80" y="484.90" class="an" text-anchor="middle" textLength="35" lengthAdjust="spacingAndGlyphs">1.67</text>
<path d="M1259.90,213.80 L1268.90,223.80 L1277.90,213.80 Z" fill="#fff" fill-opacity="0.6" stroke="#e2e2e2" stroke-width="1.2"/>
<rect x="1246.70" y="192.80" width="43" height="21" fill="#fff" stroke="#d0d0d0" stroke-width="1.6"/>
<text x="1267.20" y="210.20" class="an" text-anchor="middle" textLength="35" lengthAdjust="spacingAndGlyphs">5.10</text>
<path d="M1341.7,238.6 L1350,227.6 L1398,227.6 L1398,250.2 L1350,250.2 Z" fill="#fff" stroke="#2a6f1c" stroke-width="1.8"/>
<text x="1372.5" y="246.6" class="lv" text-anchor="middle">4.76</text>
<text x="20.5" y="34.8" class="t1" textLength="111.5" lengthAdjust="spacingAndGlyphs">$UST30Y</text>
<text x="140" y="32.6" class="t2" textLength="332" lengthAdjust="spacingAndGlyphs">30-Year US Treasury Yield (EOD)</text>
<text x="482.5" y="32.7" class="t3" textLength="48.5" lengthAdjust="spacingAndGlyphs">INDX</text>
<text x="19" y="58.6" class="ax" textLength="112">5-Sep-2025</text>
<text x="1163" y="32.6" class="sc" textLength="184" lengthAdjust="spacingAndGlyphs">© StockCharts.com</text>
<text x="670.8" y="59.2" class="hb" textLength="58.0" lengthAdjust="spacingAndGlyphs">Open</text>
<text x="736.2" y="59.2" class="hn" textLength="42.1" lengthAdjust="spacingAndGlyphs">4.86</text>
<text x="791.3" y="59.2" class="hb" textLength="48.2" lengthAdjust="spacingAndGlyphs">High</text>
<text x="845.9" y="59.2" class="hn" textLength="42.5" lengthAdjust="spacingAndGlyphs">4.86</text>
<text x="901.4" y="59.2" class="hb" textLength="48.1" lengthAdjust="spacingAndGlyphs">Low</text>
<text x="956.8" y="59.2" class="hn" textLength="42.1" lengthAdjust="spacingAndGlyphs">4.76</text>
<text x="1011.7" y="59.2" class="hb" textLength="63.1" lengthAdjust="spacingAndGlyphs">Close</text>
<text x="1083.3" y="59.2" class="hn" textLength="42.7" lengthAdjust="spacingAndGlyphs">4.76</text>
<text x="1137.6" y="59.2" class="hb" textLength="45.2" lengthAdjust="spacingAndGlyphs">Chg</text>
<text x="1188.8" y="59.2" class="hn" textLength="48.5" lengthAdjust="spacingAndGlyphs">-0.09</text>
<text x="1243.8" y="59.2" class="hn" textLength="83.1" lengthAdjust="spacingAndGlyphs">(-1.96%)</text>
<path d="M1331.4,49.5 L1345.4,49.5 L1338.4,56.7 Z" fill="#8c1a2c"/>
</svg>
</body></html>
